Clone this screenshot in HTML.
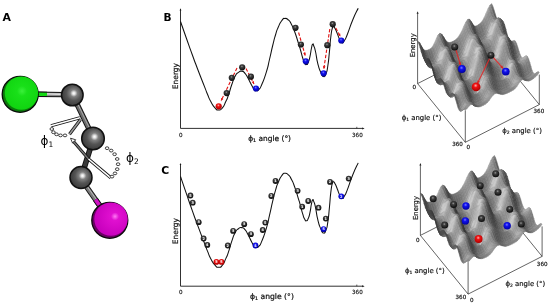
<!DOCTYPE html>
<html><head><meta charset="utf-8"><title>Energy landscape</title>
<style>html,body{margin:0;padding:0;background:#fff;}svg{display:block}</style></head>
<body><svg width="550" height="304" viewBox="0 0 550 304">
<rect width="550" height="304" fill="#fff"/>
<defs>
<radialGradient id="gG" cx="0.52" cy="0.44" r="0.6"><stop offset="0" stop-color="#3bf03b"/><stop offset="0.25" stop-color="#19e019"/><stop offset="1" stop-color="#0fd30f"/></radialGradient>
<radialGradient id="gM" cx="0.62" cy="0.42" r="0.6"><stop offset="0" stop-color="#ff7af5"/><stop offset="0.2" stop-color="#e010d0"/><stop offset="1" stop-color="#c800bd"/></radialGradient>
<radialGradient id="gC" cx="0.57" cy="0.42" r="0.62"><stop offset="0" stop-color="#ffffff"/><stop offset="0.1" stop-color="#e4e4e4"/><stop offset="0.27" stop-color="#808080"/><stop offset="0.55" stop-color="#545454"/><stop offset="1" stop-color="#363636"/></radialGradient>
<radialGradient id="bK" cx="0.45" cy="0.36" r="0.62"><stop offset="0" stop-color="#9a9a9a"/><stop offset="0.3" stop-color="#404040"/><stop offset="0.7" stop-color="#222"/><stop offset="1" stop-color="#0c0c0c"/></radialGradient>
<radialGradient id="bB" cx="0.45" cy="0.35" r="0.65"><stop offset="0" stop-color="#7a7aff"/><stop offset="0.35" stop-color="#1111ee"/><stop offset="1" stop-color="#0000a0"/></radialGradient>
<radialGradient id="bR" cx="0.45" cy="0.35" r="0.65"><stop offset="0" stop-color="#ffaaaa"/><stop offset="0.35" stop-color="#ee1111"/><stop offset="1" stop-color="#aa0000"/></radialGradient>
</defs>
<text x="2.6" y="20.8" font-size="10.9" font-weight="bold" text-anchor="start" font-family="DejaVu Sans, Liberation Sans, sans-serif" >A</text>
<text x="163.6" y="20.9" font-size="10.6" font-weight="bold" text-anchor="start" font-family="DejaVu Sans, Liberation Sans, sans-serif" >B</text>
<text x="161.2" y="173.9" font-size="10.8" font-weight="bold" text-anchor="start" font-family="DejaVu Sans, Liberation Sans, sans-serif" >C</text>
<line x1="51.0" y1="125.8" x2="80.0" y2="117.8" stroke="#111" stroke-width="3.20" stroke-linecap="butt"/>
<line x1="51.0" y1="125.8" x2="80.0" y2="117.8" stroke="#fff" stroke-width="1.60" stroke-linecap="butt"/>
<line x1="69.5" y1="134.2" x2="80.5" y2="119.5" stroke="#111" stroke-width="3.20" stroke-linecap="butt"/>
<line x1="69.5" y1="134.2" x2="80.5" y2="119.5" stroke="#999" stroke-width="1.60" stroke-linecap="butt"/>
<ellipse cx="51.8" cy="129.0" rx="1.8" ry="1.4" fill="#fff" stroke="#111" stroke-width="0.8"/>
<ellipse cx="53.4" cy="132.2" rx="1.8" ry="1.4" fill="#fff" stroke="#111" stroke-width="0.8"/>
<ellipse cx="56.5" cy="134.3" rx="1.8" ry="1.4" fill="#fff" stroke="#111" stroke-width="0.8"/>
<ellipse cx="60.5" cy="135.4" rx="1.8" ry="1.4" fill="#fff" stroke="#111" stroke-width="0.8"/>
<ellipse cx="65.0" cy="135.4" rx="1.8" ry="1.4" fill="#fff" stroke="#111" stroke-width="0.8"/>
<line x1="36.0" y1="94.3" x2="64.0" y2="94.6" stroke="#111" stroke-width="5.40" stroke-linecap="butt"/>
<line x1="36.0" y1="94.3" x2="64.0" y2="94.6" stroke="#8a8a8a" stroke-width="3.40" stroke-linecap="butt"/>
<line x1="46.0" y1="93.9" x2="63.0" y2="94.2" stroke="#e8e8e8" stroke-width="1.40" opacity="1.00"/>
<line x1="36.0" y1="94.3" x2="47.0" y2="94.4" stroke="#111" stroke-width="5.40" stroke-linecap="butt"/>
<line x1="36.0" y1="94.3" x2="47.0" y2="94.4" stroke="#14d814" stroke-width="3.40" stroke-linecap="butt"/>
<line x1="76.5" y1="103.0" x2="90.0" y2="131.0" stroke="#111" stroke-width="5.40" stroke-linecap="butt"/>
<line x1="76.5" y1="103.0" x2="90.0" y2="131.0" stroke="#6a6a6a" stroke-width="3.60" stroke-linecap="butt"/>
<line x1="77.3" y1="103.0" x2="90.8" y2="131.0" stroke="#aaa" stroke-width="1.00" opacity="1.00"/>
<line x1="91.0" y1="146.0" x2="83.5" y2="170.0" stroke="#111" stroke-width="5.60" stroke-linecap="butt"/>
<line x1="91.0" y1="146.0" x2="83.5" y2="170.0" stroke="#3a3a3a" stroke-width="3.80" stroke-linecap="butt"/>
<line x1="86.0" y1="186.0" x2="100.0" y2="206.0" stroke="#111" stroke-width="5.40" stroke-linecap="butt"/>
<line x1="86.0" y1="186.0" x2="100.0" y2="206.0" stroke="#7a7a7a" stroke-width="3.60" stroke-linecap="butt"/>
<line x1="86.6" y1="185.6" x2="100.6" y2="205.6" stroke="#bbb" stroke-width="1.00" opacity="1.00"/>
<line x1="95.5" y1="199.6" x2="101.0" y2="207.4" stroke="#111" stroke-width="5.40" stroke-linecap="butt"/>
<line x1="95.5" y1="199.6" x2="101.0" y2="207.4" stroke="#d010c4" stroke-width="3.60" stroke-linecap="butt"/>
<polygon points="70.5,138.2 75.8,139.8 72.6,143.2" fill="#fff" stroke="#111" stroke-width="0.8"/>
<line x1="73.5" y1="141.5" x2="88.5" y2="159.0" stroke="#111" stroke-width="3.00" stroke-linecap="butt"/>
<line x1="73.5" y1="141.5" x2="88.5" y2="159.0" stroke="#777" stroke-width="1.40" stroke-linecap="butt"/>
<line x1="88.5" y1="159.0" x2="110.8" y2="177.8" stroke="#111" stroke-width="3.20" stroke-linecap="butt"/>
<line x1="88.5" y1="159.0" x2="110.8" y2="177.8" stroke="#fff" stroke-width="1.60" stroke-linecap="butt"/>
<ellipse cx="107.1" cy="148.2" rx="1.8" ry="1.4" fill="#fff" stroke="#111" stroke-width="0.8"/>
<ellipse cx="111.2" cy="150.6" rx="1.8" ry="1.4" fill="#fff" stroke="#111" stroke-width="0.8"/>
<ellipse cx="114.6" cy="154.2" rx="1.8" ry="1.4" fill="#fff" stroke="#111" stroke-width="0.8"/>
<ellipse cx="117.2" cy="159.0" rx="1.8" ry="1.4" fill="#fff" stroke="#111" stroke-width="0.8"/>
<ellipse cx="118.1" cy="164.2" rx="1.8" ry="1.4" fill="#fff" stroke="#111" stroke-width="0.8"/>
<ellipse cx="117.2" cy="169.2" rx="1.8" ry="1.4" fill="#fff" stroke="#111" stroke-width="0.8"/>
<ellipse cx="115.0" cy="173.4" rx="1.8" ry="1.4" fill="#fff" stroke="#111" stroke-width="0.8"/>
<ellipse cx="112.0" cy="176.6" rx="1.8" ry="1.4" fill="#fff" stroke="#111" stroke-width="0.8"/>
<circle cx="20.2" cy="94.3" r="18.0" fill="#0a7a0a" stroke="#0a0a0a" stroke-width="1.3"/>
<circle cx="21.4" cy="93.1" r="16.7" fill="url(#gG)"/>
<circle cx="72.3" cy="95.0" r="10.8" fill="url(#gC)" stroke="#111" stroke-width="1.5"/>
<circle cx="93.0" cy="138.5" r="11.3" fill="url(#gC)" stroke="#111" stroke-width="1.5"/>
<circle cx="81.0" cy="177.5" r="11.0" fill="url(#gC)" stroke="#111" stroke-width="1.5"/>
<circle cx="109.8" cy="220.3" r="18.0" fill="#6a0064" stroke="#0a0a0a" stroke-width="1.3"/>
<circle cx="111.0" cy="219.1" r="16.7" fill="url(#gM)"/>
<text x="40.5" y="144.5" font-size="12" font-family="DejaVu Sans, Liberation Sans, sans-serif">ϕ<tspan font-size="7.5" dy="2.2">1</tspan></text>
<text x="126" y="161.5" font-size="12" font-family="DejaVu Sans, Liberation Sans, sans-serif">ϕ<tspan font-size="7.5" dy="2.2">2</tspan></text>
<path d="M180.5 9.4 V128.4 H363.2" fill="none" stroke="#1a1a1a" stroke-width="0.9"/>
<path d="M180.5 8.2 l-0.9 2.2 h1.8z" fill="#1a1a1a"/>
<path d="M364.6 128.4 l-2.4 -1 v2z" fill="#1a1a1a"/>
<path d="M356.8 128.4 v-1.6" stroke="#1a1a1a" stroke-width="0.7"/>
<path d="M180.50 21.50 C182.43 27.00 182.40 27.00 186.30 38.00 C190.20 49.00 188.53 44.43 192.20 54.50 C195.87 64.57 193.20 57.50 197.30 68.20 C201.40 78.90 201.07 77.83 204.50 86.60 C207.93 95.37 205.47 89.43 207.60 94.50 C209.73 99.57 208.43 97.33 210.90 101.80 C213.37 106.27 212.40 105.20 215.00 107.90 C217.60 110.60 216.23 109.90 218.70 109.90 C221.17 109.90 220.03 110.70 222.40 107.90 C224.77 105.10 223.77 105.80 225.80 101.50 C227.83 97.20 226.50 100.67 228.50 95.00 C230.50 89.33 229.63 90.67 231.80 84.50 C233.97 78.33 232.80 80.53 235.00 76.50 C237.20 72.47 236.13 74.13 238.40 72.40 C240.67 70.67 239.60 71.00 241.80 71.30 C244.00 71.60 242.87 70.90 245.00 73.30 C247.13 75.70 245.93 74.43 248.20 78.50 C250.47 82.57 249.73 81.80 251.80 85.50 C253.87 89.20 252.80 87.90 254.40 89.60 C256.00 91.30 255.07 90.70 256.60 90.60 C258.13 90.50 257.27 91.33 259.00 89.30 C260.73 87.27 259.33 90.33 261.80 84.50 C264.27 78.67 263.80 80.30 266.40 71.80 C269.00 63.30 267.50 67.77 269.60 59.00 C271.70 50.23 270.73 53.50 272.70 45.50 C274.67 37.50 273.67 41.07 275.50 35.00 C277.33 28.93 276.10 32.10 278.20 27.30 C280.30 22.50 279.50 23.57 281.80 20.60 C284.10 17.63 282.83 18.53 285.10 18.40 C287.37 18.27 286.47 18.17 288.60 20.20 C290.73 22.23 289.50 20.73 291.50 24.50 C293.50 28.27 292.37 25.50 294.60 31.50 C296.83 37.50 296.23 36.33 298.20 42.50 C300.17 48.67 299.00 44.83 300.50 50.00 C302.00 55.17 301.33 53.67 302.70 58.00 C304.07 62.33 303.37 60.80 304.60 63.00 C305.83 65.20 305.20 64.77 306.40 64.60 C307.60 64.43 307.00 65.23 308.20 62.50 C309.40 59.77 308.93 61.07 310.00 56.40 C311.07 51.73 310.53 52.53 311.40 48.50 C312.27 44.47 311.80 45.13 312.60 44.30 C313.40 43.47 312.83 43.60 313.80 46.00 C314.77 48.40 314.17 45.63 315.50 51.50 C316.83 57.37 316.00 56.53 317.80 63.60 C319.60 70.67 318.97 68.37 320.90 72.70 C322.83 77.03 321.90 76.33 323.60 76.60 C325.30 76.87 324.60 77.03 326.00 73.50 C327.40 69.97 326.67 73.17 327.80 66.00 C328.93 58.83 328.40 61.67 329.40 52.00 C330.40 42.33 329.80 45.00 330.80 37.00 C331.80 29.00 331.47 31.40 332.40 28.00 C333.33 24.60 332.67 26.53 333.60 26.80 C334.53 27.07 333.97 26.53 335.20 28.80 C336.43 31.07 335.77 29.93 337.30 33.60 C338.83 37.27 338.23 36.73 339.80 39.80 C341.37 42.87 340.47 42.57 342.00 42.80 C343.53 43.03 342.63 43.27 344.40 40.50 C346.17 37.73 344.53 41.33 347.30 34.50 C350.07 27.67 349.07 28.77 352.70 20.00 C356.33 11.23 356.37 12.13 358.20 8.20" fill="none" stroke="#111" stroke-width="1.05" stroke-linejoin="round"/>
<text x="180.8" y="136.5" font-size="5.6" text-anchor="middle" fill="#111" stroke="#111" stroke-width="0.15" font-family="DejaVu Sans, Liberation Sans, sans-serif">0</text>
<text x="357.4" y="136.5" font-size="5.6" text-anchor="middle" fill="#111" stroke="#111" stroke-width="0.15" font-family="DejaVu Sans, Liberation Sans, sans-serif">360</text>
<text x="269.6" y="141.3" font-size="7.45" text-anchor="middle" fill="#111" stroke="#111" stroke-width="0.22" font-family="DejaVu Sans, Liberation Sans, sans-serif">ϕ<tspan font-size="4.8" dy="1.1">1</tspan><tspan dy="-1.1"> angle (°)</tspan></text>
<text transform="translate(177.6 76.1) rotate(-90)" font-size="7.5" text-anchor="middle" fill="#111" stroke="#111" stroke-width="0.2" font-family="DejaVu Sans, Liberation Sans, sans-serif">Energy</text>
<line x1="237.0" y1="68.0" x2="221.0" y2="101.0" stroke="#e01010" stroke-width="1.1" stroke-dasharray="3.4 1.8"/>
<polygon points="221.0,101.0 221.1,97.9 223.4,99.0" fill="#e01010"/>
<line x1="246.0" y1="68.4" x2="254.0" y2="84.0" stroke="#e01010" stroke-width="1.1" stroke-dasharray="3.4 1.8"/>
<polygon points="254.0,84.0 251.6,82.1 253.9,80.9" fill="#e01010"/>
<line x1="298.6" y1="32.5" x2="305.2" y2="55.5" stroke="#e01010" stroke-width="1.1" stroke-dasharray="3.4 1.8"/>
<polygon points="305.2,55.5 303.2,53.2 305.7,52.5" fill="#e01010"/>
<line x1="329.8" y1="29.0" x2="323.8" y2="69.0" stroke="#e01010" stroke-width="1.1" stroke-dasharray="3.4 1.8"/>
<polygon points="323.8,69.0 322.9,66.0 325.5,66.4" fill="#e01010"/>
<line x1="335.8" y1="28.0" x2="340.4" y2="36.5" stroke="#e01010" stroke-width="1.1" stroke-dasharray="3.4 1.8"/>
<polygon points="340.4,36.5 337.9,34.7 340.2,33.4" fill="#e01010"/>
<circle cx="242.2" cy="67.3" r="3.1" fill="url(#bK)"/>
<circle cx="231.8" cy="77.8" r="3.1" fill="url(#bK)"/>
<circle cx="226.7" cy="93.1" r="3.1" fill="url(#bK)"/>
<circle cx="250.9" cy="76.7" r="3.1" fill="url(#bK)"/>
<circle cx="256.0" cy="88.5" r="3.1" fill="url(#bB)"/>
<circle cx="218.7" cy="106.3" r="3.1" fill="url(#bR)"/>
<circle cx="295.5" cy="27.8" r="3.1" fill="url(#bK)"/>
<circle cx="300.9" cy="44.5" r="3.1" fill="url(#bK)"/>
<circle cx="327.3" cy="45.2" r="3.1" fill="url(#bK)"/>
<circle cx="332.7" cy="24.2" r="3.1" fill="url(#bK)"/>
<circle cx="341.3" cy="40.5" r="3.1" fill="url(#bB)"/>
<circle cx="305.8" cy="61.3" r="3.1" fill="url(#bB)"/>
<circle cx="323.6" cy="73.3" r="3.1" fill="url(#bB)"/>
<path d="M180.5 164.1 V286.2 H363.2" fill="none" stroke="#1a1a1a" stroke-width="0.9"/>
<path d="M180.5 162.9 l-0.9 2.2 h1.8z" fill="#1a1a1a"/>
<path d="M364.6 286.2 l-2.4 -1 v2z" fill="#1a1a1a"/>
<path d="M356.8 286.2 v-1.6" stroke="#1a1a1a" stroke-width="0.7"/>
<path d="M180.50 176.52 C182.43 182.16 182.40 182.16 186.30 193.45 C190.20 204.73 188.53 200.05 192.20 210.37 C195.87 220.70 193.20 213.45 197.30 224.43 C201.40 235.41 201.07 234.32 204.50 243.31 C207.93 252.31 205.47 246.22 207.60 251.42 C209.73 256.62 208.43 254.32 210.90 258.91 C213.37 263.49 212.40 262.40 215.00 265.17 C217.60 267.94 216.23 267.22 218.70 267.22 C221.17 267.22 220.03 268.04 222.40 265.17 C224.77 262.29 223.77 263.01 225.80 258.60 C227.83 254.19 226.50 257.74 228.50 251.93 C230.50 246.12 229.63 247.48 231.80 241.16 C233.97 234.83 232.80 237.09 235.00 232.95 C237.20 228.81 236.13 230.52 238.40 228.74 C240.67 226.96 239.60 227.30 241.80 227.61 C244.00 227.92 242.87 227.20 245.00 229.66 C247.13 232.13 245.93 230.83 248.20 235.00 C250.47 239.17 249.73 238.39 251.80 242.18 C253.87 245.98 252.80 244.64 254.40 246.39 C256.00 248.13 255.07 247.52 256.60 247.42 C258.13 247.31 257.27 248.17 259.00 246.08 C260.73 244.00 259.33 247.14 261.80 241.16 C264.27 235.17 263.80 236.85 266.40 228.13 C269.00 219.40 267.50 223.99 269.60 214.99 C271.70 206.00 270.73 209.35 272.70 201.14 C274.67 192.93 273.67 196.59 275.50 190.37 C277.33 184.14 276.10 187.39 278.20 182.47 C280.30 177.54 279.50 178.64 281.80 175.59 C284.10 172.55 282.83 173.47 285.10 173.33 C287.37 173.20 286.47 173.10 288.60 175.18 C290.73 177.27 289.50 175.73 291.50 179.59 C293.50 183.46 292.37 180.62 294.60 186.78 C296.83 192.93 296.23 191.73 298.20 198.06 C300.17 204.39 299.00 200.46 300.50 205.76 C302.00 211.06 301.33 209.52 302.70 213.97 C304.07 218.41 303.37 216.84 304.60 219.10 C305.83 221.35 305.20 220.91 306.40 220.74 C307.60 220.57 307.00 221.39 308.20 218.58 C309.40 215.78 308.93 217.11 310.00 212.32 C311.07 207.54 310.53 208.36 311.40 204.22 C312.27 200.08 311.80 200.76 312.60 199.91 C313.40 199.05 312.83 199.19 313.80 201.65 C314.77 204.12 314.17 201.28 315.50 207.30 C316.83 213.32 316.00 212.46 317.80 219.71 C319.60 226.96 318.97 224.60 320.90 229.05 C322.83 233.50 321.90 232.78 323.60 233.05 C325.30 233.32 324.60 233.50 326.00 229.87 C327.40 226.24 326.67 229.53 327.80 222.17 C328.93 214.82 328.40 217.73 329.40 207.81 C330.40 197.89 329.80 200.63 330.80 192.42 C331.80 184.21 331.47 186.67 332.40 183.18 C333.33 179.70 332.67 181.68 333.60 181.95 C334.53 182.23 333.97 181.68 335.20 184.01 C336.43 186.33 335.77 185.17 337.30 188.93 C338.83 192.69 338.23 192.15 339.80 195.29 C341.37 198.44 340.47 198.13 342.00 198.37 C343.53 198.61 342.63 198.85 344.40 196.01 C346.17 193.17 344.53 196.87 347.30 189.85 C350.07 182.84 349.07 183.97 352.70 174.98 C356.33 165.98 356.37 166.90 358.20 162.87" fill="none" stroke="#111" stroke-width="1.05" stroke-linejoin="round"/>
<text x="180.8" y="294.3" font-size="5.6" text-anchor="middle" fill="#111" stroke="#111" stroke-width="0.15" font-family="DejaVu Sans, Liberation Sans, sans-serif">0</text>
<text x="357.4" y="294.3" font-size="5.6" text-anchor="middle" fill="#111" stroke="#111" stroke-width="0.15" font-family="DejaVu Sans, Liberation Sans, sans-serif">360</text>
<text x="271.9" y="299.0" font-size="7.65" text-anchor="middle" fill="#111" stroke="#111" stroke-width="0.22" font-family="DejaVu Sans, Liberation Sans, sans-serif">ϕ<tspan font-size="4.8" dy="1.1">1</tspan><tspan dy="-1.1"> angle (°)</tspan></text>
<text transform="translate(177.6 231.1) rotate(-90)" font-size="7.5" text-anchor="middle" fill="#111" stroke="#111" stroke-width="0.2" font-family="DejaVu Sans, Liberation Sans, sans-serif">Energy</text>
<circle cx="190.4" cy="195.5" r="2.9" fill="url(#bK)"/>
<text x="190.4" y="196.8" font-size="3.5" font-weight="bold" text-anchor="middle" fill="#f4f4f4" font-family="DejaVu Sans, Liberation Sans, sans-serif">5</text>
<circle cx="192.7" cy="202.7" r="2.9" fill="url(#bK)"/>
<text x="192.7" y="203.9" font-size="3.5" font-weight="bold" text-anchor="middle" fill="#f4f4f4" font-family="DejaVu Sans, Liberation Sans, sans-serif">3</text>
<circle cx="198.7" cy="222.2" r="2.9" fill="url(#bK)"/>
<text x="198.7" y="223.4" font-size="3.5" font-weight="bold" text-anchor="middle" fill="#f4f4f4" font-family="DejaVu Sans, Liberation Sans, sans-serif">3</text>
<circle cx="203.6" cy="238.5" r="2.9" fill="url(#bK)"/>
<text x="203.6" y="239.8" font-size="3.5" font-weight="bold" text-anchor="middle" fill="#f4f4f4" font-family="DejaVu Sans, Liberation Sans, sans-serif">2</text>
<circle cx="207.3" cy="244.9" r="2.9" fill="url(#bK)"/>
<text x="207.3" y="246.2" font-size="3.5" font-weight="bold" text-anchor="middle" fill="#f4f4f4" font-family="DejaVu Sans, Liberation Sans, sans-serif">4</text>
<circle cx="227.8" cy="245.5" r="2.9" fill="url(#bK)"/>
<text x="227.8" y="246.8" font-size="3.5" font-weight="bold" text-anchor="middle" fill="#f4f4f4" font-family="DejaVu Sans, Liberation Sans, sans-serif">2</text>
<circle cx="233.1" cy="230.9" r="2.9" fill="url(#bK)"/>
<text x="233.1" y="232.2" font-size="3.5" font-weight="bold" text-anchor="middle" fill="#f4f4f4" font-family="DejaVu Sans, Liberation Sans, sans-serif">3</text>
<circle cx="244.2" cy="224.2" r="2.9" fill="url(#bK)"/>
<text x="244.2" y="225.4" font-size="3.5" font-weight="bold" text-anchor="middle" fill="#f4f4f4" font-family="DejaVu Sans, Liberation Sans, sans-serif">3</text>
<circle cx="250.9" cy="234.2" r="2.9" fill="url(#bK)"/>
<text x="250.9" y="235.4" font-size="3.5" font-weight="bold" text-anchor="middle" fill="#f4f4f4" font-family="DejaVu Sans, Liberation Sans, sans-serif">3</text>
<circle cx="255.5" cy="245.5" r="2.9" fill="url(#bB)"/>
<text x="255.5" y="246.8" font-size="3.5" font-weight="bold" text-anchor="middle" fill="#f4f4f4" font-family="DejaVu Sans, Liberation Sans, sans-serif">4</text>
<circle cx="262.7" cy="230.0" r="2.9" fill="url(#bK)"/>
<text x="262.7" y="231.2" font-size="3.5" font-weight="bold" text-anchor="middle" fill="#f4f4f4" font-family="DejaVu Sans, Liberation Sans, sans-serif">4</text>
<circle cx="265.3" cy="222.6" r="2.9" fill="url(#bK)"/>
<text x="265.3" y="223.8" font-size="3.5" font-weight="bold" text-anchor="middle" fill="#f4f4f4" font-family="DejaVu Sans, Liberation Sans, sans-serif">5</text>
<circle cx="216.4" cy="261.9" r="2.9" fill="url(#bR)"/>
<text x="216.4" y="263.1" font-size="3.5" font-weight="bold" text-anchor="middle" fill="#f4f4f4" font-family="DejaVu Sans, Liberation Sans, sans-serif">3</text>
<circle cx="221.5" cy="261.9" r="2.9" fill="url(#bR)"/>
<text x="221.5" y="263.1" font-size="3.5" font-weight="bold" text-anchor="middle" fill="#f4f4f4" font-family="DejaVu Sans, Liberation Sans, sans-serif">5</text>
<circle cx="275.5" cy="181.0" r="2.9" fill="url(#bK)"/>
<text x="275.5" y="182.2" font-size="3.5" font-weight="bold" text-anchor="middle" fill="#f4f4f4" font-family="DejaVu Sans, Liberation Sans, sans-serif">1</text>
<circle cx="271.3" cy="196.0" r="2.9" fill="url(#bK)"/>
<text x="271.3" y="197.2" font-size="3.5" font-weight="bold" text-anchor="middle" fill="#f4f4f4" font-family="DejaVu Sans, Liberation Sans, sans-serif">2</text>
<circle cx="297.6" cy="190.8" r="2.9" fill="url(#bK)"/>
<text x="297.6" y="192.1" font-size="3.5" font-weight="bold" text-anchor="middle" fill="#f4f4f4" font-family="DejaVu Sans, Liberation Sans, sans-serif">3</text>
<circle cx="308.2" cy="201.0" r="2.9" fill="url(#bK)"/>
<text x="308.2" y="202.2" font-size="3.5" font-weight="bold" text-anchor="middle" fill="#f4f4f4" font-family="DejaVu Sans, Liberation Sans, sans-serif">5</text>
<circle cx="302.2" cy="206.7" r="2.9" fill="url(#bK)"/>
<text x="302.2" y="207.9" font-size="3.5" font-weight="bold" text-anchor="middle" fill="#f4f4f4" font-family="DejaVu Sans, Liberation Sans, sans-serif">1</text>
<circle cx="318.5" cy="207.7" r="2.9" fill="url(#bK)"/>
<text x="318.5" y="208.9" font-size="3.5" font-weight="bold" text-anchor="middle" fill="#f4f4f4" font-family="DejaVu Sans, Liberation Sans, sans-serif">4</text>
<circle cx="330.0" cy="181.9" r="2.9" fill="url(#bK)"/>
<text x="330.0" y="183.2" font-size="3.5" font-weight="bold" text-anchor="middle" fill="#f4f4f4" font-family="DejaVu Sans, Liberation Sans, sans-serif">2</text>
<circle cx="341.3" cy="196.3" r="2.9" fill="url(#bB)"/>
<text x="341.3" y="197.6" font-size="3.5" font-weight="bold" text-anchor="middle" fill="#f4f4f4" font-family="DejaVu Sans, Liberation Sans, sans-serif">2</text>
<circle cx="348.7" cy="178.6" r="2.9" fill="url(#bK)"/>
<text x="348.7" y="179.8" font-size="3.5" font-weight="bold" text-anchor="middle" fill="#f4f4f4" font-family="DejaVu Sans, Liberation Sans, sans-serif">3</text>
<circle cx="325.8" cy="218.6" r="2.9" fill="url(#bK)"/>
<text x="325.8" y="219.8" font-size="3.5" font-weight="bold" text-anchor="middle" fill="#f4f4f4" font-family="DejaVu Sans, Liberation Sans, sans-serif">1</text>
<circle cx="323.6" cy="229.2" r="2.9" fill="url(#bB)"/>
<text x="323.6" y="230.4" font-size="3.5" font-weight="bold" text-anchor="middle" fill="#f4f4f4" font-family="DejaVu Sans, Liberation Sans, sans-serif">5</text>
<defs><g id="surf"><g stroke-width="0.5" stroke-linejoin="round"><path d="M489.8 5.4L490.9 7.2L492.8 5.9L491.6 3.6Z" fill="#7e7e7e" stroke="#7e7e7e"/><path d="M487.9 8.9L489.1 10.3L490.9 7.2L489.8 5.4Z" fill="#929292" stroke="#929292"/><path d="M490.9 7.2L492.1 10.3L494.0 9.6L492.8 5.9Z" fill="#6c6c6c" stroke="#6c6c6c"/><path d="M486.0 13.3L487.2 14.6L489.1 10.3L487.9 8.9Z" fill="#a1a1a1" stroke="#a1a1a1"/><path d="M489.1 10.3L490.3 12.8L492.1 10.3L490.9 7.2Z" fill="#848484" stroke="#848484"/><path d="M492.1 10.3L493.3 13.8L495.2 13.8L494.0 9.6Z" fill="#606060" stroke="#606060"/><path d="M493.3 13.8L494.5 17.0L496.4 17.6L495.2 13.8Z" fill="#5a5a5a" stroke="#5a5a5a"/><path d="M484.2 17.6L485.4 19.1L487.2 14.6L486.0 13.3Z" fill="#a1a1a1" stroke="#a1a1a1"/><path d="M487.2 14.6L488.4 16.9L490.3 12.8L489.1 10.3Z" fill="#909090" stroke="#909090"/><path d="M490.3 12.8L491.5 15.8L493.3 13.8L492.1 10.3Z" fill="#7a7a7a" stroke="#7a7a7a"/><path d="M494.5 17.0L495.7 19.1L497.6 20.3L496.4 17.6Z" fill="#5a5a5a" stroke="#5a5a5a"/><path d="M482.3 20.9L483.5 22.8L485.4 19.1L484.2 17.6Z" fill="#939393" stroke="#939393"/><path d="M485.4 19.1L486.6 21.6L488.4 16.9L487.2 14.6Z" fill="#919191" stroke="#919191"/><path d="M488.4 16.9L489.6 19.6L491.5 15.8L490.3 12.8Z" fill="#8b8b8b" stroke="#8b8b8b"/><path d="M491.5 15.8L492.7 18.4L494.5 17.0L493.3 13.8Z" fill="#787878" stroke="#787878"/><path d="M480.5 23.1L481.7 25.2L483.5 22.8L482.3 20.9Z" fill="#888888" stroke="#888888"/><path d="M489.6 19.6L490.8 21.9L492.7 18.4L491.5 15.8Z" fill="#8e8e8e" stroke="#8e8e8e"/><path d="M492.7 18.4L493.9 19.9L495.7 19.1L494.5 17.0Z" fill="#7a7a7a" stroke="#7a7a7a"/><path d="M495.7 19.1L496.9 19.8L498.8 21.4L497.6 20.3Z" fill="#5c5c5c" stroke="#5c5c5c"/><path d="M483.5 22.8L484.7 25.5L486.6 21.6L485.4 19.1Z" fill="#8d8d8d" stroke="#8d8d8d"/><path d="M486.6 21.6L487.8 24.3L489.6 19.6L488.4 16.9Z" fill="#8f8f8f" stroke="#8f8f8f"/><path d="M478.6 24.6L479.8 26.7L481.7 25.2L480.5 23.1Z" fill="#7d7d7d" stroke="#7d7d7d"/><path d="M481.7 25.2L482.9 28.2L484.7 25.5L483.5 22.8Z" fill="#818181" stroke="#818181"/><path d="M490.8 21.9L492.0 23.0L493.9 19.9L492.7 18.4Z" fill="#949494" stroke="#949494"/><path d="M493.9 19.9L495.1 20.2L496.9 19.8L495.7 19.1Z" fill="#797979" stroke="#797979"/><path d="M496.9 19.8L498.1 19.5L499.9 21.3L498.8 21.4Z" fill="#5d5d5d" stroke="#5d5d5d"/><path d="M484.7 25.5L485.9 28.5L487.8 24.3L486.6 21.6Z" fill="#8b8b8b" stroke="#8b8b8b"/><path d="M487.8 24.3L489.0 26.5L490.8 21.9L489.6 19.6Z" fill="#939393" stroke="#939393"/><path d="M476.8 25.8L478.0 28.0L479.8 26.7L478.6 24.6Z" fill="#787878" stroke="#787878"/><path d="M479.8 26.7L481.0 29.9L482.9 28.2L481.7 25.2Z" fill="#757575" stroke="#757575"/><path d="M482.9 28.2L484.1 31.5L485.9 28.5L484.7 25.5Z" fill="#808080" stroke="#808080"/><path d="M485.9 28.5L487.1 31.1L489.0 26.5L487.8 24.3Z" fill="#919191" stroke="#919191"/><path d="M489.0 26.5L490.2 27.7L492.0 23.0L490.8 21.9Z" fill="#a7a7a7" stroke="#a7a7a7"/><path d="M492.0 23.0L493.2 22.9L495.1 20.2L493.9 19.9Z" fill="#9c9c9c" stroke="#9c9c9c"/><path d="M495.1 20.2L496.2 19.4L498.1 19.5L496.9 19.8Z" fill="#757575" stroke="#757575"/><path d="M498.1 19.5L499.3 18.8L501.1 20.7L499.9 21.3Z" fill="#5c5c5c" stroke="#5c5c5c"/><path d="M484.1 31.5L485.3 34.4L487.1 31.1L485.9 28.5Z" fill="#888888" stroke="#888888"/><path d="M499.3 18.8L500.5 18.8L502.3 20.8L501.1 20.7Z" fill="#585858" stroke="#585858"/><path d="M474.9 26.2L476.1 28.7L478.0 28.0L476.8 25.8Z" fill="#6f6f6f" stroke="#6f6f6f"/><path d="M478.0 28.0L479.2 31.1L481.0 29.9L479.8 26.7Z" fill="#717171" stroke="#717171"/><path d="M481.0 29.9L482.2 33.3L484.1 31.5L482.9 28.2Z" fill="#747474" stroke="#747474"/><path d="M487.1 31.1L488.3 32.5L490.2 27.7L489.0 26.5Z" fill="#a4a4a4" stroke="#a4a4a4"/><path d="M490.2 27.7L491.4 27.5L493.2 22.9L492.0 23.0Z" fill="#bebebe" stroke="#bebebe"/><path d="M493.2 22.9L494.4 21.7L496.2 19.4L495.1 20.2Z" fill="#939393" stroke="#939393"/><path d="M496.2 19.4L497.4 18.3L499.3 18.8L498.1 19.5Z" fill="#707070" stroke="#707070"/><path d="M485.3 34.4L486.5 36.3L488.3 32.5L487.1 31.1Z" fill="#939393" stroke="#939393"/><path d="M500.5 18.8L501.7 20.1L503.5 22.1L502.3 20.8Z" fill="#535353" stroke="#535353"/><path d="M473.1 24.7L474.3 27.5L476.1 28.7L474.9 26.2Z" fill="#545454" stroke="#545454"/><path d="M476.1 28.7L477.3 31.9L479.2 31.1L478.0 28.0Z" fill="#6a6a6a" stroke="#6a6a6a"/><path d="M479.2 31.1L480.4 34.6L482.2 33.3L481.0 29.9Z" fill="#6e6e6e" stroke="#6e6e6e"/><path d="M482.2 33.3L483.4 36.5L485.3 34.4L484.1 31.5Z" fill="#797979" stroke="#797979"/><path d="M488.3 32.5L489.5 32.7L491.4 27.5L490.2 27.7Z" fill="#c2c2c2" stroke="#c2c2c2"/><path d="M491.4 27.5L492.5 26.2L494.4 21.7L493.2 22.9Z" fill="#b0b0b0" stroke="#b0b0b0"/><path d="M494.4 21.7L495.6 20.2L497.4 18.3L496.2 19.4Z" fill="#8e8e8e" stroke="#8e8e8e"/><path d="M497.4 18.3L498.6 17.9L500.5 18.8L499.3 18.8Z" fill="#696969" stroke="#696969"/><path d="M471.2 21.5L472.4 24.4L474.3 27.5L473.1 24.7Z" fill="#454545" stroke="#454545"/><path d="M480.4 34.6L481.6 37.8L483.4 36.5L482.2 33.3Z" fill="#717171" stroke="#717171"/><path d="M483.4 36.5L484.6 38.7L486.5 36.3L485.3 34.4Z" fill="#868686" stroke="#868686"/><path d="M486.5 36.3L487.7 37.0L489.5 32.7L488.3 32.5Z" fill="#ababab" stroke="#ababab"/><path d="M495.6 20.2L496.8 19.3L498.6 17.9L497.4 18.3Z" fill="#8a8a8a" stroke="#8a8a8a"/><path d="M498.6 17.9L499.8 18.8L501.7 20.1L500.5 18.8Z" fill="#5e5e5e" stroke="#5e5e5e"/><path d="M501.7 20.1L502.9 23.0L504.7 25.1L503.5 22.1Z" fill="#4d4d4d" stroke="#4d4d4d"/><path d="M474.3 27.5L475.5 31.1L477.3 31.9L476.1 28.7Z" fill="#545454" stroke="#545454"/><path d="M477.3 31.9L478.5 35.5L480.4 34.6L479.2 31.1Z" fill="#696969" stroke="#696969"/><path d="M489.5 32.7L490.7 31.7L492.5 26.2L491.4 27.5Z" fill="#c6c6c6" stroke="#c6c6c6"/><path d="M492.5 26.2L493.7 24.6L495.6 20.2L494.4 21.7Z" fill="#acacac" stroke="#acacac"/><path d="M469.4 19.1L470.6 21.6L472.4 24.4L471.2 21.5Z" fill="#4a4a4a" stroke="#4a4a4a"/><path d="M472.4 24.4L473.6 28.1L475.5 31.1L474.3 27.5Z" fill="#444444" stroke="#444444"/><path d="M481.6 37.8L482.8 40.1L484.6 38.7L483.4 36.5Z" fill="#797979" stroke="#797979"/><path d="M484.6 38.7L485.8 39.8L487.7 37.0L486.5 36.3Z" fill="#919191" stroke="#919191"/><path d="M487.7 37.0L488.8 36.6L490.7 31.7L489.5 32.7Z" fill="#bcbcbc" stroke="#bcbcbc"/><path d="M496.8 19.3L498.0 19.5L499.8 18.8L498.6 17.9Z" fill="#818181" stroke="#818181"/><path d="M499.8 18.8L501.0 21.2L502.9 23.0L501.7 20.1Z" fill="#525252" stroke="#525252"/><path d="M502.9 23.0L504.1 27.3L505.9 29.4L504.7 25.1Z" fill="#484848" stroke="#484848"/><path d="M475.5 31.1L476.7 35.0L478.5 35.5L477.3 31.9Z" fill="#555555" stroke="#555555"/><path d="M478.5 35.5L479.7 38.8L481.6 37.8L480.4 34.6Z" fill="#6c6c6c" stroke="#6c6c6c"/><path d="M490.7 31.7L491.9 30.3L493.7 24.6L492.5 26.2Z" fill="#bebebe" stroke="#bebebe"/><path d="M493.7 24.6L494.9 23.3L496.8 19.3L495.6 20.2Z" fill="#adadad" stroke="#adadad"/><path d="M467.6 19.5L468.7 21.4L470.6 21.6L469.4 19.1Z" fill="#6a6a6a" stroke="#6a6a6a"/><path d="M470.6 21.6L471.8 25.0L473.6 28.1L472.4 24.4Z" fill="#454545" stroke="#454545"/><path d="M473.6 28.1L474.8 32.3L476.7 35.0L475.5 31.1Z" fill="#444444" stroke="#444444"/><path d="M476.7 35.0L477.9 38.6L479.7 38.8L478.5 35.5Z" fill="#5b5b5b" stroke="#5b5b5b"/><path d="M479.7 38.8L480.9 41.2L482.8 40.1L481.6 37.8Z" fill="#747474" stroke="#747474"/><path d="M482.8 40.1L484.0 41.4L485.8 39.8L484.6 38.7Z" fill="#848484" stroke="#848484"/><path d="M485.8 39.8L487.0 39.9L488.8 36.6L487.7 37.0Z" fill="#9f9f9f" stroke="#9f9f9f"/><path d="M488.8 36.6L490.0 35.7L491.9 30.3L490.7 31.7Z" fill="#c1c1c1" stroke="#c1c1c1"/><path d="M491.9 30.3L493.1 29.1L494.9 23.3L493.7 24.6Z" fill="#c7c7c7" stroke="#c7c7c7"/><path d="M494.9 23.3L496.1 23.1L498.0 19.5L496.8 19.3Z" fill="#ababab" stroke="#ababab"/><path d="M498.0 19.5L499.2 21.3L501.0 21.2L499.8 18.8Z" fill="#6e6e6e" stroke="#6e6e6e"/><path d="M501.0 21.2L502.2 25.0L504.1 27.3L502.9 23.0Z" fill="#494949" stroke="#494949"/><path d="M504.1 27.3L505.3 32.0L507.1 34.1L505.9 29.4Z" fill="#474747" stroke="#474747"/><path d="M474.8 32.3L476.0 36.1L477.9 38.6L476.7 35.0Z" fill="#464646" stroke="#464646"/><path d="M490.0 35.7L491.2 35.0L493.1 29.1L491.9 30.3Z" fill="#cbcbcb" stroke="#cbcbcb"/><path d="M505.3 32.0L506.4 36.4L508.3 38.3L507.1 34.1Z" fill="#494949" stroke="#494949"/><path d="M465.7 22.3L466.9 23.7L468.7 21.4L467.6 19.5Z" fill="#8c8c8c" stroke="#8c8c8c"/><path d="M468.7 21.4L469.9 24.2L471.8 25.0L470.6 21.6Z" fill="#5b5b5b" stroke="#5b5b5b"/><path d="M471.8 25.0L473.0 28.9L474.8 32.3L473.6 28.1Z" fill="#424242" stroke="#424242"/><path d="M477.9 38.6L479.1 41.3L480.9 41.2L479.7 38.8Z" fill="#646464" stroke="#646464"/><path d="M480.9 41.2L482.1 42.5L484.0 41.4L482.8 40.1Z" fill="#7d7d7d" stroke="#7d7d7d"/><path d="M484.0 41.4L485.1 41.7L487.0 39.9L485.8 39.8Z" fill="#8b8b8b" stroke="#8b8b8b"/><path d="M487.0 39.9L488.2 39.5L490.0 35.7L488.8 36.6Z" fill="#a8a8a8" stroke="#a8a8a8"/><path d="M493.1 29.1L494.3 28.8L496.1 23.1L494.9 23.3Z" fill="#c9c9c9" stroke="#c9c9c9"/><path d="M496.1 23.1L497.3 24.2L499.2 21.3L498.0 19.5Z" fill="#939393" stroke="#939393"/><path d="M499.2 21.3L500.4 24.3L502.2 25.0L501.0 21.2Z" fill="#5b5b5b" stroke="#5b5b5b"/><path d="M502.2 25.0L503.4 29.4L505.3 32.0L504.1 27.3Z" fill="#454545" stroke="#454545"/><path d="M476.0 36.1L477.2 39.1L479.1 41.3L477.9 38.6Z" fill="#4b4b4b" stroke="#4b4b4b"/><path d="M491.2 35.0L492.4 35.1L494.3 28.8L493.1 29.1Z" fill="#c4c4c4" stroke="#c4c4c4"/><path d="M463.8 26.2L465.0 27.4L466.9 23.7L465.7 22.3Z" fill="#9e9e9e" stroke="#9e9e9e"/><path d="M466.9 23.7L468.1 25.9L469.9 24.2L468.7 21.4Z" fill="#7f7f7f" stroke="#7f7f7f"/><path d="M469.9 24.2L471.1 27.5L473.0 28.9L471.8 25.0Z" fill="#525252" stroke="#525252"/><path d="M473.0 28.9L474.2 32.6L476.0 36.1L474.8 32.3Z" fill="#414141" stroke="#414141"/><path d="M479.1 41.3L480.3 42.9L482.1 42.5L480.9 41.2Z" fill="#707070" stroke="#707070"/><path d="M482.1 42.5L483.3 43.0L485.1 41.7L484.0 41.4Z" fill="#838383" stroke="#838383"/><path d="M485.1 41.7L486.3 41.8L488.2 39.5L487.0 39.9Z" fill="#8f8f8f" stroke="#8f8f8f"/><path d="M488.2 39.5L489.4 39.4L491.2 35.0L490.0 35.7Z" fill="#afafaf" stroke="#afafaf"/><path d="M494.3 28.8L495.5 29.7L497.3 24.2L496.1 23.1Z" fill="#ababab" stroke="#ababab"/><path d="M497.3 24.2L498.5 26.4L500.4 24.3L499.2 21.3Z" fill="#838383" stroke="#838383"/><path d="M500.4 24.3L501.6 28.0L503.4 29.4L502.2 25.0Z" fill="#515151" stroke="#515151"/><path d="M503.4 29.4L504.6 33.6L506.4 36.4L505.3 32.0Z" fill="#444444" stroke="#444444"/><path d="M506.4 36.4L507.6 39.6L509.5 41.1L508.3 38.3Z" fill="#4f4f4f" stroke="#4f4f4f"/><path d="M462.0 30.4L463.2 31.5L465.0 27.4L463.8 26.2Z" fill="#a3a3a3" stroke="#a3a3a3"/><path d="M471.1 27.5L472.3 30.6L474.2 32.6L473.0 28.9Z" fill="#4e4e4e" stroke="#4e4e4e"/><path d="M474.2 32.6L475.4 35.5L477.2 39.1L476.0 36.1Z" fill="#424242" stroke="#424242"/><path d="M477.2 39.1L478.4 41.1L480.3 42.9L479.1 41.3Z" fill="#525252" stroke="#525252"/><path d="M486.3 41.8L487.5 42.0L489.4 39.4L488.2 39.5Z" fill="#929292" stroke="#929292"/><path d="M489.4 39.4L490.6 40.1L492.4 35.1L491.2 35.0Z" fill="#b1b1b1" stroke="#b1b1b1"/><path d="M492.4 35.1L493.6 36.1L495.5 29.7L494.3 28.8Z" fill="#aaaaaa" stroke="#aaaaaa"/><path d="M501.6 28.0L502.7 31.5L504.6 33.6L503.4 29.4Z" fill="#4c4c4c" stroke="#4c4c4c"/><path d="M504.6 33.6L505.8 36.7L507.6 39.6L506.4 36.4Z" fill="#464646" stroke="#464646"/><path d="M507.6 39.6L508.8 41.2L510.7 42.2L509.5 41.1Z" fill="#5b5b5b" stroke="#5b5b5b"/><path d="M465.0 27.4L466.2 29.4L468.1 25.9L466.9 23.7Z" fill="#909090" stroke="#909090"/><path d="M468.1 25.9L469.3 28.6L471.1 27.5L469.9 24.2Z" fill="#747474" stroke="#747474"/><path d="M480.3 42.9L481.4 43.6L483.3 43.0L482.1 42.5Z" fill="#777777" stroke="#777777"/><path d="M483.3 43.0L484.5 43.1L486.3 41.8L485.1 41.7Z" fill="#868686" stroke="#868686"/><path d="M495.5 29.7L496.7 31.5L498.5 26.4L497.3 24.2Z" fill="#989898" stroke="#989898"/><path d="M498.5 26.4L499.7 29.2L501.6 28.0L500.4 24.3Z" fill="#747474" stroke="#747474"/><path d="M460.1 34.0L461.3 35.3L463.2 31.5L462.0 30.4Z" fill="#9d9d9d" stroke="#9d9d9d"/><path d="M463.2 31.5L464.4 33.5L466.2 29.4L465.0 27.4Z" fill="#939393" stroke="#939393"/><path d="M472.3 30.6L473.5 33.1L475.4 35.5L474.2 32.6Z" fill="#4d4d4d" stroke="#4d4d4d"/><path d="M475.4 35.5L476.6 37.6L478.4 41.1L477.2 39.1Z" fill="#454545" stroke="#454545"/><path d="M478.4 41.1L479.6 42.3L481.4 43.6L480.3 42.9Z" fill="#595959" stroke="#595959"/><path d="M487.5 42.0L488.7 43.1L490.6 40.1L489.4 39.4Z" fill="#949494" stroke="#949494"/><path d="M490.6 40.1L491.8 41.6L493.6 36.1L492.4 35.1Z" fill="#a5a5a5" stroke="#a5a5a5"/><path d="M493.6 36.1L494.8 38.0L496.7 31.5L495.5 29.7Z" fill="#9d9d9d" stroke="#9d9d9d"/><path d="M505.8 36.7L507.0 38.6L508.8 41.2L507.6 39.6Z" fill="#4c4c4c" stroke="#4c4c4c"/><path d="M508.8 41.2L510.0 41.7L511.9 41.9L510.7 42.2Z" fill="#6a6a6a" stroke="#6a6a6a"/><path d="M466.2 29.4L467.4 31.7L469.3 28.6L468.1 25.9Z" fill="#8a8a8a" stroke="#8a8a8a"/><path d="M469.3 28.6L470.5 31.2L472.3 30.6L471.1 27.5Z" fill="#6f6f6f" stroke="#6f6f6f"/><path d="M481.4 43.6L482.6 44.0L484.5 43.1L483.3 43.0Z" fill="#7c7c7c" stroke="#7c7c7c"/><path d="M484.5 43.1L485.7 43.6L487.5 42.0L486.3 41.8Z" fill="#878787" stroke="#878787"/><path d="M496.7 31.5L497.9 33.7L499.7 29.2L498.5 26.4Z" fill="#919191" stroke="#919191"/><path d="M499.7 29.2L500.9 31.9L502.7 31.5L501.6 28.0Z" fill="#6c6c6c" stroke="#6c6c6c"/><path d="M502.7 31.5L503.9 34.2L505.8 36.7L504.6 33.6Z" fill="#4b4b4b" stroke="#4b4b4b"/><path d="M458.3 36.9L459.5 38.5L461.3 35.3L460.1 34.0Z" fill="#919191" stroke="#919191"/><path d="M461.3 35.3L462.5 37.5L464.4 33.5L463.2 31.5Z" fill="#929292" stroke="#929292"/><path d="M464.4 33.5L465.6 35.8L467.4 31.7L466.2 29.4Z" fill="#909090" stroke="#909090"/><path d="M467.4 31.7L468.6 33.9L470.5 31.2L469.3 28.6Z" fill="#898989" stroke="#898989"/><path d="M470.5 31.2L471.7 33.1L473.5 33.1L472.3 30.6Z" fill="#6c6c6c" stroke="#6c6c6c"/><path d="M473.5 33.1L474.7 34.8L476.6 37.6L475.4 35.5Z" fill="#4c4c4c" stroke="#4c4c4c"/><path d="M476.6 37.6L477.7 38.9L479.6 42.3L478.4 41.1Z" fill="#484848" stroke="#484848"/><path d="M479.6 42.3L480.8 43.0L482.6 44.0L481.4 43.6Z" fill="#606060" stroke="#606060"/><path d="M482.6 44.0L483.8 44.6L485.7 43.6L484.5 43.1Z" fill="#7e7e7e" stroke="#7e7e7e"/><path d="M485.7 43.6L486.9 44.8L488.7 43.1L487.5 42.0Z" fill="#858585" stroke="#858585"/><path d="M488.7 43.1L489.9 45.2L491.8 41.6L490.6 40.1Z" fill="#919191" stroke="#919191"/><path d="M491.8 41.6L493.0 44.0L494.8 38.0L493.6 36.1Z" fill="#989898" stroke="#989898"/><path d="M494.8 38.0L496.0 40.1L497.9 33.7L496.7 31.5Z" fill="#979797" stroke="#979797"/><path d="M497.9 33.7L499.0 35.6L500.9 31.9L499.7 29.2Z" fill="#909090" stroke="#909090"/><path d="M500.9 31.9L502.1 33.8L503.9 34.2L502.7 31.5Z" fill="#676767" stroke="#676767"/><path d="M503.9 34.2L505.1 35.8L507.0 38.6L505.8 36.7Z" fill="#4c4c4c" stroke="#4c4c4c"/><path d="M507.0 38.6L508.2 39.4L510.0 41.7L508.8 41.2Z" fill="#525252" stroke="#525252"/><path d="M510.0 41.7L511.2 41.5L513.1 41.0L511.9 41.9Z" fill="#757575" stroke="#757575"/><path d="M465.6 35.8L466.8 37.9L468.6 33.9L467.4 31.7Z" fill="#929292" stroke="#929292"/><path d="M480.8 43.0L482.0 44.0L483.8 44.6L482.6 44.0Z" fill="#656565" stroke="#656565"/><path d="M496.0 40.1L497.2 41.8L499.0 35.6L497.9 33.7Z" fill="#9d9d9d" stroke="#9d9d9d"/><path d="M511.2 41.5L512.4 41.8L514.3 40.6L513.1 41.0Z" fill="#808080" stroke="#808080"/><path d="M456.4 39.0L457.6 40.9L459.5 38.5L458.3 36.9Z" fill="#888888" stroke="#888888"/><path d="M459.5 38.5L460.7 41.0L462.5 37.5L461.3 35.3Z" fill="#8c8c8c" stroke="#8c8c8c"/><path d="M462.5 37.5L463.7 40.1L465.6 35.8L464.4 33.5Z" fill="#909090" stroke="#909090"/><path d="M468.6 33.9L469.8 35.4L471.7 33.1L470.5 31.2Z" fill="#8c8c8c" stroke="#8c8c8c"/><path d="M471.7 33.1L472.9 34.2L474.7 34.8L473.5 33.1Z" fill="#696969" stroke="#696969"/><path d="M474.7 34.8L475.9 35.7L477.7 38.9L476.6 37.6Z" fill="#4c4c4c" stroke="#4c4c4c"/><path d="M477.7 38.9L478.9 39.8L480.8 43.0L479.6 42.3Z" fill="#4a4a4a" stroke="#4a4a4a"/><path d="M483.8 44.6L485.0 45.9L486.9 44.8L485.7 43.6Z" fill="#7c7c7c" stroke="#7c7c7c"/><path d="M486.9 44.8L488.1 47.1L489.9 45.2L488.7 43.1Z" fill="#808080" stroke="#808080"/><path d="M489.9 45.2L491.1 48.0L493.0 44.0L491.8 41.6Z" fill="#8d8d8d" stroke="#8d8d8d"/><path d="M493.0 44.0L494.2 46.5L496.0 40.1L494.8 38.0Z" fill="#949494" stroke="#949494"/><path d="M502.1 33.8L503.3 34.7L505.1 35.8L503.9 34.2Z" fill="#636363" stroke="#636363"/><path d="M505.1 35.8L506.3 36.5L508.2 39.4L507.0 38.6Z" fill="#4e4e4e" stroke="#4e4e4e"/><path d="M508.2 39.4L509.4 39.8L511.2 41.5L510.0 41.7Z" fill="#575757" stroke="#575757"/><path d="M499.0 35.6L500.2 36.7L502.1 33.8L500.9 31.9Z" fill="#939393" stroke="#939393"/><path d="M466.8 37.9L468.0 39.3L469.8 35.4L468.6 33.9Z" fill="#9c9c9c" stroke="#9c9c9c"/><path d="M482.0 44.0L483.2 45.7L485.0 45.9L483.8 44.6Z" fill="#676767" stroke="#676767"/><path d="M454.6 40.4L455.8 42.5L457.6 40.9L456.4 39.0Z" fill="#7e7e7e" stroke="#7e7e7e"/><path d="M457.6 40.9L458.8 43.7L460.7 41.0L459.5 38.5Z" fill="#838383" stroke="#838383"/><path d="M460.7 41.0L461.9 43.9L463.7 40.1L462.5 37.5Z" fill="#8b8b8b" stroke="#8b8b8b"/><path d="M463.7 40.1L464.9 42.4L466.8 37.9L465.6 35.8Z" fill="#929292" stroke="#929292"/><path d="M469.8 35.4L471.0 36.0L472.9 34.2L471.7 33.1Z" fill="#8c8c8c" stroke="#8c8c8c"/><path d="M472.9 34.2L474.0 34.5L475.9 35.7L474.7 34.8Z" fill="#646464" stroke="#646464"/><path d="M475.9 35.7L477.1 36.4L478.9 39.8L477.7 38.9Z" fill="#4b4b4b" stroke="#4b4b4b"/><path d="M478.9 39.8L480.1 41.1L482.0 44.0L480.8 43.0Z" fill="#4b4b4b" stroke="#4b4b4b"/><path d="M485.0 45.9L486.2 48.3L488.1 47.1L486.9 44.8Z" fill="#767676" stroke="#767676"/><path d="M488.1 47.1L489.3 50.2L491.1 48.0L489.9 45.2Z" fill="#7b7b7b" stroke="#7b7b7b"/><path d="M491.1 48.0L492.3 51.1L494.2 46.5L493.0 44.0Z" fill="#8d8d8d" stroke="#8d8d8d"/><path d="M494.2 46.5L495.3 48.5L497.2 41.8L496.0 40.1Z" fill="#9c9c9c" stroke="#9c9c9c"/><path d="M497.2 41.8L498.4 42.6L500.2 36.7L499.0 35.6Z" fill="#ababab" stroke="#ababab"/><path d="M500.2 36.7L501.4 36.8L503.3 34.7L502.1 33.8Z" fill="#929292" stroke="#929292"/><path d="M503.3 34.7L504.5 34.8L506.3 36.5L505.1 35.8Z" fill="#5e5e5e" stroke="#5e5e5e"/><path d="M506.3 36.5L507.5 37.0L509.4 39.8L508.2 39.4Z" fill="#4f4f4f" stroke="#4f4f4f"/><path d="M509.4 39.8L510.6 40.7L512.4 41.8L511.2 41.5Z" fill="#5d5d5d" stroke="#5d5d5d"/><path d="M512.4 41.8L513.6 43.2L515.5 41.3L514.3 40.6Z" fill="#868686" stroke="#868686"/><path d="M464.9 42.4L466.1 43.9L468.0 39.3L466.8 37.9Z" fill="#a1a1a1" stroke="#a1a1a1"/><path d="M468.0 39.3L469.2 39.6L471.0 36.0L469.8 35.4Z" fill="#a8a8a8" stroke="#a8a8a8"/><path d="M480.1 41.1L481.3 43.1L483.2 45.7L482.0 44.0Z" fill="#4b4b4b" stroke="#4b4b4b"/><path d="M483.2 45.7L484.4 48.4L486.2 48.3L485.0 45.9Z" fill="#656565" stroke="#656565"/><path d="M498.4 42.6L499.6 42.2L501.4 36.8L500.2 36.7Z" fill="#c7c7c7" stroke="#c7c7c7"/><path d="M513.6 43.2L514.8 46.0L516.6 43.6L515.5 41.3Z" fill="#808080" stroke="#808080"/><path d="M452.8 41.4L453.9 43.6L455.8 42.5L454.6 40.4Z" fill="#777777" stroke="#777777"/><path d="M458.8 43.7L460.0 47.0L461.9 43.9L460.7 41.0Z" fill="#828282" stroke="#828282"/><path d="M461.9 43.9L463.1 46.6L464.9 42.4L463.7 40.1Z" fill="#8e8e8e" stroke="#8e8e8e"/><path d="M477.1 36.4L478.3 37.5L480.1 41.1L478.9 39.8Z" fill="#484848" stroke="#484848"/><path d="M492.3 51.1L493.5 53.6L495.3 48.5L494.2 46.5Z" fill="#939393" stroke="#939393"/><path d="M495.3 48.5L496.5 49.4L498.4 42.6L497.2 41.8Z" fill="#a9a9a9" stroke="#a9a9a9"/><path d="M507.5 37.0L508.7 38.0L510.6 40.7L509.4 39.8Z" fill="#4e4e4e" stroke="#4e4e4e"/><path d="M510.6 40.7L511.8 42.6L513.6 43.2L512.4 41.8Z" fill="#5f5f5f" stroke="#5f5f5f"/><path d="M455.8 42.5L457.0 45.5L458.8 43.7L457.6 40.9Z" fill="#787878" stroke="#787878"/><path d="M471.0 36.0L472.2 35.7L474.0 34.5L472.9 34.2Z" fill="#888888" stroke="#888888"/><path d="M474.0 34.5L475.2 34.6L477.1 36.4L475.9 35.7Z" fill="#5d5d5d" stroke="#5d5d5d"/><path d="M486.2 48.3L487.4 51.4L489.3 50.2L488.1 47.1Z" fill="#717171" stroke="#717171"/><path d="M489.3 50.2L490.5 53.5L492.3 51.1L491.1 48.0Z" fill="#7b7b7b" stroke="#7b7b7b"/><path d="M501.4 36.8L502.6 36.2L504.5 34.8L503.3 34.7Z" fill="#8c8c8c" stroke="#8c8c8c"/><path d="M504.5 34.8L505.7 34.8L507.5 37.0L506.3 36.5Z" fill="#585858" stroke="#585858"/><path d="M463.1 46.6L464.3 48.5L466.1 43.9L464.9 42.4Z" fill="#9a9a9a" stroke="#9a9a9a"/><path d="M466.1 43.9L467.3 44.4L469.2 39.6L468.0 39.3Z" fill="#afafaf" stroke="#afafaf"/><path d="M469.2 39.6L470.3 39.0L472.2 35.7L471.0 36.0Z" fill="#a7a7a7" stroke="#a7a7a7"/><path d="M478.3 37.5L479.5 39.4L481.3 43.1L480.1 41.1Z" fill="#444444" stroke="#444444"/><path d="M481.3 43.1L482.5 46.2L484.4 48.4L483.2 45.7Z" fill="#4a4a4a" stroke="#4a4a4a"/><path d="M484.4 48.4L485.6 51.8L487.4 51.4L486.2 48.3Z" fill="#636363" stroke="#636363"/><path d="M496.5 49.4L497.7 49.2L499.6 42.2L498.4 42.6Z" fill="#bababa" stroke="#bababa"/><path d="M499.6 42.2L500.8 41.0L502.6 36.2L501.4 36.8Z" fill="#c7c7c7" stroke="#c7c7c7"/><path d="M511.8 42.6L512.9 45.9L514.8 46.0L513.6 43.2Z" fill="#5e5e5e" stroke="#5e5e5e"/><path d="M514.8 46.0L516.0 49.9L517.8 47.1L516.6 43.6Z" fill="#787878" stroke="#787878"/><path d="M450.9 42.2L452.1 44.4L453.9 43.6L452.8 41.4Z" fill="#737373" stroke="#737373"/><path d="M453.9 43.6L455.1 46.7L457.0 45.5L455.8 42.5Z" fill="#707070" stroke="#707070"/><path d="M457.0 45.5L458.2 49.1L460.0 47.0L458.8 43.7Z" fill="#767676" stroke="#767676"/><path d="M460.0 47.0L461.2 50.1L463.1 46.6L461.9 43.9Z" fill="#868686" stroke="#868686"/><path d="M475.2 34.6L476.4 35.0L478.3 37.5L477.1 36.4Z" fill="#545454" stroke="#545454"/><path d="M490.5 53.5L491.6 56.5L493.5 53.6L492.3 51.1Z" fill="#838383" stroke="#838383"/><path d="M493.5 53.6L494.7 55.1L496.5 49.4L495.3 48.5Z" fill="#a7a7a7" stroke="#a7a7a7"/><path d="M505.7 34.8L506.9 35.5L508.7 38.0L507.5 37.0Z" fill="#525252" stroke="#525252"/><path d="M508.7 38.0L509.9 40.2L511.8 42.6L510.6 40.7Z" fill="#4c4c4c" stroke="#4c4c4c"/><path d="M472.2 35.7L473.4 35.1L475.2 34.6L474.0 34.5Z" fill="#7f7f7f" stroke="#7f7f7f"/><path d="M487.4 51.4L488.6 54.8L490.5 53.5L489.3 50.2Z" fill="#6f6f6f" stroke="#6f6f6f"/><path d="M502.6 36.2L503.8 35.5L505.7 34.8L504.5 34.8Z" fill="#818181" stroke="#818181"/><path d="M449.1 42.6L450.2 44.9L452.1 44.4L450.9 42.2Z" fill="#6d6d6d" stroke="#6d6d6d"/><path d="M455.1 46.7L456.3 50.4L458.2 49.1L457.0 45.5Z" fill="#6d6d6d" stroke="#6d6d6d"/><path d="M461.2 50.1L462.4 52.5L464.3 48.5L463.1 46.6Z" fill="#909090" stroke="#909090"/><path d="M464.3 48.5L465.5 49.4L467.3 44.4L466.1 43.9Z" fill="#aeaeae" stroke="#aeaeae"/><path d="M467.3 44.4L468.5 43.7L470.3 39.0L469.2 39.6Z" fill="#c1c1c1" stroke="#c1c1c1"/><path d="M470.3 39.0L471.5 37.8L473.4 35.1L472.2 35.7Z" fill="#9c9c9c" stroke="#9c9c9c"/><path d="M476.4 35.0L477.6 36.2L479.5 39.4L478.3 37.5Z" fill="#4c4c4c" stroke="#4c4c4c"/><path d="M479.5 39.4L480.7 42.3L482.5 46.2L481.3 43.1Z" fill="#414141" stroke="#414141"/><path d="M482.5 46.2L483.7 49.9L485.6 51.8L484.4 48.4Z" fill="#4b4b4b" stroke="#4b4b4b"/><path d="M485.6 51.8L486.8 55.4L488.6 54.8L487.4 51.4Z" fill="#646464" stroke="#646464"/><path d="M494.7 55.1L495.9 55.4L497.7 49.2L496.5 49.4Z" fill="#c0c0c0" stroke="#c0c0c0"/><path d="M497.7 49.2L498.9 48.0L500.8 41.0L499.6 42.2Z" fill="#c0c0c0" stroke="#c0c0c0"/><path d="M500.8 41.0L502.0 39.7L503.8 35.5L502.6 36.2Z" fill="#b3b3b3" stroke="#b3b3b3"/><path d="M509.9 40.2L511.1 43.8L512.9 45.9L511.8 42.6Z" fill="#494949" stroke="#494949"/><path d="M512.9 45.9L514.1 50.2L516.0 49.9L514.8 46.0Z" fill="#5c5c5c" stroke="#5c5c5c"/><path d="M516.0 49.9L517.2 54.1L519.0 51.2L517.8 47.1Z" fill="#767676" stroke="#767676"/><path d="M452.1 44.4L453.3 47.5L455.1 46.7L453.9 43.6Z" fill="#6c6c6c" stroke="#6c6c6c"/><path d="M458.2 49.1L459.4 52.5L461.2 50.1L460.0 47.0Z" fill="#7a7a7a" stroke="#7a7a7a"/><path d="M473.4 35.1L474.6 34.6L476.4 35.0L475.2 34.6Z" fill="#737373" stroke="#737373"/><path d="M488.6 54.8L489.8 57.9L491.6 56.5L490.5 53.5Z" fill="#737373" stroke="#737373"/><path d="M491.6 56.5L492.8 58.5L494.7 55.1L493.5 53.6Z" fill="#909090" stroke="#909090"/><path d="M503.8 35.5L505.0 35.4L506.9 35.5L505.7 34.8Z" fill="#757575" stroke="#757575"/><path d="M506.9 35.5L508.1 37.5L509.9 40.2L508.7 38.0Z" fill="#4c4c4c" stroke="#4c4c4c"/><path d="M471.5 37.8L472.7 36.5L474.6 34.6L473.4 35.1Z" fill="#919191" stroke="#919191"/><path d="M486.8 55.4L487.9 58.6L489.8 57.9L488.6 54.8Z" fill="#696969" stroke="#696969"/><path d="M502.0 39.7L503.2 38.9L505.0 35.4L503.8 35.5Z" fill="#acacac" stroke="#acacac"/><path d="M447.2 41.9L448.4 44.5L450.2 44.9L449.1 42.6Z" fill="#5f5f5f" stroke="#5f5f5f"/><path d="M450.2 44.9L451.4 48.1L453.3 47.5L452.1 44.4Z" fill="#676767" stroke="#676767"/><path d="M453.3 47.5L454.5 51.2L456.3 50.4L455.1 46.7Z" fill="#676767" stroke="#676767"/><path d="M456.3 50.4L457.5 53.9L459.4 52.5L458.2 49.1Z" fill="#6f6f6f" stroke="#6f6f6f"/><path d="M459.4 52.5L460.6 55.3L462.4 52.5L461.2 50.1Z" fill="#858585" stroke="#858585"/><path d="M462.4 52.5L463.6 53.8L465.5 49.4L464.3 48.5Z" fill="#a5a5a5" stroke="#a5a5a5"/><path d="M465.5 49.4L466.6 49.0L468.5 43.7L467.3 44.4Z" fill="#cacaca" stroke="#cacaca"/><path d="M468.5 43.7L469.7 42.2L471.5 37.8L470.3 39.0Z" fill="#afafaf" stroke="#afafaf"/><path d="M474.6 34.6L475.8 34.9L477.6 36.2L476.4 35.0Z" fill="#636363" stroke="#636363"/><path d="M477.6 36.2L478.8 38.6L480.7 42.3L479.5 39.4Z" fill="#444444" stroke="#444444"/><path d="M480.7 42.3L481.9 46.1L483.7 49.9L482.5 46.2Z" fill="#3f3f3f" stroke="#3f3f3f"/><path d="M483.7 49.9L484.9 53.9L486.8 55.4L485.6 51.8Z" fill="#4d4d4d" stroke="#4d4d4d"/><path d="M492.8 58.5L494.0 59.4L495.9 55.4L494.7 55.1Z" fill="#a6a6a6" stroke="#a6a6a6"/><path d="M495.9 55.4L497.1 54.7L498.9 48.0L497.7 49.2Z" fill="#c7c7c7" stroke="#c7c7c7"/><path d="M498.9 48.0L500.1 46.4L502.0 39.7L500.8 41.0Z" fill="#bfbfbf" stroke="#bfbfbf"/><path d="M508.1 37.5L509.2 40.9L511.1 43.8L509.9 40.2Z" fill="#464646" stroke="#464646"/><path d="M511.1 43.8L512.3 48.4L514.1 50.2L512.9 45.9Z" fill="#484848" stroke="#484848"/><path d="M514.1 50.2L515.3 54.9L517.2 54.1L516.0 49.9Z" fill="#5e5e5e" stroke="#5e5e5e"/><path d="M517.2 54.1L518.4 57.9L520.2 54.7L519.0 51.2Z" fill="#7d7d7d" stroke="#7d7d7d"/><path d="M489.8 57.9L491.0 60.1L492.8 58.5L491.6 56.5Z" fill="#7c7c7c" stroke="#7c7c7c"/><path d="M505.0 35.4L506.2 36.6L508.1 37.5L506.9 35.5Z" fill="#656565" stroke="#656565"/><path d="M472.7 36.5L473.9 35.9L475.8 34.9L474.6 34.6Z" fill="#888888" stroke="#888888"/><path d="M451.4 48.1L452.6 51.7L454.5 51.2L453.3 47.5Z" fill="#646464" stroke="#646464"/><path d="M469.7 42.2L470.9 40.5L472.7 36.5L471.5 37.8Z" fill="#ababab" stroke="#ababab"/><path d="M484.9 53.9L486.1 57.6L487.9 58.6L486.8 55.4Z" fill="#525252" stroke="#525252"/><path d="M487.9 58.6L489.1 60.9L491.0 60.1L489.8 57.9Z" fill="#727272" stroke="#727272"/><path d="M500.1 46.4L501.3 45.3L503.2 38.9L502.0 39.7Z" fill="#c6c6c6" stroke="#c6c6c6"/><path d="M503.2 38.9L504.4 39.3L506.2 36.6L505.0 35.4Z" fill="#999999" stroke="#999999"/><path d="M445.4 39.9L446.5 42.7L448.4 44.5L447.2 41.9Z" fill="#4f4f4f" stroke="#4f4f4f"/><path d="M448.4 44.5L449.6 47.9L451.4 48.1L450.2 44.9Z" fill="#5c5c5c" stroke="#5c5c5c"/><path d="M454.5 51.2L455.7 54.7L457.5 53.9L456.3 50.4Z" fill="#686868" stroke="#686868"/><path d="M457.5 53.9L458.7 56.9L460.6 55.3L459.4 52.5Z" fill="#767676" stroke="#767676"/><path d="M460.6 55.3L461.8 57.0L463.6 53.8L462.4 52.5Z" fill="#919191" stroke="#919191"/><path d="M463.6 53.8L464.8 53.9L466.6 49.0L465.5 49.4Z" fill="#bebebe" stroke="#bebebe"/><path d="M466.6 49.0L467.8 47.7L469.7 42.2L468.5 43.7Z" fill="#bfbfbf" stroke="#bfbfbf"/><path d="M475.8 34.9L477.0 36.3L478.8 38.6L477.6 36.2Z" fill="#535353" stroke="#535353"/><path d="M478.8 38.6L480.0 42.0L481.9 46.1L480.7 42.3Z" fill="#3f3f3f" stroke="#3f3f3f"/><path d="M481.9 46.1L483.1 50.3L484.9 53.9L483.7 49.9Z" fill="#3f3f3f" stroke="#3f3f3f"/><path d="M491.0 60.1L492.2 61.2L494.0 59.4L492.8 58.5Z" fill="#878787" stroke="#878787"/><path d="M494.0 59.4L495.2 59.3L497.1 54.7L495.9 55.4Z" fill="#b2b2b2" stroke="#b2b2b2"/><path d="M497.1 54.7L498.3 53.6L500.1 46.4L498.9 48.0Z" fill="#bfbfbf" stroke="#bfbfbf"/><path d="M506.2 36.6L507.4 39.4L509.2 40.9L508.1 37.5Z" fill="#545454" stroke="#545454"/><path d="M509.2 40.9L510.4 45.5L512.3 48.4L511.1 43.8Z" fill="#424242" stroke="#424242"/><path d="M512.3 48.4L513.5 53.5L515.3 54.9L514.1 50.2Z" fill="#4a4a4a" stroke="#4a4a4a"/><path d="M515.3 54.9L516.5 59.1L518.4 57.9L517.2 54.1Z" fill="#676767" stroke="#676767"/><path d="M518.4 57.9L519.6 60.3L521.4 57.0L520.2 54.7Z" fill="#8c8c8c" stroke="#8c8c8c"/><path d="M470.9 40.5L472.1 39.3L473.9 35.9L472.7 36.5Z" fill="#a9a9a9" stroke="#a9a9a9"/><path d="M473.9 35.9L475.1 36.3L477.0 36.3L475.8 34.9Z" fill="#767676" stroke="#767676"/><path d="M489.1 60.9L490.3 62.1L492.2 61.2L491.0 60.1Z" fill="#7b7b7b" stroke="#7b7b7b"/><path d="M504.4 39.3L505.5 41.2L507.4 39.4L506.2 36.6Z" fill="#838383" stroke="#838383"/><path d="M519.6 60.3L520.8 61.2L522.6 57.7L521.4 57.0Z" fill="#a0a0a0" stroke="#a0a0a0"/><path d="M443.5 36.8L444.7 39.6L446.5 42.7L445.4 39.9Z" fill="#464646" stroke="#464646"/><path d="M449.6 47.9L450.8 51.6L452.6 51.7L451.4 48.1Z" fill="#5c5c5c" stroke="#5c5c5c"/><path d="M452.6 51.7L453.8 55.1L455.7 54.7L454.5 51.2Z" fill="#646464" stroke="#646464"/><path d="M458.7 56.9L459.9 58.9L461.8 57.0L460.6 55.3Z" fill="#828282" stroke="#828282"/><path d="M467.8 47.7L469.0 46.0L470.9 40.5L469.7 42.2Z" fill="#b7b7b7" stroke="#b7b7b7"/><path d="M483.1 50.3L484.2 54.2L486.1 57.6L484.9 53.9Z" fill="#414141" stroke="#414141"/><path d="M486.1 57.6L487.3 60.3L489.1 60.9L487.9 58.6Z" fill="#5a5a5a" stroke="#5a5a5a"/><path d="M498.3 53.6L499.5 52.7L501.3 45.3L500.1 46.4Z" fill="#bbbbbb" stroke="#bbbbbb"/><path d="M501.3 45.3L502.5 45.2L504.4 39.3L503.2 38.9Z" fill="#b9b9b9" stroke="#b9b9b9"/><path d="M446.5 42.7L447.7 46.3L449.6 47.9L448.4 44.5Z" fill="#4e4e4e" stroke="#4e4e4e"/><path d="M455.7 54.7L456.9 57.6L458.7 56.9L457.5 53.9Z" fill="#6c6c6c" stroke="#6c6c6c"/><path d="M461.8 57.0L462.9 57.6L464.8 53.9L463.6 53.8Z" fill="#a5a5a5" stroke="#a5a5a5"/><path d="M464.8 53.9L466.0 53.0L467.8 47.7L466.6 49.0Z" fill="#c3c3c3" stroke="#c3c3c3"/><path d="M477.0 36.3L478.2 38.8L480.0 42.0L478.8 38.6Z" fill="#484848" stroke="#484848"/><path d="M480.0 42.0L481.2 45.8L483.1 50.3L481.9 46.1Z" fill="#3c3c3c" stroke="#3c3c3c"/><path d="M492.2 61.2L493.4 61.4L495.2 59.3L494.0 59.4Z" fill="#8d8d8d" stroke="#8d8d8d"/><path d="M495.2 59.3L496.4 58.8L498.3 53.6L497.1 54.7Z" fill="#c3c3c3" stroke="#c3c3c3"/><path d="M507.4 39.4L508.6 43.5L510.4 45.5L509.2 40.9Z" fill="#4a4a4a" stroke="#4a4a4a"/><path d="M510.4 45.5L511.6 50.7L513.5 53.5L512.3 48.4Z" fill="#414141" stroke="#414141"/><path d="M513.5 53.5L514.7 58.1L516.5 59.1L515.3 54.9Z" fill="#4f4f4f" stroke="#4f4f4f"/><path d="M516.5 59.1L517.7 61.9L519.6 60.3L518.4 57.9Z" fill="#767676" stroke="#767676"/><path d="M453.8 55.1L455.0 57.9L456.9 57.6L455.7 54.7Z" fill="#686868" stroke="#686868"/><path d="M469.0 46.0L470.2 44.6L472.1 39.3L470.9 40.5Z" fill="#c2c2c2" stroke="#c2c2c2"/><path d="M472.1 39.3L473.3 39.0L475.1 36.3L473.9 35.9Z" fill="#9f9f9f" stroke="#9f9f9f"/><path d="M475.1 36.3L476.3 37.8L478.2 38.8L477.0 36.3Z" fill="#626262" stroke="#626262"/><path d="M487.3 60.3L488.5 61.9L490.3 62.1L489.1 60.9Z" fill="#666666" stroke="#666666"/><path d="M490.3 62.1L491.5 62.5L493.4 61.4L492.2 61.2Z" fill="#818181" stroke="#818181"/><path d="M502.5 45.2L503.7 46.5L505.5 41.2L504.4 39.3Z" fill="#a1a1a1" stroke="#a1a1a1"/><path d="M505.5 41.2L506.7 44.5L508.6 43.5L507.4 39.4Z" fill="#6d6d6d" stroke="#6d6d6d"/><path d="M517.7 61.9L518.9 63.3L520.8 61.2L519.6 60.3Z" fill="#888888" stroke="#888888"/><path d="M520.8 61.2L521.9 60.9L523.8 57.1L522.6 57.7Z" fill="#a9a9a9" stroke="#a9a9a9"/><path d="M441.6 34.0L442.8 36.6L444.7 39.6L443.5 36.8Z" fill="#474747" stroke="#474747"/><path d="M444.7 39.6L445.9 43.4L447.7 46.3L446.5 42.7Z" fill="#444444" stroke="#444444"/><path d="M447.7 46.3L448.9 50.3L450.8 51.6L449.6 47.9Z" fill="#4e4e4e" stroke="#4e4e4e"/><path d="M450.8 51.6L452.0 55.1L453.8 55.1L452.6 51.7Z" fill="#5e5e5e" stroke="#5e5e5e"/><path d="M456.9 57.6L458.1 59.6L459.9 58.9L458.7 56.9Z" fill="#737373" stroke="#737373"/><path d="M459.9 58.9L461.1 59.8L462.9 57.6L461.8 57.0Z" fill="#8c8c8c" stroke="#8c8c8c"/><path d="M466.0 53.0L467.2 51.8L469.0 46.0L467.8 47.7Z" fill="#c0c0c0" stroke="#c0c0c0"/><path d="M481.2 45.8L482.4 49.6L484.2 54.2L483.1 50.3Z" fill="#3c3c3c" stroke="#3c3c3c"/><path d="M484.2 54.2L485.4 57.3L487.3 60.3L486.1 57.6Z" fill="#454545" stroke="#454545"/><path d="M496.4 58.8L497.6 58.6L499.5 52.7L498.3 53.6Z" fill="#cdcdcd" stroke="#cdcdcd"/><path d="M499.5 52.7L500.6 52.7L502.5 45.2L501.3 45.3Z" fill="#aeaeae" stroke="#aeaeae"/><path d="M462.9 57.6L464.1 57.3L466.0 53.0L464.8 53.9Z" fill="#aeaeae" stroke="#aeaeae"/><path d="M478.2 38.8L479.4 41.9L481.2 45.8L480.0 42.0Z" fill="#414141" stroke="#414141"/><path d="M493.4 61.4L494.6 61.3L496.4 58.8L495.2 59.3Z" fill="#919191" stroke="#919191"/><path d="M508.6 43.5L509.8 48.4L511.6 50.7L510.4 45.5Z" fill="#464646" stroke="#464646"/><path d="M511.6 50.7L512.8 55.6L514.7 58.1L513.5 53.5Z" fill="#434343" stroke="#434343"/><path d="M514.7 58.1L515.9 61.6L517.7 61.9L516.5 59.1Z" fill="#595959" stroke="#595959"/><path d="M439.8 33.3L441.0 35.3L442.8 36.6L441.6 34.0Z" fill="#595959" stroke="#595959"/><path d="M445.9 43.4L447.1 47.5L448.9 50.3L447.7 46.3Z" fill="#444444" stroke="#444444"/><path d="M452.0 55.1L453.2 57.9L455.0 57.9L453.8 55.1Z" fill="#636363" stroke="#636363"/><path d="M455.0 57.9L456.2 59.7L458.1 59.6L456.9 57.6Z" fill="#6d6d6d" stroke="#6d6d6d"/><path d="M461.1 59.8L462.3 60.0L464.1 57.3L462.9 57.6Z" fill="#929292" stroke="#929292"/><path d="M467.2 51.8L468.4 50.7L470.2 44.6L469.0 46.0Z" fill="#c8c8c8" stroke="#c8c8c8"/><path d="M470.2 44.6L471.4 44.1L473.3 39.0L472.1 39.3Z" fill="#cacaca" stroke="#cacaca"/><path d="M473.3 39.0L474.5 39.7L476.3 37.8L475.1 36.3Z" fill="#8e8e8e" stroke="#8e8e8e"/><path d="M476.3 37.8L477.5 40.0L479.4 41.9L478.2 38.8Z" fill="#535353" stroke="#535353"/><path d="M485.4 57.3L486.6 59.4L488.5 61.9L487.3 60.3Z" fill="#4c4c4c" stroke="#4c4c4c"/><path d="M488.5 61.9L489.7 62.5L491.5 62.5L490.3 62.1Z" fill="#6f6f6f" stroke="#6f6f6f"/><path d="M491.5 62.5L492.7 62.5L494.6 61.3L493.4 61.4Z" fill="#838383" stroke="#838383"/><path d="M500.6 52.7L501.8 54.0L503.7 46.5L502.5 45.2Z" fill="#a2a2a2" stroke="#a2a2a2"/><path d="M503.7 46.5L504.9 49.1L506.7 44.5L505.5 41.2Z" fill="#8e8e8e" stroke="#8e8e8e"/><path d="M506.7 44.5L507.9 48.5L509.8 48.4L508.6 43.5Z" fill="#5e5e5e" stroke="#5e5e5e"/><path d="M515.9 61.6L517.1 63.5L518.9 63.3L517.7 61.9Z" fill="#6a6a6a" stroke="#6a6a6a"/><path d="M518.9 63.3L520.1 63.3L521.9 60.9L520.8 61.2Z" fill="#919191" stroke="#919191"/><path d="M521.9 60.9L523.1 60.0L525.0 56.1L523.8 57.1Z" fill="#aaaaaa" stroke="#aaaaaa"/><path d="M442.8 36.6L444.0 40.1L445.9 43.4L444.7 39.6Z" fill="#434343" stroke="#434343"/><path d="M448.9 50.3L450.1 54.0L452.0 55.1L450.8 51.6Z" fill="#515151" stroke="#515151"/><path d="M458.1 59.6L459.2 60.6L461.1 59.8L459.9 58.9Z" fill="#7a7a7a" stroke="#7a7a7a"/><path d="M464.1 57.3L465.3 56.7L467.2 51.8L466.0 53.0Z" fill="#b9b9b9" stroke="#b9b9b9"/><path d="M479.4 41.9L480.5 45.2L482.4 49.6L481.2 45.8Z" fill="#3e3e3e" stroke="#3e3e3e"/><path d="M482.4 49.6L483.6 52.8L485.4 57.3L484.2 54.2Z" fill="#3d3d3d" stroke="#3d3d3d"/><path d="M494.6 61.3L495.8 61.4L497.6 58.6L496.4 58.8Z" fill="#979797" stroke="#979797"/><path d="M497.6 58.6L498.8 59.1L500.6 52.7L499.5 52.7Z" fill="#b5b5b5" stroke="#b5b5b5"/><path d="M509.8 48.4L511.0 53.1L512.8 55.6L511.6 50.7Z" fill="#444444" stroke="#444444"/><path d="M512.8 55.6L514.0 59.5L515.9 61.6L514.7 58.1Z" fill="#494949" stroke="#494949"/><path d="M477.5 40.0L478.7 42.5L480.5 45.2L479.4 41.9Z" fill="#4b4b4b" stroke="#4b4b4b"/><path d="M492.7 62.5L493.9 62.8L495.8 61.4L494.6 61.3Z" fill="#848484" stroke="#848484"/><path d="M437.9 35.1L439.1 36.6L441.0 35.3L439.8 33.3Z" fill="#818181" stroke="#818181"/><path d="M441.0 35.3L442.2 38.2L444.0 40.1L442.8 36.6Z" fill="#4f4f4f" stroke="#4f4f4f"/><path d="M444.0 40.1L445.2 44.0L447.1 47.5L445.9 43.4Z" fill="#414141" stroke="#414141"/><path d="M447.1 47.5L448.3 51.3L450.1 54.0L448.9 50.3Z" fill="#454545" stroke="#454545"/><path d="M450.1 54.0L451.3 56.9L453.2 57.9L452.0 55.1Z" fill="#565656" stroke="#565656"/><path d="M453.2 57.9L454.4 59.6L456.2 59.7L455.0 57.9Z" fill="#696969" stroke="#696969"/><path d="M456.2 59.7L457.4 60.7L459.2 60.6L458.1 59.6Z" fill="#717171" stroke="#717171"/><path d="M459.2 60.6L460.4 61.1L462.3 60.0L461.1 59.8Z" fill="#808080" stroke="#808080"/><path d="M462.3 60.0L463.5 60.0L465.3 56.7L464.1 57.3Z" fill="#9e9e9e" stroke="#9e9e9e"/><path d="M465.3 56.7L466.5 56.3L468.4 50.7L467.2 51.8Z" fill="#cbcbcb" stroke="#cbcbcb"/><path d="M468.4 50.7L469.6 50.5L471.4 44.1L470.2 44.6Z" fill="#c7c7c7" stroke="#c7c7c7"/><path d="M471.4 44.1L472.6 44.5L474.5 39.7L473.3 39.0Z" fill="#afafaf" stroke="#afafaf"/><path d="M474.5 39.7L475.7 41.2L477.5 40.0L476.3 37.8Z" fill="#808080" stroke="#808080"/><path d="M483.6 52.8L484.8 55.0L486.6 59.4L485.4 57.3Z" fill="#404040" stroke="#404040"/><path d="M486.6 59.4L487.8 60.5L489.7 62.5L488.5 61.9Z" fill="#525252" stroke="#525252"/><path d="M489.7 62.5L490.9 62.8L492.7 62.5L491.5 62.5Z" fill="#757575" stroke="#757575"/><path d="M498.8 59.1L500.0 60.8L501.8 54.0L500.6 52.7Z" fill="#a2a2a2" stroke="#a2a2a2"/><path d="M501.8 54.0L503.0 56.3L504.9 49.1L503.7 46.5Z" fill="#939393" stroke="#939393"/><path d="M504.9 49.1L506.1 52.4L507.9 48.5L506.7 44.5Z" fill="#848484" stroke="#848484"/><path d="M507.9 48.5L509.1 52.6L511.0 53.1L509.8 48.4Z" fill="#575757" stroke="#575757"/><path d="M514.0 59.5L515.2 61.9L517.1 63.5L515.9 61.6Z" fill="#525252" stroke="#525252"/><path d="M517.1 63.5L518.2 64.1L520.1 63.3L518.9 63.3Z" fill="#787878" stroke="#787878"/><path d="M520.1 63.3L521.3 62.7L523.1 60.0L521.9 60.9Z" fill="#939393" stroke="#939393"/><path d="M523.1 60.0L524.3 59.5L526.2 55.5L525.0 56.1Z" fill="#adadad" stroke="#adadad"/><path d="M480.5 45.2L481.7 47.9L483.6 52.8L482.4 49.6Z" fill="#3d3d3d" stroke="#3d3d3d"/><path d="M495.8 61.4L496.9 62.5L498.8 59.1L497.6 58.6Z" fill="#9a9a9a" stroke="#9a9a9a"/><path d="M511.0 53.1L512.2 56.9L514.0 59.5L512.8 55.6Z" fill="#464646" stroke="#464646"/><path d="M442.2 38.2L443.4 41.5L445.2 44.0L444.0 40.1Z" fill="#4a4a4a" stroke="#4a4a4a"/><path d="M475.7 41.2L476.8 42.9L478.7 42.5L477.5 40.0Z" fill="#747474" stroke="#747474"/><path d="M478.7 42.5L479.9 44.6L481.7 47.9L480.5 45.2Z" fill="#474747" stroke="#474747"/><path d="M490.9 62.8L492.1 63.3L493.9 62.8L492.7 62.5Z" fill="#777777" stroke="#777777"/><path d="M493.9 62.8L495.1 63.9L496.9 62.5L495.8 61.4Z" fill="#828282" stroke="#828282"/><path d="M436.1 39.0L437.3 40.2L439.1 36.6L437.9 35.1Z" fill="#9d9d9d" stroke="#9d9d9d"/><path d="M439.1 36.6L440.3 38.9L442.2 38.2L441.0 35.3Z" fill="#727272" stroke="#727272"/><path d="M445.2 44.0L446.4 47.7L448.3 51.3L447.1 47.5Z" fill="#414141" stroke="#414141"/><path d="M448.3 51.3L449.5 54.4L451.3 56.9L450.1 54.0Z" fill="#494949" stroke="#494949"/><path d="M451.3 56.9L452.5 58.8L454.4 59.6L453.2 57.9Z" fill="#5d5d5d" stroke="#5d5d5d"/><path d="M454.4 59.6L455.5 60.6L457.4 60.7L456.2 59.7Z" fill="#6d6d6d" stroke="#6d6d6d"/><path d="M457.4 60.7L458.6 61.3L460.4 61.1L459.2 60.6Z" fill="#737373" stroke="#737373"/><path d="M460.4 61.1L461.6 61.6L463.5 60.0L462.3 60.0Z" fill="#868686" stroke="#868686"/><path d="M463.5 60.0L464.7 60.4L466.5 56.3L465.3 56.7Z" fill="#aaaaaa" stroke="#aaaaaa"/><path d="M466.5 56.3L467.7 56.8L469.6 50.5L468.4 50.7Z" fill="#bfbfbf" stroke="#bfbfbf"/><path d="M469.6 50.5L470.8 51.1L472.6 44.5L471.4 44.1Z" fill="#aeaeae" stroke="#aeaeae"/><path d="M472.6 44.5L473.8 45.6L475.7 41.2L474.5 39.7Z" fill="#a4a4a4" stroke="#a4a4a4"/><path d="M481.7 47.9L482.9 50.0L484.8 55.0L483.6 52.8Z" fill="#3e3e3e" stroke="#3e3e3e"/><path d="M484.8 55.0L486.0 56.5L487.8 60.5L486.6 59.4Z" fill="#444444" stroke="#444444"/><path d="M487.8 60.5L489.0 61.3L490.9 62.8L489.7 62.5Z" fill="#595959" stroke="#595959"/><path d="M496.9 62.5L498.1 64.7L500.0 60.8L498.8 59.1Z" fill="#919191" stroke="#919191"/><path d="M500.0 60.8L501.2 63.5L503.0 56.3L501.8 54.0Z" fill="#939393" stroke="#939393"/><path d="M503.0 56.3L504.2 59.2L506.1 52.4L504.9 49.1Z" fill="#8f8f8f" stroke="#8f8f8f"/><path d="M506.1 52.4L507.3 55.7L509.1 52.6L507.9 48.5Z" fill="#7f7f7f" stroke="#7f7f7f"/><path d="M509.1 52.6L510.3 56.0L512.2 56.9L511.0 53.1Z" fill="#565656" stroke="#565656"/><path d="M512.2 56.9L513.4 59.6L515.2 61.9L514.0 59.5Z" fill="#4b4b4b" stroke="#4b4b4b"/><path d="M515.2 61.9L516.4 63.1L518.2 64.1L517.1 63.5Z" fill="#5d5d5d" stroke="#5d5d5d"/><path d="M518.2 64.1L519.4 64.0L521.3 62.7L520.1 63.3Z" fill="#828282" stroke="#828282"/><path d="M521.3 62.7L522.5 62.4L524.3 59.5L523.1 60.0Z" fill="#9a9a9a" stroke="#9a9a9a"/><path d="M524.3 59.5L525.5 60.2L527.4 56.3L526.2 55.5Z" fill="#a7a7a7" stroke="#a7a7a7"/><path d="M479.9 44.6L481.1 46.1L482.9 50.0L481.7 47.9Z" fill="#454545" stroke="#454545"/><path d="M495.1 63.9L496.3 66.2L498.1 64.7L496.9 62.5Z" fill="#7b7b7b" stroke="#7b7b7b"/><path d="M510.3 56.0L511.5 58.3L513.4 59.6L512.2 56.9Z" fill="#575757" stroke="#575757"/><path d="M525.5 60.2L526.7 62.3L528.6 58.8L527.4 56.3Z" fill="#8f8f8f" stroke="#8f8f8f"/><path d="M440.3 38.9L441.5 41.6L443.4 41.5L442.2 38.2Z" fill="#676767" stroke="#676767"/><path d="M443.4 41.5L444.6 44.7L446.4 47.7L445.2 44.0Z" fill="#464646" stroke="#464646"/><path d="M449.5 54.4L450.7 56.5L452.5 58.8L451.3 56.9Z" fill="#4d4d4d" stroke="#4d4d4d"/><path d="M458.6 61.3L459.8 62.0L461.6 61.6L460.4 61.1Z" fill="#757575" stroke="#757575"/><path d="M464.7 60.4L465.9 61.7L467.7 56.8L466.5 56.3Z" fill="#aaaaaa" stroke="#aaaaaa"/><path d="M473.8 45.6L475.0 46.8L476.8 42.9L475.7 41.2Z" fill="#9e9e9e" stroke="#9e9e9e"/><path d="M476.8 42.9L478.0 44.2L479.9 44.6L478.7 42.5Z" fill="#6b6b6b" stroke="#6b6b6b"/><path d="M489.0 61.3L490.2 62.3L492.1 63.3L490.9 62.8Z" fill="#5e5e5e" stroke="#5e5e5e"/><path d="M492.1 63.3L493.2 64.6L495.1 63.9L493.9 62.8Z" fill="#767676" stroke="#767676"/><path d="M434.2 43.4L435.4 44.6L437.3 40.2L436.1 39.0Z" fill="#a4a4a4" stroke="#a4a4a4"/><path d="M437.3 40.2L438.5 42.1L440.3 38.9L439.1 36.6Z" fill="#8f8f8f" stroke="#8f8f8f"/><path d="M446.4 47.7L447.6 50.7L449.5 54.4L448.3 51.3Z" fill="#424242" stroke="#424242"/><path d="M455.5 60.6L456.7 61.1L458.6 61.3L457.4 60.7Z" fill="#6f6f6f" stroke="#6f6f6f"/><path d="M461.6 61.6L462.8 62.6L464.7 60.4L463.5 60.0Z" fill="#8b8b8b" stroke="#8b8b8b"/><path d="M452.5 58.8L453.7 59.8L455.5 60.6L454.4 59.6Z" fill="#636363" stroke="#636363"/><path d="M467.7 56.8L468.9 58.0L470.8 51.1L469.6 50.5Z" fill="#a9a9a9" stroke="#a9a9a9"/><path d="M470.8 51.1L472.0 52.3L473.8 45.6L472.6 44.5Z" fill="#a7a7a7" stroke="#a7a7a7"/><path d="M482.9 50.0L484.1 51.5L486.0 56.5L484.8 55.0Z" fill="#3f3f3f" stroke="#3f3f3f"/><path d="M486.0 56.5L487.2 57.7L489.0 61.3L487.8 60.5Z" fill="#474747" stroke="#474747"/><path d="M498.1 64.7L499.3 67.8L501.2 63.5L500.0 60.8Z" fill="#8b8b8b" stroke="#8b8b8b"/><path d="M501.2 63.5L502.4 66.6L504.2 59.2L503.0 56.3Z" fill="#8f8f8f" stroke="#8f8f8f"/><path d="M504.2 59.2L505.4 62.0L507.3 55.7L506.1 52.4Z" fill="#8f8f8f" stroke="#8f8f8f"/><path d="M507.3 55.7L508.5 58.3L510.3 56.0L509.1 52.6Z" fill="#818181" stroke="#818181"/><path d="M513.4 59.6L514.5 61.0L516.4 63.1L515.2 61.9Z" fill="#525252" stroke="#525252"/><path d="M516.4 63.1L517.6 63.5L519.4 64.0L518.2 64.1Z" fill="#686868" stroke="#686868"/><path d="M519.4 64.0L520.6 64.0L522.5 62.4L521.3 62.7Z" fill="#888888" stroke="#888888"/><path d="M522.5 62.4L523.7 63.1L525.5 60.2L524.3 59.5Z" fill="#979797" stroke="#979797"/><path d="M478.0 44.2L479.2 45.1L481.1 46.1L479.9 44.6Z" fill="#646464" stroke="#646464"/><path d="M481.1 46.1L482.3 47.2L484.1 51.5L482.9 50.0Z" fill="#444444" stroke="#444444"/><path d="M493.2 64.6L494.4 67.0L496.3 66.2L495.1 63.9Z" fill="#717171" stroke="#717171"/><path d="M496.3 66.2L497.5 69.5L499.3 67.8L498.1 64.7Z" fill="#747474" stroke="#747474"/><path d="M508.5 58.3L509.7 60.0L511.5 58.3L510.3 56.0Z" fill="#848484" stroke="#848484"/><path d="M511.5 58.3L512.7 59.6L514.5 61.0L513.4 59.6Z" fill="#5a5a5a" stroke="#5a5a5a"/><path d="M523.7 63.1L524.9 65.1L526.7 62.3L525.5 60.2Z" fill="#8b8b8b" stroke="#8b8b8b"/><path d="M526.7 62.3L527.9 65.7L529.8 62.5L528.6 58.8Z" fill="#818181" stroke="#818181"/><path d="M444.6 44.7L445.8 47.3L447.6 50.7L446.4 47.7Z" fill="#454545" stroke="#454545"/><path d="M459.8 62.0L461.0 63.4L462.8 62.6L461.6 61.6Z" fill="#767676" stroke="#767676"/><path d="M432.4 46.8L433.6 48.4L435.4 44.6L434.2 43.4Z" fill="#989898" stroke="#989898"/><path d="M435.4 44.6L436.6 46.7L438.5 42.1L437.3 40.2Z" fill="#959595" stroke="#959595"/><path d="M438.5 42.1L439.7 44.4L441.5 41.6L440.3 38.9Z" fill="#898989" stroke="#898989"/><path d="M441.5 41.6L442.7 44.1L444.6 44.7L443.4 41.5Z" fill="#5f5f5f" stroke="#5f5f5f"/><path d="M447.6 50.7L448.8 52.8L450.7 56.5L449.5 54.4Z" fill="#444444" stroke="#444444"/><path d="M450.7 56.5L451.8 57.8L453.7 59.8L452.5 58.8Z" fill="#525252" stroke="#525252"/><path d="M456.7 61.1L457.9 62.0L459.8 62.0L458.6 61.3Z" fill="#6f6f6f" stroke="#6f6f6f"/><path d="M462.8 62.6L464.0 64.7L465.9 61.7L464.7 60.4Z" fill="#8d8d8d" stroke="#8d8d8d"/><path d="M465.9 61.7L467.1 63.8L468.9 58.0L467.7 56.8Z" fill="#a0a0a0" stroke="#a0a0a0"/><path d="M472.0 52.3L473.1 53.4L475.0 46.8L473.8 45.6Z" fill="#a6a6a6" stroke="#a6a6a6"/><path d="M475.0 46.8L476.2 47.6L478.0 44.2L476.8 42.9Z" fill="#9f9f9f" stroke="#9f9f9f"/><path d="M487.2 57.7L488.4 59.2L490.2 62.3L489.0 61.3Z" fill="#494949" stroke="#494949"/><path d="M490.2 62.3L491.4 64.0L493.2 64.6L492.1 63.3Z" fill="#606060" stroke="#606060"/><path d="M453.7 59.8L454.9 60.6L456.7 61.1L455.5 60.6Z" fill="#676767" stroke="#676767"/><path d="M468.9 58.0L470.1 59.7L472.0 52.3L470.8 51.1Z" fill="#a1a1a1" stroke="#a1a1a1"/><path d="M484.1 51.5L485.3 52.8L487.2 57.7L486.0 56.5Z" fill="#404040" stroke="#404040"/><path d="M499.3 67.8L500.5 71.4L502.4 66.6L501.2 63.5Z" fill="#898989" stroke="#898989"/><path d="M502.4 66.6L503.6 69.5L505.4 62.0L504.2 59.2Z" fill="#909090" stroke="#909090"/><path d="M505.4 62.0L506.6 64.1L508.5 58.3L507.3 55.7Z" fill="#939393" stroke="#939393"/><path d="M514.5 61.0L515.7 61.8L517.6 63.5L516.4 63.1Z" fill="#575757" stroke="#575757"/><path d="M517.6 63.5L518.8 64.0L520.6 64.0L519.4 64.0Z" fill="#6f6f6f" stroke="#6f6f6f"/><path d="M520.6 64.0L521.8 64.9L523.7 63.1L522.5 62.4Z" fill="#898989" stroke="#898989"/><path d="M445.8 47.3L447.0 49.0L448.8 52.8L447.6 50.7Z" fill="#454545" stroke="#454545"/><path d="M461.0 63.4L462.2 66.0L464.0 64.7L462.8 62.6Z" fill="#757575" stroke="#757575"/><path d="M476.2 47.6L477.4 47.7L479.2 45.1L478.0 44.2Z" fill="#9b9b9b" stroke="#9b9b9b"/><path d="M479.2 45.1L480.4 45.6L482.3 47.2L481.1 46.1Z" fill="#5d5d5d" stroke="#5d5d5d"/><path d="M482.3 47.2L483.5 48.4L485.3 52.8L484.1 51.5Z" fill="#434343" stroke="#434343"/><path d="M491.4 64.0L492.6 66.7L494.4 67.0L493.2 64.6Z" fill="#5f5f5f" stroke="#5f5f5f"/><path d="M494.4 67.0L495.6 70.3L497.5 69.5L496.3 66.2Z" fill="#6a6a6a" stroke="#6a6a6a"/><path d="M497.5 69.5L498.7 73.3L500.5 71.4L499.3 67.8Z" fill="#727272" stroke="#727272"/><path d="M506.6 64.1L507.8 65.0L509.7 60.0L508.5 58.3Z" fill="#a6a6a6" stroke="#a6a6a6"/><path d="M509.7 60.0L510.8 60.5L512.7 59.6L511.5 58.3Z" fill="#828282" stroke="#828282"/><path d="M512.7 59.6L513.9 60.2L515.7 61.8L514.5 61.0Z" fill="#5b5b5b" stroke="#5b5b5b"/><path d="M521.8 64.9L523.0 67.0L524.9 65.1L523.7 63.1Z" fill="#828282" stroke="#828282"/><path d="M524.9 65.1L526.1 68.2L527.9 65.7L526.7 62.3Z" fill="#7e7e7e" stroke="#7e7e7e"/><path d="M527.9 65.7L529.1 69.6L531.0 66.7L529.8 62.5Z" fill="#797979" stroke="#797979"/><path d="M430.6 48.7L431.7 50.7L433.6 48.4L432.4 46.8Z" fill="#878787" stroke="#878787"/><path d="M433.6 48.4L434.8 50.8L436.6 46.7L435.4 44.6Z" fill="#909090" stroke="#909090"/><path d="M442.7 44.1L443.9 45.9L445.8 47.3L444.6 44.7Z" fill="#5a5a5a" stroke="#5a5a5a"/><path d="M451.8 57.8L453.0 58.8L454.9 60.6L453.7 59.8Z" fill="#565656" stroke="#565656"/><path d="M457.9 62.0L459.1 63.6L461.0 63.4L459.8 62.0Z" fill="#6d6d6d" stroke="#6d6d6d"/><path d="M436.6 46.7L437.8 49.0L439.7 44.4L438.5 42.1Z" fill="#929292" stroke="#929292"/><path d="M439.7 44.4L440.9 46.4L442.7 44.1L441.5 41.6Z" fill="#888888" stroke="#888888"/><path d="M448.8 52.8L450.0 54.2L451.8 57.8L450.7 56.5Z" fill="#474747" stroke="#474747"/><path d="M454.9 60.6L456.1 61.6L457.9 62.0L456.7 61.1Z" fill="#686868" stroke="#686868"/><path d="M464.0 64.7L465.2 67.6L467.1 63.8L465.9 61.7Z" fill="#8b8b8b" stroke="#8b8b8b"/><path d="M467.1 63.8L468.3 66.2L470.1 59.7L468.9 58.0Z" fill="#999999" stroke="#999999"/><path d="M470.1 59.7L471.3 61.1L473.1 53.4L472.0 52.3Z" fill="#a2a2a2" stroke="#a2a2a2"/><path d="M473.1 53.4L474.3 53.9L476.2 47.6L475.0 46.8Z" fill="#adadad" stroke="#adadad"/><path d="M485.3 52.8L486.5 54.6L488.4 59.2L487.2 57.7Z" fill="#404040" stroke="#404040"/><path d="M488.4 59.2L489.6 61.4L491.4 64.0L490.2 62.3Z" fill="#4a4a4a" stroke="#4a4a4a"/><path d="M500.5 71.4L501.7 74.7L503.6 69.5L502.4 66.6Z" fill="#8c8c8c" stroke="#8c8c8c"/><path d="M503.6 69.5L504.8 71.5L506.6 64.1L505.4 62.0Z" fill="#979797" stroke="#979797"/><path d="M515.7 61.8L516.9 62.6L518.8 64.0L517.6 63.5Z" fill="#5a5a5a" stroke="#5a5a5a"/><path d="M518.8 64.0L520.0 65.2L521.8 64.9L520.6 64.0Z" fill="#717171" stroke="#717171"/><path d="M483.5 48.4L484.7 50.2L486.5 54.6L485.3 52.8Z" fill="#414141" stroke="#414141"/><path d="M428.7 49.7L429.9 51.8L431.7 50.7L430.6 48.7Z" fill="#777777" stroke="#777777"/><path d="M431.7 50.7L432.9 53.6L434.8 50.8L433.6 48.4Z" fill="#838383" stroke="#838383"/><path d="M434.8 50.8L436.0 53.5L437.8 49.0L436.6 46.7Z" fill="#909090" stroke="#909090"/><path d="M443.9 45.9L445.1 46.9L447.0 49.0L445.8 47.3Z" fill="#565656" stroke="#565656"/><path d="M447.0 49.0L448.1 50.0L450.0 54.2L448.8 52.8Z" fill="#454545" stroke="#454545"/><path d="M453.0 58.8L454.2 60.1L456.1 61.6L454.9 60.6Z" fill="#575757" stroke="#575757"/><path d="M459.1 63.6L460.3 66.4L462.2 66.0L461.0 63.4Z" fill="#686868" stroke="#686868"/><path d="M462.2 66.0L463.4 69.5L465.2 67.6L464.0 64.7Z" fill="#747474" stroke="#747474"/><path d="M468.3 66.2L469.4 68.2L471.3 61.1L470.1 59.7Z" fill="#9e9e9e" stroke="#9e9e9e"/><path d="M474.3 53.9L475.5 53.5L477.4 47.7L476.2 47.6Z" fill="#c3c3c3" stroke="#c3c3c3"/><path d="M477.4 47.7L478.6 47.4L480.4 45.6L479.2 45.1Z" fill="#919191" stroke="#919191"/><path d="M480.4 45.6L481.6 46.2L483.5 48.4L482.3 47.2Z" fill="#555555" stroke="#555555"/><path d="M489.6 61.4L490.7 64.7L492.6 66.7L491.4 64.0Z" fill="#4b4b4b" stroke="#4b4b4b"/><path d="M492.6 66.7L493.8 70.2L495.6 70.3L494.4 67.0Z" fill="#5d5d5d" stroke="#5d5d5d"/><path d="M495.6 70.3L496.8 74.0L498.7 73.3L497.5 69.5Z" fill="#666666" stroke="#666666"/><path d="M498.7 73.3L499.9 76.8L501.7 74.7L500.5 71.4Z" fill="#767676" stroke="#767676"/><path d="M504.8 71.5L506.0 72.2L507.8 65.0L506.6 64.1Z" fill="#a8a8a8" stroke="#a8a8a8"/><path d="M507.8 65.0L509.0 64.8L510.8 60.5L509.7 60.0Z" fill="#b6b6b6" stroke="#b6b6b6"/><path d="M510.8 60.5L512.0 60.5L513.9 60.2L512.7 59.6Z" fill="#7b7b7b" stroke="#7b7b7b"/><path d="M513.9 60.2L515.1 60.9L516.9 62.6L515.7 61.8Z" fill="#595959" stroke="#595959"/><path d="M520.0 65.2L521.2 67.5L523.0 67.0L521.8 64.9Z" fill="#6e6e6e" stroke="#6e6e6e"/><path d="M523.0 67.0L524.2 70.0L526.1 68.2L524.9 65.1Z" fill="#777777" stroke="#777777"/><path d="M526.1 68.2L527.3 71.8L529.1 69.6L527.9 65.7Z" fill="#767676" stroke="#767676"/><path d="M529.1 69.6L530.3 73.0L532.1 70.5L531.0 66.7Z" fill="#7b7b7b" stroke="#7b7b7b"/><path d="M437.8 49.0L439.0 50.9L440.9 46.4L439.7 44.4Z" fill="#969696" stroke="#969696"/><path d="M440.9 46.4L442.1 47.6L443.9 45.9L442.7 44.1Z" fill="#888888" stroke="#888888"/><path d="M450.0 54.2L451.2 55.3L453.0 58.8L451.8 57.8Z" fill="#484848" stroke="#484848"/><path d="M456.1 61.6L457.3 63.4L459.1 63.6L457.9 62.0Z" fill="#666666" stroke="#666666"/><path d="M465.2 67.6L466.4 70.8L468.3 66.2L467.1 63.8Z" fill="#8c8c8c" stroke="#8c8c8c"/><path d="M471.3 61.1L472.5 61.7L474.3 53.9L473.1 53.4Z" fill="#a9a9a9" stroke="#a9a9a9"/><path d="M486.5 54.6L487.7 57.3L489.6 61.4L488.4 59.2Z" fill="#404040" stroke="#404040"/><path d="M501.7 74.7L502.9 77.1L504.8 71.5L503.6 69.5Z" fill="#959595" stroke="#959595"/><path d="M516.9 62.6L518.1 64.1L520.0 65.2L518.8 64.0Z" fill="#5b5b5b" stroke="#5b5b5b"/><path d="M481.6 46.2L482.8 47.5L484.7 50.2L483.5 48.4Z" fill="#4f4f4f" stroke="#4f4f4f"/><path d="M484.7 50.2L485.9 53.0L487.7 57.3L486.5 54.6Z" fill="#3f3f3f" stroke="#3f3f3f"/><path d="M429.9 51.8L431.1 55.0L432.9 53.6L431.7 50.7Z" fill="#727272" stroke="#727272"/><path d="M448.1 50.0L449.3 50.9L451.2 55.3L450.0 54.2Z" fill="#444444" stroke="#444444"/><path d="M454.2 60.1L455.4 62.2L457.3 63.4L456.1 61.6Z" fill="#575757" stroke="#575757"/><path d="M426.9 50.3L428.0 52.5L429.9 51.8L428.7 49.7Z" fill="#717171" stroke="#717171"/><path d="M432.9 53.6L434.1 56.8L436.0 53.5L434.8 50.8Z" fill="#848484" stroke="#848484"/><path d="M436.0 53.5L437.2 55.8L439.0 50.9L437.8 49.0Z" fill="#959595" stroke="#959595"/><path d="M439.0 50.9L440.2 51.9L442.1 47.6L440.9 46.4Z" fill="#a5a5a5" stroke="#a5a5a5"/><path d="M442.1 47.6L443.3 47.9L445.1 46.9L443.9 45.9Z" fill="#858585" stroke="#858585"/><path d="M445.1 46.9L446.3 47.3L448.1 50.0L447.0 49.0Z" fill="#525252" stroke="#525252"/><path d="M451.2 55.3L452.4 56.8L454.2 60.1L453.0 58.8Z" fill="#484848" stroke="#484848"/><path d="M457.3 63.4L458.5 66.4L460.3 66.4L459.1 63.6Z" fill="#616161" stroke="#616161"/><path d="M460.3 66.4L461.5 70.2L463.4 69.5L462.2 66.0Z" fill="#646464" stroke="#646464"/><path d="M463.4 69.5L464.6 73.3L466.4 70.8L465.2 67.6Z" fill="#767676" stroke="#767676"/><path d="M466.4 70.8L467.6 73.6L469.4 68.2L468.3 66.2Z" fill="#929292" stroke="#929292"/><path d="M469.4 68.2L470.6 69.2L472.5 61.7L471.3 61.1Z" fill="#a8a8a8" stroke="#a8a8a8"/><path d="M472.5 61.7L473.7 61.1L475.5 53.5L474.3 53.9Z" fill="#afafaf" stroke="#afafaf"/><path d="M475.5 53.5L476.7 52.5L478.6 47.4L477.4 47.7Z" fill="#cccccc" stroke="#cccccc"/><path d="M478.6 47.4L479.8 47.2L481.6 46.2L480.4 45.6Z" fill="#888888" stroke="#888888"/><path d="M487.7 57.3L488.9 61.1L490.7 64.7L489.6 61.4Z" fill="#404040" stroke="#404040"/><path d="M490.7 64.7L491.9 68.6L493.8 70.2L492.6 66.7Z" fill="#4c4c4c" stroke="#4c4c4c"/><path d="M493.8 70.2L495.0 74.0L496.8 74.0L495.6 70.3Z" fill="#5c5c5c" stroke="#5c5c5c"/><path d="M496.8 74.0L498.0 77.5L499.9 76.8L498.7 73.3Z" fill="#676767" stroke="#676767"/><path d="M499.9 76.8L501.1 79.4L502.9 77.1L501.7 74.7Z" fill="#828282" stroke="#828282"/><path d="M502.9 77.1L504.1 78.1L506.0 72.2L504.8 71.5Z" fill="#acacac" stroke="#acacac"/><path d="M506.0 72.2L507.1 71.6L509.0 64.8L507.8 65.0Z" fill="#b9b9b9" stroke="#b9b9b9"/><path d="M509.0 64.8L510.2 64.0L512.0 60.5L510.8 60.5Z" fill="#acacac" stroke="#acacac"/><path d="M512.0 60.5L513.2 60.6L515.1 60.9L513.9 60.2Z" fill="#727272" stroke="#727272"/><path d="M515.1 60.9L516.3 62.3L518.1 64.1L516.9 62.6Z" fill="#555555" stroke="#555555"/><path d="M518.1 64.1L519.3 66.6L521.2 67.5L520.0 65.2Z" fill="#585858" stroke="#585858"/><path d="M521.2 67.5L522.4 70.7L524.2 70.0L523.0 67.0Z" fill="#696969" stroke="#696969"/><path d="M524.2 70.0L525.4 73.4L527.3 71.8L526.1 68.2Z" fill="#727272" stroke="#727272"/><path d="M527.3 71.8L528.4 75.0L530.3 73.0L529.1 69.6Z" fill="#787878" stroke="#787878"/><path d="M530.3 73.0L531.5 75.3L533.3 72.9L532.1 70.5Z" fill="#868686" stroke="#868686"/><path d="M485.9 53.0L487.0 57.0L488.9 61.1L487.7 57.3Z" fill="#3d3d3d" stroke="#3d3d3d"/><path d="M501.1 79.4L502.3 80.7L504.1 78.1L502.9 77.1Z" fill="#8f8f8f" stroke="#8f8f8f"/><path d="M516.3 62.3L517.5 64.7L519.3 66.6L518.1 64.1Z" fill="#515151" stroke="#515151"/><path d="M531.5 75.3L532.7 76.0L534.5 73.7L533.3 72.9Z" fill="#8f8f8f" stroke="#8f8f8f"/><path d="M449.3 50.9L450.5 52.3L452.4 56.8L451.2 55.3Z" fill="#424242" stroke="#424242"/><path d="M455.4 62.2L456.6 65.5L458.5 66.4L457.3 63.4Z" fill="#555555" stroke="#555555"/><path d="M464.6 73.3L465.7 76.7L467.6 73.6L466.4 70.8Z" fill="#818181" stroke="#818181"/><path d="M470.6 69.2L471.8 68.8L473.7 61.1L472.5 61.7Z" fill="#afafaf" stroke="#afafaf"/><path d="M479.8 47.2L481.0 47.8L482.8 47.5L481.6 46.2Z" fill="#797979" stroke="#797979"/><path d="M482.8 47.5L484.0 50.1L485.9 53.0L484.7 50.2Z" fill="#484848" stroke="#484848"/><path d="M431.1 55.0L432.3 58.5L434.1 56.8L432.9 53.6Z" fill="#737373" stroke="#737373"/><path d="M425.0 50.4L426.2 52.9L428.0 52.5L426.9 50.3Z" fill="#6a6a6a" stroke="#6a6a6a"/><path d="M428.0 52.5L429.2 55.8L431.1 55.0L429.9 51.8Z" fill="#6a6a6a" stroke="#6a6a6a"/><path d="M434.1 56.8L435.3 59.5L437.2 55.8L436.0 53.5Z" fill="#8c8c8c" stroke="#8c8c8c"/><path d="M437.2 55.8L438.4 57.0L440.2 51.9L439.0 50.9Z" fill="#a8a8a8" stroke="#a8a8a8"/><path d="M440.2 51.9L441.4 51.8L443.3 47.9L442.1 47.6Z" fill="#adadad" stroke="#adadad"/><path d="M446.3 47.3L447.5 47.5L449.3 50.9L448.1 50.0Z" fill="#4d4d4d" stroke="#4d4d4d"/><path d="M452.4 56.8L453.6 59.3L455.4 62.2L454.2 60.1Z" fill="#474747" stroke="#474747"/><path d="M443.3 47.9L444.4 47.5L446.3 47.3L445.1 46.9Z" fill="#7b7b7b" stroke="#7b7b7b"/><path d="M458.5 66.4L459.7 70.3L461.5 70.2L460.3 66.4Z" fill="#5d5d5d" stroke="#5d5d5d"/><path d="M461.5 70.2L462.7 74.3L464.6 73.3L463.4 69.5Z" fill="#656565" stroke="#656565"/><path d="M467.6 73.6L468.8 75.2L470.6 69.2L469.4 68.2Z" fill="#a7a7a7" stroke="#a7a7a7"/><path d="M473.7 61.1L474.9 59.6L476.7 52.5L475.5 53.5Z" fill="#bababa" stroke="#bababa"/><path d="M476.7 52.5L477.9 51.5L479.8 47.2L478.6 47.4Z" fill="#c0c0c0" stroke="#c0c0c0"/><path d="M488.9 61.1L490.1 65.6L491.9 68.6L490.7 64.7Z" fill="#414141" stroke="#414141"/><path d="M491.9 68.6L493.1 72.8L495.0 74.0L493.8 70.2Z" fill="#4e4e4e" stroke="#4e4e4e"/><path d="M495.0 74.0L496.2 77.5L498.0 77.5L496.8 74.0Z" fill="#5f5f5f" stroke="#5f5f5f"/><path d="M498.0 77.5L499.2 80.0L501.1 79.4L499.9 76.8Z" fill="#6d6d6d" stroke="#6d6d6d"/><path d="M504.1 78.1L505.3 77.8L507.1 71.6L506.0 72.2Z" fill="#cacaca" stroke="#cacaca"/><path d="M507.1 71.6L508.3 70.3L510.2 64.0L509.0 64.8Z" fill="#c6c6c6" stroke="#c6c6c6"/><path d="M510.2 64.0L511.4 63.2L513.2 60.6L512.0 60.5Z" fill="#9f9f9f" stroke="#9f9f9f"/><path d="M513.2 60.6L514.4 61.5L516.3 62.3L515.1 60.9Z" fill="#666666" stroke="#666666"/><path d="M519.3 66.6L520.5 69.9L522.4 70.7L521.2 67.5Z" fill="#565656" stroke="#565656"/><path d="M522.4 70.7L523.6 74.1L525.4 73.4L524.2 70.0Z" fill="#676767" stroke="#676767"/><path d="M525.4 73.4L526.6 76.4L528.4 75.0L527.3 71.8Z" fill="#747474" stroke="#747474"/><path d="M528.4 75.0L529.6 77.0L531.5 75.3L530.3 73.0Z" fill="#818181" stroke="#818181"/><path d="M484.0 50.1L485.2 53.9L487.0 57.0L485.9 53.0Z" fill="#434343" stroke="#434343"/><path d="M487.0 57.0L488.2 61.9L490.1 65.6L488.9 61.1Z" fill="#3d3d3d" stroke="#3d3d3d"/><path d="M499.2 80.0L500.4 81.4L502.3 80.7L501.1 79.4Z" fill="#767676" stroke="#767676"/><path d="M502.3 80.7L503.4 80.8L505.3 77.8L504.1 78.1Z" fill="#9b9b9b" stroke="#9b9b9b"/><path d="M514.4 61.5L515.6 63.5L517.5 64.7L516.3 62.3Z" fill="#595959" stroke="#595959"/><path d="M517.5 64.7L518.7 68.1L520.5 69.9L519.3 66.6Z" fill="#4d4d4d" stroke="#4d4d4d"/><path d="M529.6 77.0L530.8 77.7L532.7 76.0L531.5 75.3Z" fill="#898989" stroke="#898989"/><path d="M532.7 76.0L533.9 75.5L535.7 73.2L534.5 73.7Z" fill="#919191" stroke="#919191"/><path d="M450.5 52.3L451.7 54.7L453.6 59.3L452.4 56.8Z" fill="#3f3f3f" stroke="#3f3f3f"/><path d="M423.2 49.1L424.3 51.9L426.2 52.9L425.0 50.4Z" fill="#565656" stroke="#565656"/><path d="M426.2 52.9L427.4 56.3L429.2 55.8L428.0 52.5Z" fill="#656565" stroke="#656565"/><path d="M432.3 58.5L433.5 61.7L435.3 59.5L434.1 56.8Z" fill="#7a7a7a" stroke="#7a7a7a"/><path d="M435.3 59.5L436.5 61.3L438.4 57.0L437.2 55.8Z" fill="#9b9b9b" stroke="#9b9b9b"/><path d="M438.4 57.0L439.6 57.1L441.4 51.8L440.2 51.9Z" fill="#c3c3c3" stroke="#c3c3c3"/><path d="M447.5 47.5L448.7 48.4L450.5 52.3L449.3 50.9Z" fill="#474747" stroke="#474747"/><path d="M453.6 59.3L454.8 62.8L456.6 65.5L455.4 62.2Z" fill="#464646" stroke="#464646"/><path d="M456.6 65.5L457.8 69.5L459.7 70.3L458.5 66.4Z" fill="#535353" stroke="#535353"/><path d="M462.7 74.3L463.9 77.9L465.7 76.7L464.6 73.3Z" fill="#6c6c6c" stroke="#6c6c6c"/><path d="M465.7 76.7L466.9 78.8L468.8 75.2L467.6 73.6Z" fill="#919191" stroke="#919191"/><path d="M468.8 75.2L470.0 75.2L471.8 68.8L470.6 69.2Z" fill="#c4c4c4" stroke="#c4c4c4"/><path d="M471.8 68.8L473.0 67.2L474.9 59.6L473.7 61.1Z" fill="#b3b3b3" stroke="#b3b3b3"/><path d="M477.9 51.5L479.1 51.1L481.0 47.8L479.8 47.2Z" fill="#aaaaaa" stroke="#aaaaaa"/><path d="M481.0 47.8L482.2 49.7L484.0 50.1L482.8 47.5Z" fill="#676767" stroke="#676767"/><path d="M429.2 55.8L430.4 59.5L432.3 58.5L431.1 55.0Z" fill="#696969" stroke="#696969"/><path d="M441.4 51.8L442.6 50.9L444.4 47.5L443.3 47.9Z" fill="#a9a9a9" stroke="#a9a9a9"/><path d="M444.4 47.5L445.6 46.9L447.5 47.5L446.3 47.3Z" fill="#707070" stroke="#707070"/><path d="M459.7 70.3L460.9 74.4L462.7 74.3L461.5 70.2Z" fill="#5c5c5c" stroke="#5c5c5c"/><path d="M474.9 59.6L476.1 57.9L477.9 51.5L476.7 52.5Z" fill="#c1c1c1" stroke="#c1c1c1"/><path d="M490.1 65.6L491.3 70.3L493.1 72.8L491.9 68.6Z" fill="#434343" stroke="#434343"/><path d="M493.1 72.8L494.3 76.6L496.2 77.5L495.0 74.0Z" fill="#535353" stroke="#535353"/><path d="M496.2 77.5L497.4 80.1L499.2 80.0L498.0 77.5Z" fill="#666666" stroke="#666666"/><path d="M505.3 77.8L506.5 76.5L508.3 70.3L507.1 71.6Z" fill="#c6c6c6" stroke="#c6c6c6"/><path d="M508.3 70.3L509.5 68.8L511.4 63.2L510.2 64.0Z" fill="#c9c9c9" stroke="#c9c9c9"/><path d="M511.4 63.2L512.6 63.2L514.4 61.5L513.2 60.6Z" fill="#8f8f8f" stroke="#8f8f8f"/><path d="M520.5 69.9L521.7 73.6L523.6 74.1L522.4 70.7Z" fill="#565656" stroke="#565656"/><path d="M523.6 74.1L524.7 77.2L526.6 76.4L525.4 73.4Z" fill="#6b6b6b" stroke="#6b6b6b"/><path d="M526.6 76.4L527.8 78.4L529.6 77.0L528.4 75.0Z" fill="#7c7c7c" stroke="#7c7c7c"/><path d="M451.7 54.7L452.9 58.3L454.8 62.8L453.6 59.3Z" fill="#3c3c3c" stroke="#3c3c3c"/><path d="M466.9 78.8L468.1 79.3L470.0 75.2L468.8 75.2Z" fill="#aaaaaa" stroke="#aaaaaa"/><path d="M482.2 49.7L483.3 53.0L485.2 53.9L484.0 50.1Z" fill="#565656" stroke="#565656"/><path d="M485.2 53.9L486.4 58.8L488.2 61.9L487.0 57.0Z" fill="#414141" stroke="#414141"/><path d="M488.2 61.9L489.4 67.1L491.3 70.3L490.1 65.6Z" fill="#3e3e3e" stroke="#3e3e3e"/><path d="M497.4 80.1L498.6 81.4L500.4 81.4L499.2 80.0Z" fill="#6d6d6d" stroke="#6d6d6d"/><path d="M500.4 81.4L501.6 81.5L503.4 80.8L502.3 80.7Z" fill="#7c7c7c" stroke="#7c7c7c"/><path d="M503.4 80.8L504.6 79.9L506.5 76.5L505.3 77.8Z" fill="#9f9f9f" stroke="#9f9f9f"/><path d="M512.6 63.2L513.8 64.3L515.6 63.5L514.4 61.5Z" fill="#7e7e7e" stroke="#7e7e7e"/><path d="M515.6 63.5L516.8 66.5L518.7 68.1L517.5 64.7Z" fill="#515151" stroke="#515151"/><path d="M518.7 68.1L519.9 71.9L521.7 73.6L520.5 69.9Z" fill="#4d4d4d" stroke="#4d4d4d"/><path d="M527.8 78.4L529.0 79.1L530.8 77.7L529.6 77.0Z" fill="#848484" stroke="#848484"/><path d="M530.8 77.7L532.0 77.3L533.9 75.5L532.7 76.0Z" fill="#8b8b8b" stroke="#8b8b8b"/><path d="M533.9 75.5L535.1 74.6L536.9 72.2L535.7 73.2Z" fill="#919191" stroke="#919191"/><path d="M433.5 61.7L434.7 63.8L436.5 61.3L435.3 59.5Z" fill="#888888" stroke="#888888"/><path d="M436.5 61.3L437.7 61.8L439.6 57.1L438.4 57.0Z" fill="#afafaf" stroke="#afafaf"/><path d="M448.7 48.4L449.9 50.3L451.7 54.7L450.5 52.3Z" fill="#414141" stroke="#414141"/><path d="M424.3 51.9L425.5 55.8L427.4 56.3L426.2 52.9Z" fill="#555555" stroke="#555555"/><path d="M421.3 45.9L422.5 49.0L424.3 51.9L423.2 49.1Z" fill="#464646" stroke="#464646"/><path d="M427.4 56.3L428.6 60.2L430.4 59.5L429.2 55.8Z" fill="#646464" stroke="#646464"/><path d="M430.4 59.5L431.6 62.8L433.5 61.7L432.3 58.5Z" fill="#6e6e6e" stroke="#6e6e6e"/><path d="M439.6 57.1L440.7 56.2L442.6 50.9L441.4 51.8Z" fill="#c9c9c9" stroke="#c9c9c9"/><path d="M442.6 50.9L443.8 49.7L445.6 46.9L444.4 47.5Z" fill="#9f9f9f" stroke="#9f9f9f"/><path d="M445.6 46.9L446.8 46.9L448.7 48.4L447.5 47.5Z" fill="#636363" stroke="#636363"/><path d="M454.8 62.8L456.0 67.2L457.8 69.5L456.6 65.5Z" fill="#454545" stroke="#454545"/><path d="M457.8 69.5L459.0 73.9L460.9 74.4L459.7 70.3Z" fill="#535353" stroke="#535353"/><path d="M460.9 74.4L462.0 78.1L463.9 77.9L462.7 74.3Z" fill="#606060" stroke="#606060"/><path d="M463.9 77.9L465.1 80.3L466.9 78.8L465.7 76.7Z" fill="#797979" stroke="#797979"/><path d="M470.0 75.2L471.2 74.0L473.0 67.2L471.8 68.8Z" fill="#c2c2c2" stroke="#c2c2c2"/><path d="M473.0 67.2L474.2 65.2L476.1 57.9L474.9 59.6Z" fill="#b2b2b2" stroke="#b2b2b2"/><path d="M476.1 57.9L477.3 56.8L479.1 51.1L477.9 51.5Z" fill="#cccccc" stroke="#cccccc"/><path d="M479.1 51.1L480.3 52.1L482.2 49.7L481.0 47.8Z" fill="#919191" stroke="#919191"/><path d="M491.3 70.3L492.5 74.6L494.3 76.6L493.1 72.8Z" fill="#484848" stroke="#484848"/><path d="M494.3 76.6L495.5 79.4L497.4 80.1L496.2 77.5Z" fill="#5a5a5a" stroke="#5a5a5a"/><path d="M506.5 76.5L507.7 75.0L509.5 68.8L508.3 70.3Z" fill="#c3c3c3" stroke="#c3c3c3"/><path d="M509.5 68.8L510.7 68.0L512.6 63.2L511.4 63.2Z" fill="#cacaca" stroke="#cacaca"/><path d="M521.7 73.6L522.9 76.9L524.7 77.2L523.6 74.1Z" fill="#5b5b5b" stroke="#5b5b5b"/><path d="M524.7 77.2L525.9 79.2L527.8 78.4L526.6 76.4Z" fill="#747474" stroke="#747474"/><path d="M434.7 63.8L435.9 64.8L437.7 61.8L436.5 61.3Z" fill="#949494" stroke="#949494"/><path d="M449.9 50.3L451.1 53.4L452.9 58.3L451.7 54.7Z" fill="#3c3c3c" stroke="#3c3c3c"/><path d="M452.9 58.3L454.1 62.8L456.0 67.2L454.8 62.8Z" fill="#3b3b3b" stroke="#3b3b3b"/><path d="M459.0 73.9L460.2 77.6L462.0 78.1L460.9 74.4Z" fill="#575757" stroke="#575757"/><path d="M465.1 80.3L466.3 81.2L468.1 79.3L466.9 78.8Z" fill="#898989" stroke="#898989"/><path d="M468.1 79.3L469.3 78.6L471.2 74.0L470.0 75.2Z" fill="#afafaf" stroke="#afafaf"/><path d="M474.2 65.2L475.4 63.7L477.3 56.8L476.1 57.9Z" fill="#bdbdbd" stroke="#bdbdbd"/><path d="M480.3 52.1L481.5 54.6L483.3 53.0L482.2 49.7Z" fill="#7b7b7b" stroke="#7b7b7b"/><path d="M483.3 53.0L484.5 57.5L486.4 58.8L485.2 53.9Z" fill="#4e4e4e" stroke="#4e4e4e"/><path d="M486.4 58.8L487.6 64.1L489.4 67.1L488.2 61.9Z" fill="#404040" stroke="#404040"/><path d="M489.4 67.1L490.6 71.8L492.5 74.6L491.3 70.3Z" fill="#424242" stroke="#424242"/><path d="M495.5 79.4L496.7 80.9L498.6 81.4L497.4 80.1Z" fill="#646464" stroke="#646464"/><path d="M498.6 81.4L499.7 81.5L501.6 81.5L500.4 81.4Z" fill="#727272" stroke="#727272"/><path d="M501.6 81.5L502.8 80.8L504.6 79.9L503.4 80.8Z" fill="#808080" stroke="#808080"/><path d="M504.6 79.9L505.8 78.8L507.7 75.0L506.5 76.5Z" fill="#a4a4a4" stroke="#a4a4a4"/><path d="M510.7 68.0L511.9 68.4L513.8 64.3L512.6 63.2Z" fill="#ababab" stroke="#ababab"/><path d="M513.8 64.3L515.0 66.7L516.8 66.5L515.6 63.5Z" fill="#6b6b6b" stroke="#6b6b6b"/><path d="M516.8 66.5L518.0 70.1L519.9 71.9L518.7 68.1Z" fill="#4d4d4d" stroke="#4d4d4d"/><path d="M519.9 71.9L521.0 75.4L522.9 76.9L521.7 73.6Z" fill="#4f4f4f" stroke="#4f4f4f"/><path d="M525.9 79.2L527.1 80.0L529.0 79.1L527.8 78.4Z" fill="#7d7d7d" stroke="#7d7d7d"/><path d="M529.0 79.1L530.2 78.7L532.0 77.3L530.8 77.7Z" fill="#878787" stroke="#878787"/><path d="M532.0 77.3L533.2 76.4L535.1 74.6L533.9 75.5Z" fill="#8b8b8b" stroke="#8b8b8b"/><path d="M535.1 74.6L536.3 74.1L538.1 71.6L536.9 72.2Z" fill="#939393" stroke="#939393"/><path d="M425.5 55.8L426.7 60.0L428.6 60.2L427.4 56.3Z" fill="#575757" stroke="#575757"/><path d="M419.5 42.4L420.6 45.3L422.5 49.0L421.3 45.9Z" fill="#424242" stroke="#424242"/><path d="M422.5 49.0L423.7 53.3L425.5 55.8L424.3 51.9Z" fill="#454545" stroke="#454545"/><path d="M428.6 60.2L429.8 63.7L431.6 62.8L430.4 59.5Z" fill="#696969" stroke="#696969"/><path d="M431.6 62.8L432.8 65.2L434.7 63.8L433.5 61.7Z" fill="#787878" stroke="#787878"/><path d="M437.7 61.8L438.9 61.3L440.7 56.2L439.6 57.1Z" fill="#c5c5c5" stroke="#c5c5c5"/><path d="M440.7 56.2L441.9 54.9L443.8 49.7L442.6 50.9Z" fill="#c1c1c1" stroke="#c1c1c1"/><path d="M443.8 49.7L445.0 48.9L446.8 46.9L445.6 46.9Z" fill="#929292" stroke="#929292"/><path d="M446.8 46.9L448.0 47.9L449.9 50.3L448.7 48.4Z" fill="#545454" stroke="#545454"/><path d="M456.0 67.2L457.2 71.8L459.0 73.9L457.8 69.5Z" fill="#474747" stroke="#474747"/><path d="M462.0 78.1L463.2 80.6L465.1 80.3L463.9 77.9Z" fill="#6a6a6a" stroke="#6a6a6a"/><path d="M471.2 74.0L472.4 72.2L474.2 65.2L473.0 67.2Z" fill="#b7b7b7" stroke="#b7b7b7"/><path d="M477.3 56.8L478.5 56.9L480.3 52.1L479.1 51.1Z" fill="#afafaf" stroke="#afafaf"/><path d="M492.5 74.6L493.7 77.8L495.5 79.4L494.3 76.6Z" fill="#4e4e4e" stroke="#4e4e4e"/><path d="M507.7 75.0L508.9 74.0L510.7 68.0L509.5 68.8Z" fill="#cbcbcb" stroke="#cbcbcb"/><path d="M522.9 76.9L524.1 79.1L525.9 79.2L524.7 77.2Z" fill="#656565" stroke="#656565"/><path d="M417.6 41.3L418.8 43.6L420.6 45.3L419.5 42.4Z" fill="#545454" stroke="#545454"/><path d="M420.6 45.3L421.8 49.6L423.7 53.3L422.5 49.0Z" fill="#3f3f3f" stroke="#3f3f3f"/><path d="M423.7 53.3L424.9 57.9L426.7 60.0L425.5 55.8Z" fill="#464646" stroke="#464646"/><path d="M426.7 60.0L427.9 63.8L429.8 63.7L428.6 60.2Z" fill="#5d5d5d" stroke="#5d5d5d"/><path d="M429.8 63.7L431.0 66.1L432.8 65.2L431.6 62.8Z" fill="#727272" stroke="#727272"/><path d="M432.8 65.2L434.0 66.4L435.9 64.8L434.7 63.8Z" fill="#848484" stroke="#848484"/><path d="M435.9 64.8L437.0 64.8L438.9 61.3L437.7 61.8Z" fill="#a3a3a3" stroke="#a3a3a3"/><path d="M438.9 61.3L440.1 60.3L441.9 54.9L440.7 56.2Z" fill="#c5c5c5" stroke="#c5c5c5"/><path d="M441.9 54.9L443.1 53.9L445.0 48.9L443.8 49.7Z" fill="#c5c5c5" stroke="#c5c5c5"/><path d="M445.0 48.9L446.2 49.1L448.0 47.9L446.8 46.9Z" fill="#898989" stroke="#898989"/><path d="M448.0 47.9L449.2 50.2L451.1 53.4L449.9 50.3Z" fill="#484848" stroke="#484848"/><path d="M451.1 53.4L452.3 57.6L454.1 62.8L452.9 58.3Z" fill="#393939" stroke="#393939"/><path d="M454.1 62.8L455.3 67.6L457.2 71.8L456.0 67.2Z" fill="#3b3b3b" stroke="#3b3b3b"/><path d="M457.2 71.8L458.3 75.8L460.2 77.6L459.0 73.9Z" fill="#4a4a4a" stroke="#4a4a4a"/><path d="M460.2 77.6L461.4 80.2L463.2 80.6L462.0 78.1Z" fill="#606060" stroke="#606060"/><path d="M463.2 80.6L464.4 81.7L466.3 81.2L465.1 80.3Z" fill="#757575" stroke="#757575"/><path d="M466.3 81.2L467.5 80.8L469.3 78.6L468.1 79.3Z" fill="#8f8f8f" stroke="#8f8f8f"/><path d="M469.3 78.6L470.5 77.2L472.4 72.2L471.2 74.0Z" fill="#afafaf" stroke="#afafaf"/><path d="M472.4 72.2L473.6 70.7L475.4 63.7L474.2 65.2Z" fill="#bdbdbd" stroke="#bdbdbd"/><path d="M475.4 63.7L476.6 63.3L478.5 56.9L477.3 56.8Z" fill="#b9b9b9" stroke="#b9b9b9"/><path d="M478.5 56.9L479.6 58.6L481.5 54.6L480.3 52.1Z" fill="#939393" stroke="#939393"/><path d="M481.5 54.6L482.7 58.4L484.5 57.5L483.3 53.0Z" fill="#686868" stroke="#686868"/><path d="M484.5 57.5L485.7 62.5L487.6 64.1L486.4 58.8Z" fill="#4a4a4a" stroke="#4a4a4a"/><path d="M487.6 64.1L488.8 69.1L490.6 71.8L489.4 67.1Z" fill="#424242" stroke="#424242"/><path d="M490.6 71.8L491.8 75.4L493.7 77.8L492.5 74.6Z" fill="#474747" stroke="#474747"/><path d="M493.7 77.8L494.9 79.7L496.7 80.9L495.5 79.4Z" fill="#575757" stroke="#575757"/><path d="M496.7 80.9L497.9 81.2L499.7 81.5L498.6 81.4Z" fill="#6c6c6c" stroke="#6c6c6c"/><path d="M499.7 81.5L500.9 81.0L502.8 80.8L501.6 81.5Z" fill="#757575" stroke="#757575"/><path d="M502.8 80.8L504.0 80.1L505.8 78.8L504.6 79.9Z" fill="#838383" stroke="#838383"/><path d="M505.8 78.8L507.0 78.2L508.9 74.0L507.7 75.0Z" fill="#acacac" stroke="#acacac"/><path d="M508.9 74.0L510.1 74.1L511.9 68.4L510.7 68.0Z" fill="#bdbdbd" stroke="#bdbdbd"/><path d="M511.9 68.4L513.1 69.8L515.0 66.7L513.8 64.3Z" fill="#929292" stroke="#929292"/><path d="M515.0 66.7L516.2 69.7L518.0 70.1L516.8 66.5Z" fill="#5e5e5e" stroke="#5e5e5e"/><path d="M518.0 70.1L519.2 73.6L521.0 75.4L519.9 71.9Z" fill="#4d4d4d" stroke="#4d4d4d"/><path d="M521.0 75.4L522.2 78.0L524.1 79.1L522.9 76.9Z" fill="#555555" stroke="#555555"/><path d="M524.1 79.1L525.3 80.2L527.1 80.0L525.9 79.2Z" fill="#707070" stroke="#707070"/><path d="M527.1 80.0L528.3 79.7L530.2 78.7L529.0 79.1Z" fill="#818181" stroke="#818181"/><path d="M530.2 78.7L531.4 77.9L533.2 76.4L532.0 77.3Z" fill="#878787" stroke="#878787"/><path d="M533.2 76.4L534.4 76.0L536.3 74.1L535.1 74.6Z" fill="#8d8d8d" stroke="#8d8d8d"/><path d="M536.3 74.1L537.4 74.9L539.3 72.4L538.1 71.6Z" fill="#919191" stroke="#919191"/><path d="M491.8 75.4L493.0 77.8L494.9 79.7L493.7 77.8Z" fill="#4f4f4f" stroke="#4f4f4f"/><path d="M507.0 78.2L508.2 78.4L510.1 74.1L508.9 74.0Z" fill="#afafaf" stroke="#afafaf"/><path d="M522.2 78.0L523.4 79.4L525.3 80.2L524.1 79.1Z" fill="#606060" stroke="#606060"/><path d="M455.3 67.6L456.5 72.0L458.3 75.8L457.2 71.8Z" fill="#3d3d3d" stroke="#3d3d3d"/><path d="M461.4 80.2L462.6 81.4L464.4 81.7L463.2 80.6Z" fill="#6a6a6a" stroke="#6a6a6a"/><path d="M470.5 77.2L471.7 76.2L473.6 70.7L472.4 72.2Z" fill="#c2c2c2" stroke="#c2c2c2"/><path d="M476.6 63.3L477.8 64.5L479.6 58.6L478.5 56.9Z" fill="#a4a4a4" stroke="#a4a4a4"/><path d="M427.9 63.8L429.1 66.5L431.0 66.1L429.8 63.7Z" fill="#696969" stroke="#696969"/><path d="M431.0 66.1L432.2 67.3L434.0 66.4L432.8 65.2Z" fill="#7c7c7c" stroke="#7c7c7c"/><path d="M437.0 64.8L438.2 64.3L440.1 60.3L438.9 61.3Z" fill="#a9a9a9" stroke="#a9a9a9"/><path d="M440.1 60.3L441.3 59.6L443.1 53.9L441.9 54.9Z" fill="#cbcbcb" stroke="#cbcbcb"/><path d="M443.1 53.9L444.3 53.7L446.2 49.1L445.0 48.9Z" fill="#bcbcbc" stroke="#bcbcbc"/><path d="M446.2 49.1L447.4 50.6L449.2 50.2L448.0 47.9Z" fill="#757575" stroke="#757575"/><path d="M418.8 43.6L420.0 47.3L421.8 49.6L420.6 45.3Z" fill="#4a4a4a" stroke="#4a4a4a"/><path d="M421.8 49.6L423.0 54.3L424.9 57.9L423.7 53.3Z" fill="#3e3e3e" stroke="#3e3e3e"/><path d="M424.9 57.9L426.1 62.1L427.9 63.8L426.7 60.0Z" fill="#4a4a4a" stroke="#4a4a4a"/><path d="M434.0 66.4L435.2 66.5L437.0 64.8L435.9 64.8Z" fill="#8a8a8a" stroke="#8a8a8a"/><path d="M449.2 50.2L450.4 53.7L452.3 57.6L451.1 53.4Z" fill="#404040" stroke="#404040"/><path d="M452.3 57.6L453.5 62.2L455.3 67.6L454.1 62.8Z" fill="#383838" stroke="#383838"/><path d="M458.3 75.8L459.5 78.7L461.4 80.2L460.2 77.6Z" fill="#515151" stroke="#515151"/><path d="M464.4 81.7L465.6 81.5L467.5 80.8L466.3 81.2Z" fill="#7b7b7b" stroke="#7b7b7b"/><path d="M467.5 80.8L468.7 79.9L470.5 77.2L469.3 78.6Z" fill="#929292" stroke="#929292"/><path d="M473.6 70.7L474.8 70.3L476.6 63.3L475.4 63.7Z" fill="#bababa" stroke="#bababa"/><path d="M479.6 58.6L480.8 61.6L482.7 58.4L481.5 54.6Z" fill="#838383" stroke="#838383"/><path d="M482.7 58.4L483.9 62.8L485.7 62.5L484.5 57.5Z" fill="#5d5d5d" stroke="#5d5d5d"/><path d="M485.7 62.5L486.9 67.3L488.8 69.1L487.6 64.1Z" fill="#494949" stroke="#494949"/><path d="M488.8 69.1L490.0 73.0L491.8 75.4L490.6 71.8Z" fill="#464646" stroke="#464646"/><path d="M494.9 79.7L496.0 80.4L497.9 81.2L496.7 80.9Z" fill="#626262" stroke="#626262"/><path d="M497.9 81.2L499.1 80.9L500.9 81.0L499.7 81.5Z" fill="#707070" stroke="#707070"/><path d="M500.9 81.0L502.1 80.4L504.0 80.1L502.8 80.8Z" fill="#777777" stroke="#777777"/><path d="M504.0 80.1L505.2 79.8L507.0 78.2L505.8 78.8Z" fill="#888888" stroke="#888888"/><path d="M510.1 74.1L511.3 75.1L513.1 69.8L511.9 68.4Z" fill="#a7a7a7" stroke="#a7a7a7"/><path d="M513.1 69.8L514.3 72.0L516.2 69.7L515.0 66.7Z" fill="#868686" stroke="#868686"/><path d="M516.2 69.7L517.3 72.7L519.2 73.6L518.0 70.1Z" fill="#585858" stroke="#585858"/><path d="M519.2 73.6L520.4 76.3L522.2 78.0L521.0 75.4Z" fill="#505050" stroke="#505050"/><path d="M525.3 80.2L526.5 80.2L528.3 79.7L527.1 80.0Z" fill="#777777" stroke="#777777"/><path d="M528.3 79.7L529.5 79.1L531.4 77.9L530.2 78.7Z" fill="#838383" stroke="#838383"/><path d="M531.4 77.9L532.6 77.6L534.4 76.0L533.2 76.4Z" fill="#898989" stroke="#898989"/><path d="M534.4 76.0L535.6 76.8L537.4 74.9L536.3 74.1Z" fill="#8b8b8b" stroke="#8b8b8b"/><path d="M490.0 73.0L491.2 75.6L493.0 77.8L491.8 75.4Z" fill="#4c4c4c" stroke="#4c4c4c"/><path d="M493.0 77.8L494.2 78.9L496.0 80.4L494.9 79.7Z" fill="#585858" stroke="#585858"/><path d="M505.2 79.8L506.4 80.5L508.2 78.4L507.0 78.2Z" fill="#8c8c8c" stroke="#8c8c8c"/><path d="M508.2 78.4L509.4 79.6L511.3 75.1L510.1 74.1Z" fill="#a6a6a6" stroke="#a6a6a6"/><path d="M520.4 76.3L521.6 77.9L523.4 79.4L522.2 78.0Z" fill="#565656" stroke="#565656"/><path d="M523.4 79.4L524.6 79.8L526.5 80.2L525.3 80.2Z" fill="#696969" stroke="#696969"/><path d="M429.1 66.5L430.3 67.8L432.2 67.3L431.0 66.1Z" fill="#747474" stroke="#747474"/><path d="M438.2 64.3L439.4 64.0L441.3 59.6L440.1 60.3Z" fill="#afafaf" stroke="#afafaf"/><path d="M441.3 59.6L442.5 59.6L444.3 53.7L443.1 53.9Z" fill="#c6c6c6" stroke="#c6c6c6"/><path d="M444.3 53.7L445.5 54.6L447.4 50.6L446.2 49.1Z" fill="#a4a4a4" stroke="#a4a4a4"/><path d="M453.5 62.2L454.6 66.6L456.5 72.0L455.3 67.6Z" fill="#383838" stroke="#383838"/><path d="M456.5 72.0L457.7 75.3L459.5 78.7L458.3 75.8Z" fill="#424242" stroke="#424242"/><path d="M459.5 78.7L460.7 80.2L462.6 81.4L461.4 80.2Z" fill="#5a5a5a" stroke="#5a5a5a"/><path d="M462.6 81.4L463.8 81.4L465.6 81.5L464.4 81.7Z" fill="#707070" stroke="#707070"/><path d="M468.7 79.9L469.9 79.4L471.7 76.2L470.5 77.2Z" fill="#9c9c9c" stroke="#9c9c9c"/><path d="M471.7 76.2L472.9 76.2L474.8 70.3L473.6 70.7Z" fill="#c8c8c8" stroke="#c8c8c8"/><path d="M474.8 70.3L475.9 71.4L477.8 64.5L476.6 63.3Z" fill="#a6a6a6" stroke="#a6a6a6"/><path d="M477.8 64.5L479.0 66.9L480.8 61.6L479.6 58.6Z" fill="#909090" stroke="#909090"/><path d="M420.0 47.3L421.2 51.5L423.0 54.3L421.8 49.6Z" fill="#454545" stroke="#454545"/><path d="M426.1 62.1L427.3 65.2L429.1 66.5L427.9 63.8Z" fill="#525252" stroke="#525252"/><path d="M423.0 54.3L424.2 58.6L426.1 62.1L424.9 57.9Z" fill="#3f3f3f" stroke="#3f3f3f"/><path d="M432.2 67.3L433.3 67.5L435.2 66.5L434.0 66.4Z" fill="#808080" stroke="#808080"/><path d="M435.2 66.5L436.4 66.3L438.2 64.3L437.0 64.8Z" fill="#8d8d8d" stroke="#8d8d8d"/><path d="M447.4 50.6L448.6 53.1L450.4 53.7L449.2 50.2Z" fill="#616161" stroke="#616161"/><path d="M450.4 53.7L451.6 57.6L453.5 62.2L452.3 57.6Z" fill="#3c3c3c" stroke="#3c3c3c"/><path d="M465.6 81.5L466.8 80.9L468.7 79.9L467.5 80.8Z" fill="#7f7f7f" stroke="#7f7f7f"/><path d="M480.8 61.6L482.0 65.3L483.9 62.8L482.7 58.4Z" fill="#777777" stroke="#777777"/><path d="M483.9 62.8L485.1 67.1L486.9 67.3L485.7 62.5Z" fill="#585858" stroke="#585858"/><path d="M486.9 67.3L488.1 71.1L490.0 73.0L488.8 69.1Z" fill="#4b4b4b" stroke="#4b4b4b"/><path d="M496.0 80.4L497.2 80.4L499.1 80.9L497.9 81.2Z" fill="#696969" stroke="#696969"/><path d="M499.1 80.9L500.3 80.5L502.1 80.4L500.9 81.0Z" fill="#737373" stroke="#737373"/><path d="M502.1 80.4L503.3 80.4L505.2 79.8L504.0 80.1Z" fill="#797979" stroke="#797979"/><path d="M511.3 75.1L512.5 76.7L514.3 72.0L513.1 69.8Z" fill="#999999" stroke="#999999"/><path d="M514.3 72.0L515.5 74.3L517.3 72.7L516.2 69.7Z" fill="#7d7d7d" stroke="#7d7d7d"/><path d="M517.3 72.7L518.5 75.1L520.4 76.3L519.2 73.6Z" fill="#585858" stroke="#585858"/><path d="M526.5 80.2L527.7 79.8L529.5 79.1L528.3 79.7Z" fill="#7b7b7b" stroke="#7b7b7b"/><path d="M529.5 79.1L530.7 78.9L532.6 77.6L531.4 77.9Z" fill="#858585" stroke="#858585"/><path d="M532.6 77.6L533.8 78.3L535.6 76.8L534.4 76.0Z" fill="#878787" stroke="#878787"/><path d="M457.7 75.3L458.9 77.3L460.7 80.2L459.5 78.7Z" fill="#484848" stroke="#484848"/><path d="M472.9 76.2L474.1 77.6L475.9 71.4L474.8 70.3Z" fill="#a7a7a7" stroke="#a7a7a7"/><path d="M488.1 71.1L489.3 73.8L491.2 75.6L490.0 73.0Z" fill="#505050" stroke="#505050"/><path d="M491.2 75.6L492.3 77.1L494.2 78.9L493.0 77.8Z" fill="#535353" stroke="#535353"/><path d="M494.2 78.9L495.4 79.3L497.2 80.4L496.0 80.4Z" fill="#606060" stroke="#606060"/><path d="M503.3 80.4L504.5 81.3L506.4 80.5L505.2 79.8Z" fill="#7a7a7a" stroke="#7a7a7a"/><path d="M506.4 80.5L507.6 82.0L509.4 79.6L508.2 78.4Z" fill="#8c8c8c" stroke="#8c8c8c"/><path d="M509.4 79.6L510.6 81.3L512.5 76.7L511.3 75.1Z" fill="#9c9c9c" stroke="#9c9c9c"/><path d="M518.5 75.1L519.7 76.7L521.6 77.9L520.4 76.3Z" fill="#5b5b5b" stroke="#5b5b5b"/><path d="M521.6 77.9L522.8 78.6L524.6 79.8L523.4 79.4Z" fill="#5e5e5e" stroke="#5e5e5e"/><path d="M524.6 79.8L525.8 79.7L527.7 79.8L526.5 80.2Z" fill="#707070" stroke="#707070"/><path d="M439.4 64.0L440.6 64.5L442.5 59.6L441.3 59.6Z" fill="#b5b5b5" stroke="#b5b5b5"/><path d="M442.5 59.6L443.7 60.5L445.5 54.6L444.3 53.7Z" fill="#ababab" stroke="#ababab"/><path d="M427.3 65.2L428.5 66.8L430.3 67.8L429.1 66.5Z" fill="#5c5c5c" stroke="#5c5c5c"/><path d="M421.2 51.5L422.4 55.3L424.2 58.6L423.0 54.3Z" fill="#434343" stroke="#434343"/><path d="M424.2 58.6L425.4 61.7L427.3 65.2L426.1 62.1Z" fill="#424242" stroke="#424242"/><path d="M430.3 67.8L431.5 68.0L433.3 67.5L432.2 67.3Z" fill="#797979" stroke="#797979"/><path d="M433.3 67.5L434.5 67.2L436.4 66.3L435.2 66.5Z" fill="#818181" stroke="#818181"/><path d="M436.4 66.3L437.6 66.4L439.4 64.0L438.2 64.3Z" fill="#909090" stroke="#909090"/><path d="M445.5 54.6L446.7 56.4L448.6 53.1L447.4 50.6Z" fill="#909090" stroke="#909090"/><path d="M451.6 57.6L452.8 61.5L454.6 66.6L453.5 62.2Z" fill="#3a3a3a" stroke="#3a3a3a"/><path d="M454.6 66.6L455.8 70.1L457.7 75.3L456.5 72.0Z" fill="#3a3a3a" stroke="#3a3a3a"/><path d="M460.7 80.2L461.9 80.6L463.8 81.4L462.6 81.4Z" fill="#646464" stroke="#646464"/><path d="M463.8 81.4L465.0 81.0L466.8 80.9L465.6 81.5Z" fill="#747474" stroke="#747474"/><path d="M466.8 80.9L468.0 80.7L469.9 79.4L468.7 79.9Z" fill="#838383" stroke="#838383"/><path d="M469.9 79.4L471.1 80.0L472.9 76.2L471.7 76.2Z" fill="#a5a5a5" stroke="#a5a5a5"/><path d="M475.9 71.4L477.1 73.7L479.0 66.9L477.8 64.5Z" fill="#939393" stroke="#939393"/><path d="M479.0 66.9L480.2 70.0L482.0 65.3L480.8 61.6Z" fill="#8a8a8a" stroke="#8a8a8a"/><path d="M448.6 53.1L449.8 56.1L451.6 57.6L450.4 53.7Z" fill="#535353" stroke="#535353"/><path d="M482.0 65.3L483.2 68.9L485.1 67.1L483.9 62.8Z" fill="#737373" stroke="#737373"/><path d="M485.1 67.1L486.3 70.6L488.1 71.1L486.9 67.3Z" fill="#595959" stroke="#595959"/><path d="M497.2 80.4L498.4 80.3L500.3 80.5L499.1 80.9Z" fill="#6e6e6e" stroke="#6e6e6e"/><path d="M500.3 80.5L501.5 80.7L503.3 80.4L502.1 80.4Z" fill="#757575" stroke="#757575"/><path d="M512.5 76.7L513.6 78.5L515.5 74.3L514.3 72.0Z" fill="#949494" stroke="#949494"/><path d="M515.5 74.3L516.7 76.1L518.5 75.1L517.3 72.7Z" fill="#797979" stroke="#797979"/><path d="M527.7 79.8L528.9 79.8L530.7 78.9L529.5 79.1Z" fill="#7e7e7e" stroke="#7e7e7e"/><path d="M530.7 78.9L531.9 79.7L533.8 78.3L532.6 77.6Z" fill="#838383" stroke="#838383"/><path d="M440.6 64.5L441.8 66.0L443.7 60.5L442.5 59.6Z" fill="#a7a7a7" stroke="#a7a7a7"/><path d="M455.8 70.1L457.0 72.4L458.9 77.3L457.7 75.3Z" fill="#3d3d3d" stroke="#3d3d3d"/><path d="M458.9 77.3L460.1 78.2L461.9 80.6L460.7 80.2Z" fill="#505050" stroke="#505050"/><path d="M465.0 81.0L466.2 81.0L468.0 80.7L466.8 80.9Z" fill="#757575" stroke="#757575"/><path d="M471.1 80.0L472.2 81.9L474.1 77.6L472.9 76.2Z" fill="#989898" stroke="#989898"/><path d="M474.1 77.6L475.3 80.2L477.1 73.7L475.9 71.4Z" fill="#939393" stroke="#939393"/><path d="M486.3 70.6L487.5 72.8L489.3 73.8L488.1 71.1Z" fill="#5c5c5c" stroke="#5c5c5c"/><path d="M489.3 73.8L490.5 75.3L492.3 77.1L491.2 75.6Z" fill="#545454" stroke="#545454"/><path d="M492.3 77.1L493.5 77.8L495.4 79.3L494.2 78.9Z" fill="#5a5a5a" stroke="#5a5a5a"/><path d="M495.4 79.3L496.6 79.7L498.4 80.3L497.2 80.4Z" fill="#666666" stroke="#666666"/><path d="M501.5 80.7L502.7 81.8L504.5 81.3L503.3 80.4Z" fill="#757575" stroke="#757575"/><path d="M504.5 81.3L505.7 83.1L507.6 82.0L506.4 80.5Z" fill="#797979" stroke="#797979"/><path d="M507.6 82.0L508.8 83.9L510.6 81.3L509.4 79.6Z" fill="#8b8b8b" stroke="#8b8b8b"/><path d="M510.6 81.3L511.8 82.9L513.6 78.5L512.5 76.7Z" fill="#9c9c9c" stroke="#9c9c9c"/><path d="M516.7 76.1L517.9 77.1L519.7 76.7L518.5 75.1Z" fill="#787878" stroke="#787878"/><path d="M519.7 76.7L520.9 77.4L522.8 78.6L521.6 77.9Z" fill="#5f5f5f" stroke="#5f5f5f"/><path d="M522.8 78.6L524.0 78.9L525.8 79.7L524.6 79.8Z" fill="#646464" stroke="#646464"/><path d="M525.8 79.7L527.0 80.0L528.9 79.8L527.7 79.8Z" fill="#737373" stroke="#737373"/><path d="M422.4 55.3L423.6 58.0L425.4 61.7L424.2 58.6Z" fill="#434343" stroke="#434343"/><path d="M425.4 61.7L426.6 63.4L428.5 66.8L427.3 65.2Z" fill="#474747" stroke="#474747"/><path d="M431.5 68.0L432.7 67.7L434.5 67.2L433.3 67.5Z" fill="#7a7a7a" stroke="#7a7a7a"/><path d="M434.5 67.2L435.7 67.4L437.6 66.4L436.4 66.3Z" fill="#808080" stroke="#808080"/><path d="M437.6 66.4L438.8 67.3L440.6 64.5L439.4 64.0Z" fill="#929292" stroke="#929292"/><path d="M443.7 60.5L444.9 62.3L446.7 56.4L445.5 54.6Z" fill="#9e9e9e" stroke="#9e9e9e"/><path d="M449.8 56.1L450.9 59.0L452.8 61.5L451.6 57.6Z" fill="#4c4c4c" stroke="#4c4c4c"/><path d="M428.5 66.8L429.6 67.1L431.5 68.0L430.3 67.8Z" fill="#646464" stroke="#646464"/><path d="M446.7 56.4L447.9 58.6L449.8 56.1L448.6 53.1Z" fill="#878787" stroke="#878787"/><path d="M452.8 61.5L454.0 64.6L455.8 70.1L454.6 66.6Z" fill="#3a3a3a" stroke="#3a3a3a"/><path d="M461.9 80.6L463.1 80.5L465.0 81.0L463.8 81.4Z" fill="#6a6a6a" stroke="#6a6a6a"/><path d="M468.0 80.7L469.2 81.6L471.1 80.0L469.9 79.4Z" fill="#858585" stroke="#858585"/><path d="M477.1 73.7L478.3 76.5L480.2 70.0L479.0 66.9Z" fill="#8f8f8f" stroke="#8f8f8f"/><path d="M480.2 70.0L481.4 73.0L483.2 68.9L482.0 65.3Z" fill="#898989" stroke="#898989"/><path d="M483.2 68.9L484.4 71.7L486.3 70.6L485.1 67.1Z" fill="#737373" stroke="#737373"/><path d="M498.4 80.3L499.6 80.9L501.5 80.7L500.3 80.5Z" fill="#717171" stroke="#717171"/><path d="M513.6 78.5L514.8 79.7L516.7 76.1L515.5 74.3Z" fill="#9a9a9a" stroke="#9a9a9a"/><path d="M528.9 79.8L530.0 80.7L531.9 79.7L530.7 78.9Z" fill="#7e7e7e" stroke="#7e7e7e"/><path d="M423.6 58.0L424.8 59.1L426.6 63.4L425.4 61.7Z" fill="#444444" stroke="#444444"/><path d="M429.6 67.1L430.8 67.0L432.7 67.7L431.5 68.0Z" fill="#686868" stroke="#686868"/><path d="M432.7 67.7L433.9 67.8L435.7 67.4L434.5 67.2Z" fill="#797979" stroke="#797979"/><path d="M435.7 67.4L436.9 68.5L438.8 67.3L437.6 66.4Z" fill="#7e7e7e" stroke="#7e7e7e"/><path d="M438.8 67.3L440.0 69.4L441.8 66.0L440.6 64.5Z" fill="#909090" stroke="#909090"/><path d="M441.8 66.0L443.0 68.2L444.9 62.3L443.7 60.5Z" fill="#9a9a9a" stroke="#9a9a9a"/><path d="M447.9 58.6L449.1 60.7L450.9 59.0L449.8 56.1Z" fill="#818181" stroke="#818181"/><path d="M454.0 64.6L455.2 66.8L457.0 72.4L455.8 70.1Z" fill="#3b3b3b" stroke="#3b3b3b"/><path d="M457.0 72.4L458.2 73.8L460.1 78.2L458.9 77.3Z" fill="#424242" stroke="#424242"/><path d="M460.1 78.2L461.3 78.6L463.1 80.5L461.9 80.6Z" fill="#565656" stroke="#565656"/><path d="M463.1 80.5L464.3 80.7L466.2 81.0L465.0 81.0Z" fill="#6d6d6d" stroke="#6d6d6d"/><path d="M466.2 81.0L467.4 82.0L469.2 81.6L468.0 80.7Z" fill="#747474" stroke="#747474"/><path d="M469.2 81.6L470.4 83.9L472.2 81.9L471.1 80.0Z" fill="#818181" stroke="#818181"/><path d="M472.2 81.9L473.4 84.9L475.3 80.2L474.1 77.6Z" fill="#8e8e8e" stroke="#8e8e8e"/><path d="M475.3 80.2L476.5 83.2L478.3 76.5L477.1 73.7Z" fill="#909090" stroke="#909090"/><path d="M484.4 71.7L485.6 73.4L487.5 72.8L486.3 70.6Z" fill="#757575" stroke="#757575"/><path d="M487.5 72.8L488.6 74.1L490.5 75.3L489.3 73.8Z" fill="#5e5e5e" stroke="#5e5e5e"/><path d="M490.5 75.3L491.7 76.2L493.5 77.8L492.3 77.1Z" fill="#585858" stroke="#585858"/><path d="M493.5 77.8L494.7 78.6L496.6 79.7L495.4 79.3Z" fill="#5e5e5e" stroke="#5e5e5e"/><path d="M496.6 79.7L497.8 80.6L499.6 80.9L498.4 80.3Z" fill="#6a6a6a" stroke="#6a6a6a"/><path d="M499.6 80.9L500.8 82.3L502.7 81.8L501.5 80.7Z" fill="#727272" stroke="#727272"/><path d="M502.7 81.8L503.9 83.8L505.7 83.1L504.5 81.3Z" fill="#737373" stroke="#737373"/><path d="M505.7 83.1L506.9 85.2L508.8 83.9L507.6 82.0Z" fill="#797979" stroke="#797979"/><path d="M508.8 83.9L509.9 85.8L511.8 82.9L510.6 81.3Z" fill="#8e8e8e" stroke="#8e8e8e"/><path d="M511.8 82.9L513.0 83.9L514.8 79.7L513.6 78.5Z" fill="#a5a5a5" stroke="#a5a5a5"/><path d="M514.8 79.7L516.0 80.1L517.9 77.1L516.7 76.1Z" fill="#9e9e9e" stroke="#9e9e9e"/><path d="M517.9 77.1L519.1 77.5L520.9 77.4L519.7 76.7Z" fill="#757575" stroke="#757575"/><path d="M520.9 77.4L522.1 77.8L524.0 78.9L522.8 78.6Z" fill="#616161" stroke="#616161"/><path d="M524.0 78.9L525.2 79.5L527.0 80.0L525.8 79.7Z" fill="#676767" stroke="#676767"/><path d="M527.0 80.0L528.2 81.1L530.0 80.7L528.9 79.8Z" fill="#747474" stroke="#747474"/><path d="M426.6 63.4L427.8 63.8L429.6 67.1L428.5 66.8Z" fill="#4b4b4b" stroke="#4b4b4b"/><path d="M444.9 62.3L446.1 64.3L447.9 58.6L446.7 56.4Z" fill="#979797" stroke="#979797"/><path d="M450.9 59.0L452.1 61.3L454.0 64.6L452.8 61.5Z" fill="#484848" stroke="#484848"/><path d="M478.3 76.5L479.5 79.1L481.4 73.0L480.2 70.0Z" fill="#919191" stroke="#919191"/><path d="M481.4 73.0L482.6 75.1L484.4 71.7L483.2 68.9Z" fill="#8e8e8e" stroke="#8e8e8e"/><path d="M497.8 80.6L499.0 82.3L500.8 82.3L499.6 80.9Z" fill="#6b6b6b" stroke="#6b6b6b"/><path d="M513.0 83.9L514.2 84.1L516.0 80.1L514.8 79.7Z" fill="#adadad" stroke="#adadad"/><path d="M461.3 78.6L462.5 79.3L464.3 80.7L463.1 80.5Z" fill="#5a5a5a" stroke="#5a5a5a"/><path d="M467.4 82.0L468.5 84.4L470.4 83.9L469.2 81.6Z" fill="#6d6d6d" stroke="#6d6d6d"/><path d="M482.6 75.1L483.8 76.0L485.6 73.4L484.4 71.7Z" fill="#929292" stroke="#929292"/><path d="M433.9 67.8L435.1 68.9L436.9 68.5L435.7 67.4Z" fill="#757575" stroke="#757575"/><path d="M436.9 68.5L438.1 70.7L440.0 69.4L438.8 67.3Z" fill="#797979" stroke="#797979"/><path d="M446.1 64.3L447.2 66.0L449.1 60.7L447.9 58.6Z" fill="#9c9c9c" stroke="#9c9c9c"/><path d="M452.1 61.3L453.3 62.8L455.2 66.8L454.0 64.6Z" fill="#454545" stroke="#454545"/><path d="M424.8 59.1L425.9 59.0L427.8 63.8L426.6 63.4Z" fill="#454545" stroke="#454545"/><path d="M427.8 63.8L429.0 63.7L430.8 67.0L429.6 67.1Z" fill="#4d4d4d" stroke="#4d4d4d"/><path d="M430.8 67.0L432.0 67.2L433.9 67.8L432.7 67.7Z" fill="#696969" stroke="#696969"/><path d="M440.0 69.4L441.2 72.2L443.0 68.2L441.8 66.0Z" fill="#8c8c8c" stroke="#8c8c8c"/><path d="M443.0 68.2L444.2 70.7L446.1 64.3L444.9 62.3Z" fill="#959595" stroke="#959595"/><path d="M449.1 60.7L450.3 62.1L452.1 61.3L450.9 59.0Z" fill="#7b7b7b" stroke="#7b7b7b"/><path d="M455.2 66.8L456.4 68.2L458.2 73.8L457.0 72.4Z" fill="#3d3d3d" stroke="#3d3d3d"/><path d="M458.2 73.8L459.4 74.7L461.3 78.6L460.1 78.2Z" fill="#464646" stroke="#464646"/><path d="M464.3 80.7L465.5 81.9L467.4 82.0L466.2 81.0Z" fill="#6b6b6b" stroke="#6b6b6b"/><path d="M470.4 83.9L471.6 87.3L473.4 84.9L472.2 81.9Z" fill="#797979" stroke="#797979"/><path d="M473.4 84.9L474.6 88.3L476.5 83.2L475.3 80.2Z" fill="#8b8b8b" stroke="#8b8b8b"/><path d="M476.5 83.2L477.7 85.8L479.5 79.1L478.3 76.5Z" fill="#929292" stroke="#929292"/><path d="M485.6 73.4L486.8 74.1L488.6 74.1L487.5 72.8Z" fill="#737373" stroke="#737373"/><path d="M488.6 74.1L489.8 74.8L491.7 76.2L490.5 75.3Z" fill="#5d5d5d" stroke="#5d5d5d"/><path d="M491.7 76.2L492.9 77.1L494.7 78.6L493.5 77.8Z" fill="#5a5a5a" stroke="#5a5a5a"/><path d="M494.7 78.6L495.9 79.9L497.8 80.6L496.6 79.7Z" fill="#616161" stroke="#616161"/><path d="M500.8 82.3L502.0 84.4L503.9 83.8L502.7 81.8Z" fill="#707070" stroke="#707070"/><path d="M503.9 83.8L505.1 86.1L506.9 85.2L505.7 83.1Z" fill="#727272" stroke="#727272"/><path d="M506.9 85.2L508.1 87.3L509.9 85.8L508.8 83.9Z" fill="#7d7d7d" stroke="#7d7d7d"/><path d="M509.9 85.8L511.1 86.9L513.0 83.9L511.8 82.9Z" fill="#939393" stroke="#939393"/><path d="M516.0 80.1L517.2 80.0L519.1 77.5L517.9 77.1Z" fill="#979797" stroke="#979797"/><path d="M519.1 77.5L520.3 77.7L522.1 77.8L520.9 77.4Z" fill="#717171" stroke="#717171"/><path d="M522.1 77.8L523.3 78.5L525.2 79.5L524.0 78.9Z" fill="#626262" stroke="#626262"/><path d="M525.2 79.5L526.3 80.8L528.2 81.1L527.0 80.0Z" fill="#686868" stroke="#686868"/><path d="M479.5 79.1L480.7 80.6L482.6 75.1L481.4 73.0Z" fill="#9d9d9d" stroke="#9d9d9d"/><path d="M495.9 79.9L497.1 82.0L499.0 82.3L497.8 80.6Z" fill="#626262" stroke="#626262"/><path d="M499.0 82.3L500.2 84.8L502.0 84.4L500.8 82.3Z" fill="#6a6a6a" stroke="#6a6a6a"/><path d="M511.1 86.9L512.3 87.2L514.2 84.1L513.0 83.9Z" fill="#9e9e9e" stroke="#9e9e9e"/><path d="M514.2 84.1L515.4 83.6L517.2 80.0L516.0 80.1Z" fill="#acacac" stroke="#acacac"/><path d="M432.0 67.2L433.2 68.4L435.1 68.9L433.9 67.8Z" fill="#666666" stroke="#666666"/><path d="M435.1 68.9L436.3 71.2L438.1 70.7L436.9 68.5Z" fill="#6d6d6d" stroke="#6d6d6d"/><path d="M444.2 70.7L445.4 72.6L447.2 66.0L446.1 64.3Z" fill="#9d9d9d" stroke="#9d9d9d"/><path d="M450.3 62.1L451.5 62.5L453.3 62.8L452.1 61.3Z" fill="#737373" stroke="#737373"/><path d="M459.4 74.7L460.6 75.9L462.5 79.3L461.3 78.6Z" fill="#484848" stroke="#484848"/><path d="M462.5 79.3L463.7 80.8L465.5 81.9L464.3 80.7Z" fill="#5b5b5b" stroke="#5b5b5b"/><path d="M465.5 81.9L466.7 84.3L468.5 84.4L467.4 82.0Z" fill="#656565" stroke="#656565"/><path d="M468.5 84.4L469.7 87.9L471.6 87.3L470.4 83.9Z" fill="#666666" stroke="#666666"/><path d="M480.7 80.6L481.9 80.9L483.8 76.0L482.6 75.1Z" fill="#afafaf" stroke="#afafaf"/><path d="M483.8 76.0L484.9 75.9L486.8 74.1L485.6 73.4Z" fill="#909090" stroke="#909090"/><path d="M425.9 59.0L427.1 58.4L429.0 63.7L427.8 63.8Z" fill="#444444" stroke="#444444"/><path d="M429.0 63.7L430.2 64.1L432.0 67.2L430.8 67.0Z" fill="#4d4d4d" stroke="#4d4d4d"/><path d="M438.1 70.7L439.3 74.0L441.2 72.2L440.0 69.4Z" fill="#757575" stroke="#757575"/><path d="M447.2 66.0L448.4 66.8L450.3 62.1L449.1 60.7Z" fill="#a9a9a9" stroke="#a9a9a9"/><path d="M453.3 62.8L454.5 63.6L456.4 68.2L455.2 66.8Z" fill="#444444" stroke="#444444"/><path d="M441.2 72.2L442.4 75.3L444.2 70.7L443.0 68.2Z" fill="#8d8d8d" stroke="#8d8d8d"/><path d="M456.4 68.2L457.6 69.3L459.4 74.7L458.2 73.8Z" fill="#3e3e3e" stroke="#3e3e3e"/><path d="M471.6 87.3L472.8 91.1L474.6 88.3L473.4 84.9Z" fill="#797979" stroke="#797979"/><path d="M474.6 88.3L475.8 91.2L477.7 85.8L476.5 83.2Z" fill="#909090" stroke="#909090"/><path d="M477.7 85.8L478.9 87.2L480.7 80.6L479.5 79.1Z" fill="#a2a2a2" stroke="#a2a2a2"/><path d="M486.8 74.1L488.0 74.3L489.8 74.8L488.6 74.1Z" fill="#6d6d6d" stroke="#6d6d6d"/><path d="M489.8 74.8L491.0 75.7L492.9 77.1L491.7 76.2Z" fill="#5b5b5b" stroke="#5b5b5b"/><path d="M492.9 77.1L494.1 78.7L495.9 79.9L494.7 78.6Z" fill="#5a5a5a" stroke="#5a5a5a"/><path d="M502.0 84.4L503.2 86.9L505.1 86.1L503.9 83.8Z" fill="#707070" stroke="#707070"/><path d="M505.1 86.1L506.2 88.3L508.1 87.3L506.9 85.2Z" fill="#757575" stroke="#757575"/><path d="M508.1 87.3L509.3 88.6L511.1 86.9L509.9 85.8Z" fill="#858585" stroke="#858585"/><path d="M517.2 80.0L518.4 79.6L520.3 77.7L519.1 77.5Z" fill="#909090" stroke="#909090"/><path d="M520.3 77.7L521.5 78.2L523.3 78.5L522.1 77.8Z" fill="#6d6d6d" stroke="#6d6d6d"/><path d="M523.3 78.5L524.5 80.1L526.3 80.8L525.2 79.5Z" fill="#606060" stroke="#606060"/><path d="M463.7 80.8L464.8 83.5L466.7 84.3L465.5 81.9Z" fill="#595959" stroke="#595959"/><path d="M478.9 87.2L480.1 87.0L481.9 80.9L480.7 80.6Z" fill="#bbbbbb" stroke="#bbbbbb"/><path d="M494.1 78.7L495.3 81.0L497.1 82.0L495.9 79.9Z" fill="#595959" stroke="#595959"/><path d="M497.1 82.0L498.3 84.7L500.2 84.8L499.0 82.3Z" fill="#626262" stroke="#626262"/><path d="M500.2 84.8L501.4 87.5L503.2 86.9L502.0 84.4Z" fill="#6b6b6b" stroke="#6b6b6b"/><path d="M509.3 88.6L510.5 89.0L512.3 87.2L511.1 86.9Z" fill="#8b8b8b" stroke="#8b8b8b"/><path d="M512.3 87.2L513.5 86.8L515.4 83.6L514.2 84.1Z" fill="#a0a0a0" stroke="#a0a0a0"/><path d="M515.4 83.6L516.6 83.0L518.4 79.6L517.2 80.0Z" fill="#a8a8a8" stroke="#a8a8a8"/><path d="M448.4 66.8L449.6 66.6L451.5 62.5L450.3 62.1Z" fill="#b0b0b0" stroke="#b0b0b0"/><path d="M427.1 58.4L428.3 58.5L430.2 64.1L429.0 63.7Z" fill="#414141" stroke="#414141"/><path d="M430.2 64.1L431.4 65.6L433.2 68.4L432.0 67.2Z" fill="#4b4b4b" stroke="#4b4b4b"/><path d="M433.2 68.4L434.4 71.0L436.3 71.2L435.1 68.9Z" fill="#616161" stroke="#616161"/><path d="M436.3 71.2L437.5 74.6L439.3 74.0L438.1 70.7Z" fill="#676767" stroke="#676767"/><path d="M442.4 75.3L443.5 77.9L445.4 72.6L444.2 70.7Z" fill="#939393" stroke="#939393"/><path d="M445.4 72.6L446.6 73.5L448.4 66.8L447.2 66.0Z" fill="#aaaaaa" stroke="#aaaaaa"/><path d="M451.5 62.5L452.7 62.4L454.5 63.6L453.3 62.8Z" fill="#676767" stroke="#676767"/><path d="M457.6 69.3L458.8 70.8L460.6 75.9L459.4 74.7Z" fill="#3e3e3e" stroke="#3e3e3e"/><path d="M460.6 75.9L461.8 78.0L463.7 80.8L462.5 79.3Z" fill="#494949" stroke="#494949"/><path d="M466.7 84.3L467.9 87.8L469.7 87.9L468.5 84.4Z" fill="#5d5d5d" stroke="#5d5d5d"/><path d="M469.7 87.9L470.9 91.8L472.8 91.1L471.6 87.3Z" fill="#646464" stroke="#646464"/><path d="M481.9 80.9L483.1 79.9L484.9 75.9L483.8 76.0Z" fill="#b9b9b9" stroke="#b9b9b9"/><path d="M484.9 75.9L486.1 75.3L488.0 74.3L486.8 74.1Z" fill="#878787" stroke="#878787"/><path d="M439.3 74.0L440.5 77.5L442.4 75.3L441.2 72.2Z" fill="#777777" stroke="#777777"/><path d="M454.5 63.6L455.7 64.3L457.6 69.3L456.4 68.2Z" fill="#424242" stroke="#424242"/><path d="M472.8 91.1L474.0 94.3L475.8 91.2L474.6 88.3Z" fill="#828282" stroke="#828282"/><path d="M475.8 91.2L477.0 92.8L478.9 87.2L477.7 85.8Z" fill="#a3a3a3" stroke="#a3a3a3"/><path d="M488.0 74.3L489.2 74.7L491.0 75.7L489.8 74.8Z" fill="#666666" stroke="#666666"/><path d="M491.0 75.7L492.2 77.2L494.1 78.7L492.9 77.1Z" fill="#585858" stroke="#585858"/><path d="M503.2 86.9L504.4 89.1L506.2 88.3L505.1 86.1Z" fill="#737373" stroke="#737373"/><path d="M506.2 88.3L507.4 89.7L509.3 88.6L508.1 87.3Z" fill="#7c7c7c" stroke="#7c7c7c"/><path d="M518.4 79.6L519.6 79.7L521.5 78.2L520.3 77.7Z" fill="#8b8b8b" stroke="#8b8b8b"/><path d="M521.5 78.2L522.6 79.6L524.5 80.1L523.3 78.5Z" fill="#676767" stroke="#676767"/><path d="M446.6 73.5L447.8 73.1L449.6 66.6L448.4 66.8Z" fill="#bfbfbf" stroke="#bfbfbf"/><path d="M461.8 78.0L463.0 81.1L464.8 83.5L463.7 80.8Z" fill="#494949" stroke="#494949"/><path d="M464.8 83.5L466.0 87.0L467.9 87.8L466.7 84.3Z" fill="#555555" stroke="#555555"/><path d="M477.0 92.8L478.2 92.8L480.1 87.0L478.9 87.2Z" fill="#c6c6c6" stroke="#c6c6c6"/><path d="M480.1 87.0L481.2 85.6L483.1 79.9L481.9 80.9Z" fill="#c8c8c8" stroke="#c8c8c8"/><path d="M492.2 77.2L493.4 79.6L495.3 81.0L494.1 78.7Z" fill="#545454" stroke="#545454"/><path d="M495.3 81.0L496.5 84.1L498.3 84.7L497.1 82.0Z" fill="#585858" stroke="#585858"/><path d="M498.3 84.7L499.5 87.7L501.4 87.5L500.2 84.8Z" fill="#646464" stroke="#646464"/><path d="M501.4 87.5L502.5 89.9L504.4 89.1L503.2 86.9Z" fill="#707070" stroke="#707070"/><path d="M507.4 89.7L508.6 90.2L510.5 89.0L509.3 88.6Z" fill="#828282" stroke="#828282"/><path d="M510.5 89.0L511.7 88.7L513.5 86.8L512.3 87.2Z" fill="#8d8d8d" stroke="#8d8d8d"/><path d="M513.5 86.8L514.7 86.1L516.6 83.0L515.4 83.6Z" fill="#9f9f9f" stroke="#9f9f9f"/><path d="M516.6 83.0L517.8 82.7L519.6 79.7L518.4 79.6Z" fill="#a2a2a2" stroke="#a2a2a2"/><path d="M428.3 58.5L429.5 59.8L431.4 65.6L430.2 64.1Z" fill="#3c3c3c" stroke="#3c3c3c"/><path d="M431.4 65.6L432.6 68.5L434.4 71.0L433.2 68.4Z" fill="#494949" stroke="#494949"/><path d="M440.5 77.5L441.7 80.6L443.5 77.9L442.4 75.3Z" fill="#818181" stroke="#818181"/><path d="M449.6 66.6L450.8 65.6L452.7 62.4L451.5 62.5Z" fill="#a9a9a9" stroke="#a9a9a9"/><path d="M455.7 64.3L456.9 65.5L458.8 70.8L457.6 69.3Z" fill="#3f3f3f" stroke="#3f3f3f"/><path d="M434.4 71.0L435.6 74.5L437.5 74.6L436.3 71.2Z" fill="#5d5d5d" stroke="#5d5d5d"/><path d="M437.5 74.6L438.7 78.3L440.5 77.5L439.3 74.0Z" fill="#666666" stroke="#666666"/><path d="M443.5 77.9L444.7 79.3L446.6 73.5L445.4 72.6Z" fill="#a8a8a8" stroke="#a8a8a8"/><path d="M452.7 62.4L453.9 62.2L455.7 64.3L454.5 63.6Z" fill="#5b5b5b" stroke="#5b5b5b"/><path d="M458.8 70.8L460.0 73.2L461.8 78.0L460.6 75.9Z" fill="#3d3d3d" stroke="#3d3d3d"/><path d="M467.9 87.8L469.1 91.6L470.9 91.8L469.7 87.9Z" fill="#5a5a5a" stroke="#5a5a5a"/><path d="M470.9 91.8L472.1 95.2L474.0 94.3L472.8 91.1Z" fill="#6a6a6a" stroke="#6a6a6a"/><path d="M483.1 79.9L484.3 78.4L486.1 75.3L484.9 75.9Z" fill="#a6a6a6" stroke="#a6a6a6"/><path d="M486.1 75.3L487.3 75.0L489.2 74.7L488.0 74.3Z" fill="#7b7b7b" stroke="#7b7b7b"/><path d="M474.0 94.3L475.2 96.3L477.0 92.8L475.8 91.2Z" fill="#919191" stroke="#919191"/><path d="M489.2 74.7L490.4 75.9L492.2 77.2L491.0 75.7Z" fill="#5d5d5d" stroke="#5d5d5d"/><path d="M504.4 89.1L505.6 90.6L507.4 89.7L506.2 88.3Z" fill="#797979" stroke="#797979"/><path d="M519.6 79.7L520.8 80.7L522.6 79.6L521.5 78.2Z" fill="#818181" stroke="#818181"/><path d="M429.5 59.8L430.7 62.8L432.6 68.5L431.4 65.6Z" fill="#393939" stroke="#393939"/><path d="M432.6 68.5L433.8 72.5L435.6 74.5L434.4 71.0Z" fill="#484848" stroke="#484848"/><path d="M438.7 78.3L439.8 81.6L441.7 80.6L440.5 77.5Z" fill="#6c6c6c" stroke="#6c6c6c"/><path d="M441.7 80.6L442.9 82.6L444.7 79.3L443.5 77.9Z" fill="#909090" stroke="#909090"/><path d="M444.7 79.3L445.9 79.4L447.8 73.1L446.6 73.5Z" fill="#c4c4c4" stroke="#c4c4c4"/><path d="M447.8 73.1L449.0 71.8L450.8 65.6L449.6 66.6Z" fill="#c7c7c7" stroke="#c7c7c7"/><path d="M450.8 65.6L452.0 64.4L453.9 62.2L452.7 62.4Z" fill="#969696" stroke="#969696"/><path d="M453.9 62.2L455.1 62.6L456.9 65.5L455.7 64.3Z" fill="#505050" stroke="#505050"/><path d="M456.9 65.5L458.1 67.8L460.0 73.2L458.8 70.8Z" fill="#3c3c3c" stroke="#3c3c3c"/><path d="M460.0 73.2L461.1 76.7L463.0 81.1L461.8 78.0Z" fill="#3d3d3d" stroke="#3d3d3d"/><path d="M463.0 81.1L464.2 85.0L466.0 87.0L464.8 83.5Z" fill="#494949" stroke="#494949"/><path d="M466.0 87.0L467.2 90.8L469.1 91.6L467.9 87.8Z" fill="#545454" stroke="#545454"/><path d="M475.2 96.3L476.4 96.5L478.2 92.8L477.0 92.8Z" fill="#a8a8a8" stroke="#a8a8a8"/><path d="M478.2 92.8L479.4 91.3L481.2 85.6L480.1 87.0Z" fill="#c1c1c1" stroke="#c1c1c1"/><path d="M481.2 85.6L482.4 83.4L484.3 78.4L483.1 79.9Z" fill="#b0b0b0" stroke="#b0b0b0"/><path d="M490.4 75.9L491.6 78.2L493.4 79.6L492.2 77.2Z" fill="#555555" stroke="#555555"/><path d="M493.4 79.6L494.6 82.9L496.5 84.1L495.3 81.0Z" fill="#535353" stroke="#535353"/><path d="M496.5 84.1L497.7 87.3L499.5 87.7L498.3 84.7Z" fill="#5b5b5b" stroke="#5b5b5b"/><path d="M499.5 87.7L500.7 90.3L502.5 89.9L501.4 87.5Z" fill="#6a6a6a" stroke="#6a6a6a"/><path d="M502.5 89.9L503.7 91.4L505.6 90.6L504.4 89.1Z" fill="#777777" stroke="#777777"/><path d="M505.6 90.6L506.8 91.1L508.6 90.2L507.4 89.7Z" fill="#7f7f7f" stroke="#7f7f7f"/><path d="M508.6 90.2L509.8 89.9L511.7 88.7L510.5 89.0Z" fill="#848484" stroke="#848484"/><path d="M511.7 88.7L512.9 88.1L514.7 86.1L513.5 86.8Z" fill="#8e8e8e" stroke="#8e8e8e"/><path d="M514.7 86.1L515.9 85.7L517.8 82.7L516.6 83.0Z" fill="#9f9f9f" stroke="#9f9f9f"/><path d="M517.8 82.7L518.9 83.4L520.8 80.7L519.6 79.7Z" fill="#959595" stroke="#959595"/><path d="M435.6 74.5L436.8 78.4L438.7 78.3L437.5 74.6Z" fill="#5c5c5c" stroke="#5c5c5c"/><path d="M469.1 91.6L470.3 94.9L472.1 95.2L470.9 91.8Z" fill="#5c5c5c" stroke="#5c5c5c"/><path d="M472.1 95.2L473.3 97.4L475.2 96.3L474.0 94.3Z" fill="#767676" stroke="#767676"/><path d="M484.3 78.4L485.5 77.2L487.3 75.0L486.1 75.3Z" fill="#969696" stroke="#969696"/><path d="M487.3 75.0L488.5 75.6L490.4 75.9L489.2 74.7Z" fill="#6f6f6f" stroke="#6f6f6f"/><path d="M503.7 91.4L504.9 92.0L506.8 91.1L505.6 90.6Z" fill="#7d7d7d" stroke="#7d7d7d"/><path d="M473.3 97.4L474.5 97.9L476.4 96.5L475.2 96.3Z" fill="#848484" stroke="#848484"/><path d="M488.5 75.6L489.7 77.4L491.6 78.2L490.4 75.9Z" fill="#616161" stroke="#616161"/><path d="M430.7 62.8L431.9 67.1L433.8 72.5L432.6 68.5Z" fill="#383838" stroke="#383838"/><path d="M433.8 72.5L435.0 76.8L436.8 78.4L435.6 74.5Z" fill="#4a4a4a" stroke="#4a4a4a"/><path d="M436.8 78.4L438.0 81.8L439.8 81.6L438.7 78.3Z" fill="#626262" stroke="#626262"/><path d="M439.8 81.6L441.0 83.7L442.9 82.6L441.7 80.6Z" fill="#787878" stroke="#787878"/><path d="M442.9 82.6L444.1 83.1L445.9 79.4L444.7 79.3Z" fill="#a6a6a6" stroke="#a6a6a6"/><path d="M445.9 79.4L447.1 78.4L449.0 71.8L447.8 73.1Z" fill="#c7c7c7" stroke="#c7c7c7"/><path d="M449.0 71.8L450.2 70.2L452.0 64.4L450.8 65.6Z" fill="#c4c4c4" stroke="#c4c4c4"/><path d="M452.0 64.4L453.2 63.8L455.1 62.6L453.9 62.2Z" fill="#8b8b8b" stroke="#8b8b8b"/><path d="M455.1 62.6L456.3 64.1L458.1 67.8L456.9 65.5Z" fill="#474747" stroke="#474747"/><path d="M458.1 67.8L459.3 71.3L461.1 76.7L460.0 73.2Z" fill="#393939" stroke="#393939"/><path d="M461.1 76.7L462.3 81.0L464.2 85.0L463.0 81.1Z" fill="#3d3d3d" stroke="#3d3d3d"/><path d="M464.2 85.0L465.4 89.1L467.2 90.8L466.0 87.0Z" fill="#4a4a4a" stroke="#4a4a4a"/><path d="M467.2 90.8L468.4 94.2L470.3 94.9L469.1 91.6Z" fill="#575757" stroke="#575757"/><path d="M476.4 96.5L477.5 95.3L479.4 91.3L478.2 92.8Z" fill="#a8a8a8" stroke="#a8a8a8"/><path d="M479.4 91.3L480.6 88.9L482.4 83.4L481.2 85.6Z" fill="#adadad" stroke="#adadad"/><path d="M482.4 83.4L483.6 81.5L485.5 77.2L484.3 78.4Z" fill="#adadad" stroke="#adadad"/><path d="M491.6 78.2L492.8 81.4L494.6 82.9L493.4 79.6Z" fill="#515151" stroke="#515151"/><path d="M494.6 82.9L495.8 86.4L497.7 87.3L496.5 84.1Z" fill="#535353" stroke="#535353"/><path d="M497.7 87.3L498.8 90.2L500.7 90.3L499.5 87.7Z" fill="#616161" stroke="#616161"/><path d="M500.7 90.3L501.9 92.0L503.7 91.4L502.5 89.9Z" fill="#727272" stroke="#727272"/><path d="M506.8 91.1L508.0 90.9L509.8 89.9L508.6 90.2Z" fill="#818181" stroke="#818181"/><path d="M509.8 89.9L511.0 89.4L512.9 88.1L511.7 88.7Z" fill="#868686" stroke="#868686"/><path d="M512.9 88.1L514.1 87.8L515.9 85.7L514.7 86.1Z" fill="#8f8f8f" stroke="#8f8f8f"/><path d="M515.9 85.7L517.1 86.3L518.9 83.4L517.8 82.7Z" fill="#999999" stroke="#999999"/><path d="M470.3 94.9L471.5 97.1L473.3 97.4L472.1 95.2Z" fill="#646464" stroke="#646464"/><path d="M485.5 77.2L486.7 77.0L488.5 75.6L487.3 75.0Z" fill="#8c8c8c" stroke="#8c8c8c"/><path d="M501.9 92.0L503.1 92.7L504.9 92.0L503.7 91.4Z" fill="#797979" stroke="#797979"/><path d="M504.9 92.0L506.1 91.8L508.0 90.9L506.8 91.1Z" fill="#808080" stroke="#808080"/><path d="M435.0 76.8L436.1 80.5L438.0 81.8L436.8 78.4Z" fill="#4f4f4f" stroke="#4f4f4f"/><path d="M441.0 83.7L442.2 84.5L444.1 83.1L442.9 82.6Z" fill="#838383" stroke="#838383"/><path d="M450.2 70.2L451.4 68.9L453.2 63.8L452.0 64.4Z" fill="#cacaca" stroke="#cacaca"/><path d="M456.3 64.1L457.4 67.0L459.3 71.3L458.1 67.8Z" fill="#404040" stroke="#404040"/><path d="M471.5 97.1L472.7 97.8L474.5 97.9L473.3 97.4Z" fill="#6e6e6e" stroke="#6e6e6e"/><path d="M474.5 97.9L475.7 97.1L477.5 95.3L476.4 96.5Z" fill="#898989" stroke="#898989"/><path d="M486.7 77.0L487.9 78.1L489.7 77.4L488.5 75.6Z" fill="#7b7b7b" stroke="#7b7b7b"/><path d="M489.7 77.4L490.9 80.3L492.8 81.4L491.6 78.2Z" fill="#565656" stroke="#565656"/><path d="M431.9 67.1L433.1 71.8L435.0 76.8L433.8 72.5Z" fill="#383838" stroke="#383838"/><path d="M438.0 81.8L439.2 84.0L441.0 83.7L439.8 81.6Z" fill="#6b6b6b" stroke="#6b6b6b"/><path d="M444.1 83.1L445.3 82.6L447.1 78.4L445.9 79.4Z" fill="#adadad" stroke="#adadad"/><path d="M447.1 78.4L448.3 76.8L450.2 70.2L449.0 71.8Z" fill="#bfbfbf" stroke="#bfbfbf"/><path d="M453.2 63.8L454.4 64.3L456.3 64.1L455.1 62.6Z" fill="#797979" stroke="#797979"/><path d="M459.3 71.3L460.5 75.7L462.3 81.0L461.1 76.7Z" fill="#383838" stroke="#383838"/><path d="M462.3 81.0L463.5 85.5L465.4 89.1L464.2 85.0Z" fill="#3e3e3e" stroke="#3e3e3e"/><path d="M465.4 89.1L466.6 92.6L468.4 94.2L467.2 90.8Z" fill="#4e4e4e" stroke="#4e4e4e"/><path d="M468.4 94.2L469.6 96.3L471.5 97.1L470.3 94.9Z" fill="#5d5d5d" stroke="#5d5d5d"/><path d="M477.5 95.3L478.7 93.2L480.6 88.9L479.4 91.3Z" fill="#a3a3a3" stroke="#a3a3a3"/><path d="M480.6 88.9L481.8 86.6L483.6 81.5L482.4 83.4Z" fill="#adadad" stroke="#adadad"/><path d="M483.6 81.5L484.8 80.5L486.7 77.0L485.5 77.2Z" fill="#acacac" stroke="#acacac"/><path d="M492.8 81.4L494.0 85.0L495.8 86.4L494.6 82.9Z" fill="#505050" stroke="#505050"/><path d="M495.8 86.4L497.0 89.5L498.8 90.2L497.7 87.3Z" fill="#575757" stroke="#575757"/><path d="M498.8 90.2L500.0 92.2L501.9 92.0L500.7 90.3Z" fill="#6a6a6a" stroke="#6a6a6a"/><path d="M508.0 90.9L509.2 90.4L511.0 89.4L509.8 89.9Z" fill="#828282" stroke="#828282"/><path d="M511.0 89.4L512.2 89.2L514.1 87.8L512.9 88.1Z" fill="#868686" stroke="#868686"/><path d="M514.1 87.8L515.2 88.5L517.1 86.3L515.9 85.7Z" fill="#8e8e8e" stroke="#8e8e8e"/><path d="M454.4 64.3L455.6 66.2L457.4 67.0L456.3 64.1Z" fill="#626262" stroke="#626262"/><path d="M469.6 96.3L470.8 97.1L472.7 97.8L471.5 97.1Z" fill="#656565" stroke="#656565"/><path d="M484.8 80.5L486.0 80.8L487.9 78.1L486.7 77.0Z" fill="#9b9b9b" stroke="#9b9b9b"/><path d="M500.0 92.2L501.2 93.1L503.1 92.7L501.9 92.0Z" fill="#737373" stroke="#737373"/><path d="M503.1 92.7L504.3 92.6L506.1 91.8L504.9 92.0Z" fill="#7e7e7e" stroke="#7e7e7e"/><path d="M506.1 91.8L507.3 91.4L509.2 90.4L508.0 90.9Z" fill="#818181" stroke="#818181"/><path d="M433.1 71.8L434.3 76.0L436.1 80.5L435.0 76.8Z" fill="#3b3b3b" stroke="#3b3b3b"/><path d="M436.1 80.5L437.3 83.0L439.2 84.0L438.0 81.8Z" fill="#575757" stroke="#575757"/><path d="M439.2 84.0L440.4 84.7L442.2 84.5L441.0 83.7Z" fill="#737373" stroke="#737373"/><path d="M442.2 84.5L443.4 84.2L445.3 82.6L444.1 83.1Z" fill="#888888" stroke="#888888"/><path d="M448.3 76.8L449.5 75.6L451.4 68.9L450.2 70.2Z" fill="#c4c4c4" stroke="#c4c4c4"/><path d="M451.4 68.9L452.6 68.7L454.4 64.3L453.2 63.8Z" fill="#bababa" stroke="#bababa"/><path d="M457.4 67.0L458.6 71.0L460.5 75.7L459.3 71.3Z" fill="#3b3b3b" stroke="#3b3b3b"/><path d="M472.7 97.8L473.8 97.2L475.7 97.1L474.5 97.9Z" fill="#747474" stroke="#747474"/><path d="M475.7 97.1L476.9 95.4L478.7 93.2L477.5 95.3Z" fill="#8b8b8b" stroke="#8b8b8b"/><path d="M487.9 78.1L489.1 80.4L490.9 80.3L489.7 77.4Z" fill="#6a6a6a" stroke="#6a6a6a"/><path d="M490.9 80.3L492.1 83.7L494.0 85.0L492.8 81.4Z" fill="#525252" stroke="#525252"/><path d="M445.3 82.6L446.5 81.5L448.3 76.8L447.1 78.4Z" fill="#aeaeae" stroke="#aeaeae"/><path d="M460.5 75.7L461.7 80.4L463.5 85.5L462.3 81.0Z" fill="#383838" stroke="#383838"/><path d="M463.5 85.5L464.7 89.5L466.6 92.6L465.4 89.1Z" fill="#424242" stroke="#424242"/><path d="M466.6 92.6L467.8 95.0L469.6 96.3L468.4 94.2Z" fill="#555555" stroke="#555555"/><path d="M478.7 93.2L479.9 91.0L481.8 86.6L480.6 88.9Z" fill="#a5a5a5" stroke="#a5a5a5"/><path d="M481.8 86.6L483.0 85.2L484.8 80.5L483.6 81.5Z" fill="#bbbbbb" stroke="#bbbbbb"/><path d="M494.0 85.0L495.1 88.3L497.0 89.5L495.8 86.4Z" fill="#525252" stroke="#525252"/><path d="M497.0 89.5L498.2 91.8L500.0 92.2L498.8 90.2Z" fill="#616161" stroke="#616161"/><path d="M509.2 90.4L510.4 90.3L512.2 89.2L511.0 89.4Z" fill="#828282" stroke="#828282"/><path d="M512.2 89.2L513.4 89.9L515.2 88.5L514.1 87.8Z" fill="#858585" stroke="#858585"/><path d="M437.3 83.0L438.5 83.8L440.4 84.7L439.2 84.0Z" fill="#626262" stroke="#626262"/><path d="M446.5 81.5L447.7 80.7L449.5 75.6L448.3 76.8Z" fill="#bfbfbf" stroke="#bfbfbf"/><path d="M452.6 68.7L453.7 69.8L455.6 66.2L454.4 64.3Z" fill="#9b9b9b" stroke="#9b9b9b"/><path d="M455.6 66.2L456.8 69.3L458.6 71.0L457.4 67.0Z" fill="#515151" stroke="#515151"/><path d="M467.8 95.0L469.0 96.0L470.8 97.1L469.6 96.3Z" fill="#5e5e5e" stroke="#5e5e5e"/><path d="M470.8 97.1L472.0 96.7L473.8 97.2L472.7 97.8Z" fill="#6b6b6b" stroke="#6b6b6b"/><path d="M483.0 85.2L484.2 85.0L486.0 80.8L484.8 80.5Z" fill="#b4b4b4" stroke="#b4b4b4"/><path d="M486.0 80.8L487.2 82.3L489.1 80.4L487.9 78.1Z" fill="#888888" stroke="#888888"/><path d="M498.2 91.8L499.4 93.0L501.2 93.1L500.0 92.2Z" fill="#6b6b6b" stroke="#6b6b6b"/><path d="M501.2 93.1L502.4 93.2L504.3 92.6L503.1 92.7Z" fill="#797979" stroke="#797979"/><path d="M504.3 92.6L505.5 92.2L507.3 91.4L506.1 91.8Z" fill="#7f7f7f" stroke="#7f7f7f"/><path d="M507.3 91.4L508.5 91.2L510.4 90.3L509.2 90.4Z" fill="#818181" stroke="#818181"/><path d="M434.3 76.0L435.5 78.8L437.3 83.0L436.1 80.5Z" fill="#3f3f3f" stroke="#3f3f3f"/><path d="M440.4 84.7L441.6 84.3L443.4 84.2L442.2 84.5Z" fill="#757575" stroke="#757575"/><path d="M443.4 84.2L444.6 83.4L446.5 81.5L445.3 82.6Z" fill="#8b8b8b" stroke="#8b8b8b"/><path d="M449.5 75.6L450.7 75.2L452.6 68.7L451.4 68.9Z" fill="#bfbfbf" stroke="#bfbfbf"/><path d="M458.6 71.0L459.8 75.4L461.7 80.4L460.5 75.7Z" fill="#393939" stroke="#393939"/><path d="M473.8 97.2L475.0 95.8L476.9 95.4L475.7 97.1Z" fill="#787878" stroke="#787878"/><path d="M476.9 95.4L478.1 93.6L479.9 91.0L478.7 93.2Z" fill="#8f8f8f" stroke="#8f8f8f"/><path d="M489.1 80.4L490.3 83.3L492.1 83.7L490.9 80.3Z" fill="#5f5f5f" stroke="#5f5f5f"/><path d="M492.1 83.7L493.3 87.0L495.1 88.3L494.0 85.0Z" fill="#525252" stroke="#525252"/><path d="M461.7 80.4L462.9 84.8L464.7 89.5L463.5 85.5Z" fill="#3a3a3a" stroke="#3a3a3a"/><path d="M464.7 89.5L465.9 92.4L467.8 95.0L466.6 92.6Z" fill="#484848" stroke="#484848"/><path d="M479.9 91.0L481.1 89.6L483.0 85.2L481.8 86.6Z" fill="#adadad" stroke="#adadad"/><path d="M495.1 88.3L496.3 90.8L498.2 91.8L497.0 89.5Z" fill="#585858" stroke="#585858"/><path d="M510.4 90.3L511.5 91.0L513.4 89.9L512.2 89.2Z" fill="#808080" stroke="#808080"/><path d="M435.5 78.8L436.7 79.9L438.5 83.8L437.3 83.0Z" fill="#464646" stroke="#464646"/><path d="M438.5 83.8L439.7 83.3L441.6 84.3L440.4 84.7Z" fill="#666666" stroke="#666666"/><path d="M444.6 83.4L445.8 82.9L447.7 80.7L446.5 81.5Z" fill="#8e8e8e" stroke="#8e8e8e"/><path d="M447.7 80.7L448.9 80.7L450.7 75.2L449.5 75.6Z" fill="#c7c7c7" stroke="#c7c7c7"/><path d="M450.7 75.2L451.9 76.1L453.7 69.8L452.6 68.7Z" fill="#aaaaaa" stroke="#aaaaaa"/><path d="M453.7 69.8L454.9 72.0L456.8 69.3L455.6 66.2Z" fill="#888888" stroke="#888888"/><path d="M456.8 69.3L458.0 73.0L459.8 75.4L458.6 71.0Z" fill="#494949" stroke="#494949"/><path d="M465.9 92.4L467.1 93.9L469.0 96.0L467.8 95.0Z" fill="#505050" stroke="#505050"/><path d="M469.0 96.0L470.1 95.8L472.0 96.7L470.8 97.1Z" fill="#666666" stroke="#666666"/><path d="M472.0 96.7L473.2 95.6L475.0 95.8L473.8 97.2Z" fill="#6f6f6f" stroke="#6f6f6f"/><path d="M481.1 89.6L482.3 89.4L484.2 85.0L483.0 85.2Z" fill="#b8b8b8" stroke="#b8b8b8"/><path d="M484.2 85.0L485.4 86.0L487.2 82.3L486.0 80.8Z" fill="#9f9f9f" stroke="#9f9f9f"/><path d="M487.2 82.3L488.4 84.7L490.3 83.3L489.1 80.4Z" fill="#797979" stroke="#797979"/><path d="M496.3 90.8L497.5 92.3L499.4 93.0L498.2 91.8Z" fill="#616161" stroke="#616161"/><path d="M499.4 93.0L500.6 93.3L502.4 93.2L501.2 93.1Z" fill="#727272" stroke="#727272"/><path d="M502.4 93.2L503.6 92.9L505.5 92.2L504.3 92.6Z" fill="#7b7b7b" stroke="#7b7b7b"/><path d="M505.5 92.2L506.7 92.1L508.5 91.2L507.3 91.4Z" fill="#7f7f7f" stroke="#7f7f7f"/><path d="M508.5 91.2L509.7 92.0L511.5 91.0L510.4 90.3Z" fill="#7e7e7e" stroke="#7e7e7e"/><path d="M441.6 84.3L442.8 83.4L444.6 83.4L443.4 84.2Z" fill="#747474" stroke="#747474"/><path d="M459.8 75.4L461.0 79.7L462.9 84.8L461.7 80.4Z" fill="#393939" stroke="#393939"/><path d="M475.0 95.8L476.2 94.5L478.1 93.6L476.9 95.4Z" fill="#7d7d7d" stroke="#7d7d7d"/><path d="M478.1 93.6L479.3 92.6L481.1 89.6L479.9 91.0Z" fill="#969696" stroke="#969696"/><path d="M490.3 83.3L491.4 86.3L493.3 87.0L492.1 83.7Z" fill="#5a5a5a" stroke="#5a5a5a"/><path d="M493.3 87.0L494.5 89.6L496.3 90.8L495.1 88.3Z" fill="#555555" stroke="#555555"/><path d="M462.9 84.8L464.1 88.1L465.9 92.4L464.7 89.5Z" fill="#3d3d3d" stroke="#3d3d3d"/><path d="M479.3 92.6L480.5 92.7L482.3 89.4L481.1 89.6Z" fill="#a1a1a1" stroke="#a1a1a1"/><path d="M494.5 89.6L495.7 91.2L497.5 92.3L496.3 90.8Z" fill="#5c5c5c" stroke="#5c5c5c"/><path d="M436.7 79.9L437.9 79.6L439.7 83.3L438.5 83.8Z" fill="#4b4b4b" stroke="#4b4b4b"/><path d="M439.7 83.3L440.9 82.3L442.8 83.4L441.6 84.3Z" fill="#666666" stroke="#666666"/><path d="M442.8 83.4L444.0 82.9L445.8 82.9L444.6 83.4Z" fill="#737373" stroke="#737373"/><path d="M445.8 82.9L447.0 83.3L448.9 80.7L447.7 80.7Z" fill="#929292" stroke="#929292"/><path d="M448.9 80.7L450.0 81.9L451.9 76.1L450.7 75.2Z" fill="#aaaaaa" stroke="#aaaaaa"/><path d="M451.9 76.1L453.1 77.9L454.9 72.0L453.7 69.8Z" fill="#9a9a9a" stroke="#9a9a9a"/><path d="M454.9 72.0L456.1 74.7L458.0 73.0L456.8 69.3Z" fill="#7a7a7a" stroke="#7a7a7a"/><path d="M458.0 73.0L459.2 76.6L461.0 79.7L459.8 75.4Z" fill="#454545" stroke="#454545"/><path d="M464.1 88.1L465.3 90.1L467.1 93.9L465.9 92.4Z" fill="#434343" stroke="#434343"/><path d="M467.1 93.9L468.3 94.2L470.1 95.8L469.0 96.0Z" fill="#595959" stroke="#595959"/><path d="M470.1 95.8L471.3 95.0L473.2 95.6L472.0 96.7Z" fill="#6b6b6b" stroke="#6b6b6b"/><path d="M473.2 95.6L474.4 94.6L476.2 94.5L475.0 95.8Z" fill="#737373" stroke="#737373"/><path d="M482.3 89.4L483.5 90.3L485.4 86.0L484.2 85.0Z" fill="#a8a8a8" stroke="#a8a8a8"/><path d="M485.4 86.0L486.6 87.8L488.4 84.7L487.2 82.3Z" fill="#8f8f8f" stroke="#8f8f8f"/><path d="M488.4 84.7L489.6 87.2L491.4 86.3L490.3 83.3Z" fill="#727272" stroke="#727272"/><path d="M497.5 92.3L498.7 92.9L500.6 93.3L499.4 93.0Z" fill="#696969" stroke="#696969"/><path d="M500.6 93.3L501.8 93.2L503.6 92.9L502.4 93.2Z" fill="#767676" stroke="#767676"/><path d="M503.6 92.9L504.8 92.9L506.7 92.1L505.5 92.2Z" fill="#7d7d7d" stroke="#7d7d7d"/><path d="M506.7 92.1L507.8 92.9L509.7 92.0L508.5 91.2Z" fill="#7d7d7d" stroke="#7d7d7d"/><path d="M461.0 79.7L462.2 83.1L464.1 88.1L462.9 84.8Z" fill="#3b3b3b" stroke="#3b3b3b"/><path d="M476.2 94.5L477.4 94.0L479.3 92.6L478.1 93.6Z" fill="#838383" stroke="#838383"/><path d="M491.4 86.3L492.6 88.7L494.5 89.6L493.3 87.0Z" fill="#5b5b5b" stroke="#5b5b5b"/><path d="M440.9 82.3L442.1 81.6L444.0 82.9L442.8 83.4Z" fill="#646464" stroke="#646464"/><path d="M447.0 83.3L448.2 85.0L450.0 81.9L448.9 80.7Z" fill="#919191" stroke="#919191"/><path d="M462.2 83.1L463.4 85.4L465.3 90.1L464.1 88.1Z" fill="#3e3e3e" stroke="#3e3e3e"/><path d="M477.4 94.0L478.6 94.4L480.5 92.7L479.3 92.6Z" fill="#888888" stroke="#888888"/><path d="M480.5 92.7L481.7 93.8L483.5 90.3L482.3 89.4Z" fill="#9d9d9d" stroke="#9d9d9d"/><path d="M492.6 88.7L493.8 90.3L495.7 91.2L494.5 89.6Z" fill="#5f5f5f" stroke="#5f5f5f"/><path d="M495.7 91.2L496.9 92.0L498.7 92.9L497.5 92.3Z" fill="#626262" stroke="#626262"/><path d="M437.9 79.6L439.1 78.7L440.9 82.3L439.7 83.3Z" fill="#4e4e4e" stroke="#4e4e4e"/><path d="M444.0 82.9L445.2 83.4L447.0 83.3L445.8 82.9Z" fill="#717171" stroke="#717171"/><path d="M450.0 81.9L451.2 84.0L453.1 77.9L451.9 76.1Z" fill="#9b9b9b" stroke="#9b9b9b"/><path d="M453.1 77.9L454.3 80.1L456.1 74.7L454.9 72.0Z" fill="#929292" stroke="#929292"/><path d="M456.1 74.7L457.3 77.4L459.2 76.6L458.0 73.0Z" fill="#717171" stroke="#717171"/><path d="M459.2 76.6L460.4 79.5L462.2 83.1L461.0 79.7Z" fill="#434343" stroke="#434343"/><path d="M465.3 90.1L466.4 91.1L468.3 94.2L467.1 93.9Z" fill="#4a4a4a" stroke="#4a4a4a"/><path d="M468.3 94.2L469.5 93.9L471.3 95.0L470.1 95.8Z" fill="#616161" stroke="#616161"/><path d="M471.3 95.0L472.5 94.4L474.4 94.6L473.2 95.6Z" fill="#6f6f6f" stroke="#6f6f6f"/><path d="M474.4 94.6L475.6 94.3L477.4 94.0L476.2 94.5Z" fill="#767676" stroke="#767676"/><path d="M483.5 90.3L484.7 91.8L486.6 87.8L485.4 86.0Z" fill="#999999" stroke="#999999"/><path d="M486.6 87.8L487.7 89.7L489.6 87.2L488.4 84.7Z" fill="#8b8b8b" stroke="#8b8b8b"/><path d="M489.6 87.2L490.8 89.2L492.6 88.7L491.4 86.3Z" fill="#707070" stroke="#707070"/><path d="M498.7 92.9L499.9 93.0L501.8 93.2L500.6 93.3Z" fill="#6e6e6e" stroke="#6e6e6e"/><path d="M501.8 93.2L503.0 93.4L504.8 92.9L503.6 92.9Z" fill="#787878" stroke="#787878"/><path d="M504.8 92.9L506.0 93.7L507.8 92.9L506.7 92.1Z" fill="#7b7b7b" stroke="#7b7b7b"/><path d="M460.4 79.5L461.6 81.4L463.4 85.4L462.2 83.1Z" fill="#444444" stroke="#444444"/><path d="M475.6 94.3L476.8 95.2L478.6 94.4L477.4 94.0Z" fill="#787878" stroke="#787878"/><path d="M490.8 89.2L492.0 90.4L493.8 90.3L492.6 88.7Z" fill="#707070" stroke="#707070"/><path d="M439.1 78.7L440.3 78.2L442.1 81.6L440.9 82.3Z" fill="#4e4e4e" stroke="#4e4e4e"/><path d="M442.1 81.6L443.3 82.2L445.2 83.4L444.0 82.9Z" fill="#5f5f5f" stroke="#5f5f5f"/><path d="M445.2 83.4L446.3 85.4L448.2 85.0L447.0 83.3Z" fill="#6e6e6e" stroke="#6e6e6e"/><path d="M448.2 85.0L449.4 87.7L451.2 84.0L450.0 81.9Z" fill="#8d8d8d" stroke="#8d8d8d"/><path d="M463.4 85.4L464.6 86.7L466.4 91.1L465.3 90.1Z" fill="#424242" stroke="#424242"/><path d="M478.6 94.4L479.8 95.9L481.7 93.8L480.5 92.7Z" fill="#898989" stroke="#898989"/><path d="M481.7 93.8L482.9 95.4L484.7 91.8L483.5 90.3Z" fill="#949494" stroke="#949494"/><path d="M493.8 90.3L495.0 91.1L496.9 92.0L495.7 91.2Z" fill="#636363" stroke="#636363"/><path d="M496.9 92.0L498.1 92.4L499.9 93.0L498.7 92.9Z" fill="#676767" stroke="#676767"/><path d="M451.2 84.0L452.4 86.4L454.3 80.1L453.1 77.9Z" fill="#939393" stroke="#939393"/><path d="M454.3 80.1L455.5 82.2L457.3 77.4L456.1 74.7Z" fill="#939393" stroke="#939393"/><path d="M457.3 77.4L458.5 79.4L460.4 79.5L459.2 76.6Z" fill="#6b6b6b" stroke="#6b6b6b"/><path d="M466.4 91.1L467.6 91.4L469.5 93.9L468.3 94.2Z" fill="#515151" stroke="#515151"/><path d="M469.5 93.9L470.7 93.7L472.5 94.4L471.3 95.0Z" fill="#676767" stroke="#676767"/><path d="M472.5 94.4L473.7 94.4L475.6 94.3L474.4 94.6Z" fill="#727272" stroke="#727272"/><path d="M484.7 91.8L485.9 93.4L487.7 89.7L486.6 87.8Z" fill="#949494" stroke="#949494"/><path d="M487.7 89.7L488.9 91.2L490.8 89.2L489.6 87.2Z" fill="#8a8a8a" stroke="#8a8a8a"/><path d="M499.9 93.0L501.1 93.4L503.0 93.4L501.8 93.2Z" fill="#717171" stroke="#717171"/><path d="M503.0 93.4L504.1 94.3L506.0 93.7L504.8 92.9Z" fill="#777777" stroke="#777777"/><path d="M443.3 82.2L444.5 84.2L446.3 85.4L445.2 83.4Z" fill="#585858" stroke="#585858"/><path d="M458.5 79.4L459.7 80.5L461.6 81.4L460.4 79.5Z" fill="#656565" stroke="#656565"/><path d="M461.6 81.4L462.7 82.5L464.6 86.7L463.4 85.4Z" fill="#454545" stroke="#454545"/><path d="M473.7 94.4L474.9 95.6L476.8 95.2L475.6 94.3Z" fill="#737373" stroke="#737373"/><path d="M476.8 95.2L478.0 97.0L479.8 95.9L478.6 94.4Z" fill="#787878" stroke="#787878"/><path d="M488.9 91.2L490.1 92.0L492.0 90.4L490.8 89.2Z" fill="#898989" stroke="#898989"/><path d="M492.0 90.4L493.2 91.0L495.0 91.1L493.8 90.3Z" fill="#707070" stroke="#707070"/><path d="M440.3 78.2L441.5 79.0L443.3 82.2L442.1 81.6Z" fill="#4b4b4b" stroke="#4b4b4b"/><path d="M446.3 85.4L447.5 88.5L449.4 87.7L448.2 85.0Z" fill="#6a6a6a" stroke="#6a6a6a"/><path d="M449.4 87.7L450.6 90.7L452.4 86.4L451.2 84.0Z" fill="#8d8d8d" stroke="#8d8d8d"/><path d="M464.6 86.7L465.8 87.5L467.6 91.4L466.4 91.1Z" fill="#464646" stroke="#464646"/><path d="M479.8 95.9L481.0 97.9L482.9 95.4L481.7 93.8Z" fill="#898989" stroke="#898989"/><path d="M482.9 95.4L484.0 97.1L485.9 93.4L484.7 91.8Z" fill="#959595" stroke="#959595"/><path d="M495.0 91.1L496.2 91.6L498.1 92.4L496.9 92.0Z" fill="#656565" stroke="#656565"/><path d="M498.1 92.4L499.3 93.0L501.1 93.4L499.9 93.0Z" fill="#696969" stroke="#696969"/><path d="M452.4 86.4L453.6 88.4L455.5 82.2L454.3 80.1Z" fill="#9a9a9a" stroke="#9a9a9a"/><path d="M455.5 82.2L456.7 83.4L458.5 79.4L457.3 77.4Z" fill="#9d9d9d" stroke="#9d9d9d"/><path d="M467.6 91.4L468.8 91.9L470.7 93.7L469.5 93.9Z" fill="#565656" stroke="#565656"/><path d="M470.7 93.7L471.9 94.2L473.7 94.4L472.5 94.4Z" fill="#6b6b6b" stroke="#6b6b6b"/><path d="M485.9 93.4L487.1 94.5L488.9 91.2L487.7 89.7Z" fill="#999999" stroke="#999999"/><path d="M501.1 93.4L502.3 94.6L504.1 94.3L503.0 93.4Z" fill="#717171" stroke="#717171"/><path d="M441.5 79.0L442.6 81.2L444.5 84.2L443.3 82.2Z" fill="#484848" stroke="#484848"/><path d="M444.5 84.2L445.7 87.4L447.5 88.5L446.3 85.4Z" fill="#545454" stroke="#545454"/><path d="M447.5 88.5L448.7 91.9L450.6 90.7L449.4 87.7Z" fill="#6d6d6d" stroke="#6d6d6d"/><path d="M450.6 90.7L451.8 93.2L453.6 88.4L452.4 86.4Z" fill="#929292" stroke="#929292"/><path d="M456.7 83.4L457.9 83.6L459.7 80.5L458.5 79.4Z" fill="#a3a3a3" stroke="#a3a3a3"/><path d="M459.7 80.5L460.9 80.9L462.7 82.5L461.6 81.4Z" fill="#5e5e5e" stroke="#5e5e5e"/><path d="M462.7 82.5L463.9 83.4L465.8 87.5L464.6 86.7Z" fill="#454545" stroke="#454545"/><path d="M465.8 87.5L467.0 88.5L468.8 91.9L467.6 91.4Z" fill="#494949" stroke="#494949"/><path d="M471.9 94.2L473.1 95.7L474.9 95.6L473.7 94.4Z" fill="#6d6d6d" stroke="#6d6d6d"/><path d="M474.9 95.6L476.1 97.6L478.0 97.0L476.8 95.2Z" fill="#717171" stroke="#717171"/><path d="M478.0 97.0L479.2 99.2L481.0 97.9L479.8 95.9Z" fill="#787878" stroke="#787878"/><path d="M481.0 97.9L482.2 99.7L484.0 97.1L482.9 95.4Z" fill="#8c8c8c" stroke="#8c8c8c"/><path d="M484.0 97.1L485.2 98.1L487.1 94.5L485.9 93.4Z" fill="#9e9e9e" stroke="#9e9e9e"/><path d="M487.1 94.5L488.3 94.9L490.1 92.0L488.9 91.2Z" fill="#9d9d9d" stroke="#9d9d9d"/><path d="M490.1 92.0L491.3 92.1L493.2 91.0L492.0 90.4Z" fill="#868686" stroke="#868686"/><path d="M493.2 91.0L494.4 91.3L496.2 91.6L495.0 91.1Z" fill="#6e6e6e" stroke="#6e6e6e"/><path d="M496.2 91.6L497.4 92.3L499.3 93.0L498.1 92.4Z" fill="#656565" stroke="#656565"/><path d="M499.3 93.0L500.4 94.3L502.3 94.6L501.1 93.4Z" fill="#696969" stroke="#696969"/><path d="M453.6 88.4L454.8 89.4L456.7 83.4L455.5 82.2Z" fill="#a8a8a8" stroke="#a8a8a8"/><path d="M468.8 91.9L470.0 93.0L471.9 94.2L470.7 93.7Z" fill="#5a5a5a" stroke="#5a5a5a"/><path d="M485.2 98.1L486.4 98.3L488.3 94.9L487.1 94.5Z" fill="#a5a5a5" stroke="#a5a5a5"/><path d="M442.6 81.2L443.8 84.8L445.7 87.4L444.5 84.2Z" fill="#464646" stroke="#464646"/><path d="M445.7 87.4L446.9 91.1L448.7 91.9L447.5 88.5Z" fill="#545454" stroke="#545454"/><path d="M448.7 91.9L449.9 94.9L451.8 93.2L450.6 90.7Z" fill="#777777" stroke="#777777"/><path d="M454.8 89.4L456.0 89.2L457.9 83.6L456.7 83.4Z" fill="#c2c2c2" stroke="#c2c2c2"/><path d="M457.9 83.6L459.0 83.1L460.9 80.9L459.7 80.5Z" fill="#969696" stroke="#969696"/><path d="M460.9 80.9L462.1 81.1L463.9 83.4L462.7 82.5Z" fill="#565656" stroke="#565656"/><path d="M463.9 83.4L465.1 84.5L467.0 88.5L465.8 87.5Z" fill="#454545" stroke="#454545"/><path d="M470.0 93.0L471.2 95.0L473.1 95.7L471.9 94.2Z" fill="#5d5d5d" stroke="#5d5d5d"/><path d="M473.1 95.7L474.3 98.0L476.1 97.6L474.9 95.6Z" fill="#6c6c6c" stroke="#6c6c6c"/><path d="M476.1 97.6L477.3 100.0L479.2 99.2L478.0 97.0Z" fill="#717171" stroke="#717171"/><path d="M479.2 99.2L480.3 101.3L482.2 99.7L481.0 97.9Z" fill="#7d7d7d" stroke="#7d7d7d"/><path d="M488.3 94.9L489.5 94.7L491.3 92.1L490.1 92.0Z" fill="#989898" stroke="#989898"/><path d="M491.3 92.1L492.5 92.1L494.4 91.3L493.2 91.0Z" fill="#818181" stroke="#818181"/><path d="M494.4 91.3L495.6 91.9L497.4 92.3L496.2 91.6Z" fill="#6b6b6b" stroke="#6b6b6b"/><path d="M451.8 93.2L453.0 94.5L454.8 89.4L453.6 88.4Z" fill="#a7a7a7" stroke="#a7a7a7"/><path d="M467.0 88.5L468.2 90.3L470.0 93.0L468.8 91.9Z" fill="#4b4b4b" stroke="#4b4b4b"/><path d="M482.2 99.7L483.4 100.8L485.2 98.1L484.0 97.1Z" fill="#919191" stroke="#919191"/><path d="M497.4 92.3L498.6 93.8L500.4 94.3L499.3 93.0Z" fill="#646464" stroke="#646464"/><path d="M443.8 84.8L445.0 88.8L446.9 91.1L445.7 87.4Z" fill="#474747" stroke="#474747"/><path d="M446.9 91.1L448.1 94.3L449.9 94.9L448.7 91.9Z" fill="#595959" stroke="#595959"/><path d="M449.9 94.9L451.1 96.7L453.0 94.5L451.8 93.2Z" fill="#878787" stroke="#878787"/><path d="M453.0 94.5L454.2 94.5L456.0 89.2L454.8 89.4Z" fill="#c6c6c6" stroke="#c6c6c6"/><path d="M456.0 89.2L457.2 88.1L459.0 83.1L457.9 83.6Z" fill="#cbcbcb" stroke="#cbcbcb"/><path d="M459.0 83.1L460.2 82.4L462.1 81.1L460.9 80.9Z" fill="#8b8b8b" stroke="#8b8b8b"/><path d="M462.1 81.1L463.3 81.9L465.1 84.5L463.9 83.4Z" fill="#505050" stroke="#505050"/><path d="M465.1 84.5L466.3 86.6L468.2 90.3L467.0 88.5Z" fill="#444444" stroke="#444444"/><path d="M468.2 90.3L469.4 92.9L471.2 95.0L470.0 93.0Z" fill="#4c4c4c" stroke="#4c4c4c"/><path d="M471.2 95.0L472.4 97.8L474.3 98.0L473.1 95.7Z" fill="#5f5f5f" stroke="#5f5f5f"/><path d="M474.3 98.0L475.5 100.7L477.3 100.0L476.1 97.6Z" fill="#6d6d6d" stroke="#6d6d6d"/><path d="M477.3 100.0L478.5 102.2L480.3 101.3L479.2 99.2Z" fill="#747474" stroke="#747474"/><path d="M480.3 101.3L481.5 102.6L483.4 100.8L482.2 99.7Z" fill="#868686" stroke="#868686"/><path d="M483.4 100.8L484.6 101.1L486.4 98.3L485.2 98.1Z" fill="#999999" stroke="#999999"/><path d="M486.4 98.3L487.6 97.8L489.5 94.7L488.3 94.9Z" fill="#a3a3a3" stroke="#a3a3a3"/><path d="M489.5 94.7L490.7 94.3L492.5 92.1L491.3 92.1Z" fill="#929292" stroke="#929292"/><path d="M492.5 92.1L493.7 92.5L495.6 91.9L494.4 91.3Z" fill="#7b7b7b" stroke="#7b7b7b"/><path d="M495.6 91.9L496.8 93.3L498.6 93.8L497.4 92.3Z" fill="#676767" stroke="#676767"/><path d="M451.1 96.7L452.3 97.1L454.2 94.5L453.0 94.5Z" fill="#929292" stroke="#929292"/><path d="M454.2 94.5L455.3 93.4L457.2 88.1L456.0 89.2Z" fill="#c5c5c5" stroke="#c5c5c5"/><path d="M466.3 86.6L467.5 89.7L469.4 92.9L468.2 90.3Z" fill="#434343" stroke="#434343"/><path d="M469.4 92.9L470.6 96.3L472.4 97.8L471.2 95.0Z" fill="#4e4e4e" stroke="#4e4e4e"/><path d="M481.5 102.6L482.7 103.0L484.6 101.1L483.4 100.8Z" fill="#8c8c8c" stroke="#8c8c8c"/><path d="M484.6 101.1L485.8 100.7L487.6 97.8L486.4 98.3Z" fill="#9b9b9b" stroke="#9b9b9b"/><path d="M487.6 97.8L488.8 97.2L490.7 94.3L489.5 94.7Z" fill="#9f9f9f" stroke="#9f9f9f"/><path d="M445.0 88.8L446.2 92.3L448.1 94.3L446.9 91.1Z" fill="#4a4a4a" stroke="#4a4a4a"/><path d="M448.1 94.3L449.3 96.4L451.1 96.7L449.9 94.9Z" fill="#636363" stroke="#636363"/><path d="M457.2 88.1L458.4 86.8L460.2 82.4L459.0 83.1Z" fill="#bcbcbc" stroke="#bcbcbc"/><path d="M460.2 82.4L461.4 82.3L463.3 81.9L462.1 81.1Z" fill="#7e7e7e" stroke="#7e7e7e"/><path d="M463.3 81.9L464.5 83.7L466.3 86.6L465.1 84.5Z" fill="#4b4b4b" stroke="#4b4b4b"/><path d="M472.4 97.8L473.6 100.8L475.5 100.7L474.3 98.0Z" fill="#636363" stroke="#636363"/><path d="M475.5 100.7L476.6 103.0L478.5 102.2L477.3 100.0Z" fill="#717171" stroke="#717171"/><path d="M478.5 102.2L479.7 103.7L481.5 102.6L480.3 101.3Z" fill="#7c7c7c" stroke="#7c7c7c"/><path d="M490.7 94.3L491.9 94.3L493.7 92.5L492.5 92.1Z" fill="#8e8e8e" stroke="#8e8e8e"/><path d="M493.7 92.5L494.9 93.7L496.8 93.3L495.6 91.9Z" fill="#747474" stroke="#747474"/><path d="M449.3 96.4L450.5 97.0L452.3 97.1L451.1 96.7Z" fill="#6e6e6e" stroke="#6e6e6e"/><path d="M452.3 97.1L453.5 96.3L455.3 93.4L454.2 94.5Z" fill="#969696" stroke="#969696"/><path d="M464.5 83.7L465.7 86.7L467.5 89.7L466.3 86.6Z" fill="#464646" stroke="#464646"/><path d="M467.5 89.7L468.7 93.6L470.6 96.3L469.4 92.9Z" fill="#444444" stroke="#444444"/><path d="M479.7 103.7L480.9 104.2L482.7 103.0L481.5 102.6Z" fill="#828282" stroke="#828282"/><path d="M482.7 103.0L483.9 102.7L485.8 100.7L484.6 101.1Z" fill="#8e8e8e" stroke="#8e8e8e"/><path d="M446.2 92.3L447.4 94.5L449.3 96.4L448.1 94.3Z" fill="#515151" stroke="#515151"/><path d="M455.3 93.4L456.5 91.9L458.4 86.8L457.2 88.1Z" fill="#bababa" stroke="#bababa"/><path d="M458.4 86.8L459.6 86.0L461.4 82.3L460.2 82.4Z" fill="#aeaeae" stroke="#aeaeae"/><path d="M461.4 82.3L462.6 83.4L464.5 83.7L463.3 81.9Z" fill="#6e6e6e" stroke="#6e6e6e"/><path d="M470.6 96.3L471.8 99.9L473.6 100.8L472.4 97.8Z" fill="#535353" stroke="#535353"/><path d="M473.6 100.8L474.8 103.5L476.6 103.0L475.5 100.7Z" fill="#6a6a6a" stroke="#6a6a6a"/><path d="M476.6 103.0L477.8 104.6L479.7 103.7L478.5 102.2Z" fill="#787878" stroke="#787878"/><path d="M485.8 100.7L487.0 100.0L488.8 97.2L487.6 97.8Z" fill="#999999" stroke="#999999"/><path d="M488.8 97.2L490.0 96.9L491.9 94.3L490.7 94.3Z" fill="#999999" stroke="#999999"/><path d="M491.9 94.3L493.1 95.2L494.9 93.7L493.7 92.5Z" fill="#868686" stroke="#868686"/><path d="M447.4 94.5L448.6 95.2L450.5 97.0L449.3 96.4Z" fill="#575757" stroke="#575757"/><path d="M450.5 97.0L451.6 96.3L453.5 96.3L452.3 97.1Z" fill="#747474" stroke="#747474"/><path d="M453.5 96.3L454.7 95.0L456.5 91.9L455.3 93.4Z" fill="#999999" stroke="#999999"/><path d="M456.5 91.9L457.7 90.8L459.6 86.0L458.4 86.8Z" fill="#c3c3c3" stroke="#c3c3c3"/><path d="M462.6 83.4L463.8 85.9L465.7 86.7L464.5 83.7Z" fill="#5d5d5d" stroke="#5d5d5d"/><path d="M465.7 86.7L466.9 90.7L468.7 93.6L467.5 89.7Z" fill="#444444" stroke="#444444"/><path d="M468.7 93.6L469.9 97.7L471.8 99.9L470.6 96.3Z" fill="#474747" stroke="#474747"/><path d="M471.8 99.9L472.9 103.0L474.8 103.5L473.6 100.8Z" fill="#5a5a5a" stroke="#5a5a5a"/><path d="M477.8 104.6L479.0 105.2L480.9 104.2L479.7 103.7Z" fill="#7e7e7e" stroke="#7e7e7e"/><path d="M480.9 104.2L482.1 104.0L483.9 102.7L482.7 103.0Z" fill="#858585" stroke="#858585"/><path d="M483.9 102.7L485.1 102.1L487.0 100.0L485.8 100.7Z" fill="#8f8f8f" stroke="#8f8f8f"/><path d="M487.0 100.0L488.2 99.6L490.0 96.9L488.8 97.2Z" fill="#999999" stroke="#999999"/><path d="M490.0 96.9L491.2 97.6L493.1 95.2L491.9 94.3Z" fill="#919191" stroke="#919191"/><path d="M459.6 86.0L460.8 86.4L462.6 83.4L461.4 82.3Z" fill="#9f9f9f" stroke="#9f9f9f"/><path d="M474.8 103.5L476.0 105.2L477.8 104.6L476.6 103.0Z" fill="#737373" stroke="#737373"/><path d="M448.6 95.2L449.8 94.6L451.6 96.3L450.5 97.0Z" fill="#5d5d5d" stroke="#5d5d5d"/><path d="M451.6 96.3L452.8 95.3L454.7 95.0L453.5 96.3Z" fill="#767676" stroke="#767676"/><path d="M454.7 95.0L455.9 94.1L457.7 90.8L456.5 91.9Z" fill="#a0a0a0" stroke="#a0a0a0"/><path d="M460.8 86.4L462.0 88.2L463.8 85.9L462.6 83.4Z" fill="#898989" stroke="#898989"/><path d="M463.8 85.9L465.0 89.5L466.9 90.7L465.7 86.7Z" fill="#525252" stroke="#525252"/><path d="M466.9 90.7L468.1 95.1L469.9 97.7L468.7 93.6Z" fill="#444444" stroke="#444444"/><path d="M469.9 97.7L471.1 101.4L472.9 103.0L471.8 99.9Z" fill="#4c4c4c" stroke="#4c4c4c"/><path d="M476.0 105.2L477.2 105.9L479.0 105.2L477.8 104.6Z" fill="#7a7a7a" stroke="#7a7a7a"/><path d="M479.0 105.2L480.2 104.9L482.1 104.0L480.9 104.2Z" fill="#818181" stroke="#818181"/><path d="M482.1 104.0L483.3 103.4L485.1 102.1L483.9 102.7Z" fill="#868686" stroke="#868686"/><path d="M485.1 102.1L486.3 101.8L488.2 99.6L487.0 100.0Z" fill="#909090" stroke="#909090"/><path d="M457.7 90.8L458.9 90.9L460.8 86.4L459.6 86.0Z" fill="#b6b6b6" stroke="#b6b6b6"/><path d="M472.9 103.0L474.1 105.2L476.0 105.2L474.8 103.5Z" fill="#666666" stroke="#666666"/><path d="M488.2 99.6L489.4 100.2L491.2 97.6L490.0 96.9Z" fill="#939393" stroke="#939393"/><path d="M449.8 94.6L451.0 93.6L452.8 95.3L451.6 96.3Z" fill="#5e5e5e" stroke="#5e5e5e"/><path d="M452.8 95.3L454.0 94.7L455.9 94.1L454.7 95.0Z" fill="#797979" stroke="#797979"/><path d="M455.9 94.1L457.1 94.4L458.9 90.9L457.7 90.8Z" fill="#a5a5a5" stroke="#a5a5a5"/><path d="M458.9 90.9L460.1 92.4L462.0 88.2L460.8 86.4Z" fill="#9c9c9c" stroke="#9c9c9c"/><path d="M462.0 88.2L463.2 91.2L465.0 89.5L463.8 85.9Z" fill="#767676" stroke="#767676"/><path d="M465.0 89.5L466.2 93.6L468.1 95.1L466.9 90.7Z" fill="#4e4e4e" stroke="#4e4e4e"/><path d="M468.1 95.1L469.2 99.0L471.1 101.4L469.9 97.7Z" fill="#474747" stroke="#474747"/><path d="M471.1 101.4L472.3 104.0L474.1 105.2L472.9 103.0Z" fill="#555555" stroke="#555555"/><path d="M474.1 105.2L475.3 106.2L477.2 105.9L476.0 105.2Z" fill="#717171" stroke="#717171"/><path d="M477.2 105.9L478.4 105.8L480.2 104.9L479.0 105.2Z" fill="#7e7e7e" stroke="#7e7e7e"/><path d="M480.2 104.9L481.4 104.4L483.3 103.4L482.1 104.0Z" fill="#828282" stroke="#828282"/><path d="M483.3 103.4L484.5 103.3L486.3 101.8L485.1 102.1Z" fill="#878787" stroke="#878787"/><path d="M486.3 101.8L487.5 102.4L489.4 100.2L488.2 99.6Z" fill="#8f8f8f" stroke="#8f8f8f"/><path d="M457.1 94.4L458.3 96.0L460.1 92.4L458.9 90.9Z" fill="#959595" stroke="#959595"/><path d="M460.1 92.4L461.3 95.0L463.2 91.2L462.0 88.2Z" fill="#8b8b8b" stroke="#8b8b8b"/><path d="M472.3 104.0L473.5 105.4L475.3 106.2L474.1 105.2Z" fill="#606060" stroke="#606060"/><path d="M475.3 106.2L476.5 106.2L478.4 105.8L477.2 105.9Z" fill="#777777" stroke="#777777"/><path d="M451.0 93.6L452.2 93.0L454.0 94.7L452.8 95.3Z" fill="#5e5e5e" stroke="#5e5e5e"/><path d="M454.0 94.7L455.2 95.3L457.1 94.4L455.9 94.1Z" fill="#7c7c7c" stroke="#7c7c7c"/><path d="M463.2 91.2L464.4 94.8L466.2 93.6L465.0 89.5Z" fill="#6c6c6c" stroke="#6c6c6c"/><path d="M466.2 93.6L467.4 97.5L469.2 99.0L468.1 95.1Z" fill="#4e4e4e" stroke="#4e4e4e"/><path d="M469.2 99.0L470.4 102.0L472.3 104.0L471.1 101.4Z" fill="#4c4c4c" stroke="#4c4c4c"/><path d="M478.4 105.8L479.6 105.3L481.4 104.4L480.2 104.9Z" fill="#7f7f7f" stroke="#7f7f7f"/><path d="M481.4 104.4L482.6 104.3L484.5 103.3L483.3 103.4Z" fill="#828282" stroke="#828282"/><path d="M484.5 103.3L485.6 104.0L487.5 102.4L486.3 101.8Z" fill="#878787" stroke="#878787"/><path d="M455.2 95.3L456.4 97.3L458.3 96.0L457.1 94.4Z" fill="#797979" stroke="#797979"/><path d="M458.3 96.0L459.5 98.8L461.3 95.0L460.1 92.4Z" fill="#8b8b8b" stroke="#8b8b8b"/><path d="M470.4 102.0L471.6 103.8L473.5 105.4L472.3 104.0Z" fill="#545454" stroke="#545454"/><path d="M473.5 105.4L474.7 105.8L476.5 106.2L475.3 106.2Z" fill="#6a6a6a" stroke="#6a6a6a"/><path d="M452.2 93.0L453.4 93.9L455.2 95.3L454.0 94.7Z" fill="#5b5b5b" stroke="#5b5b5b"/><path d="M461.3 95.0L462.5 98.2L464.4 94.8L463.2 91.2Z" fill="#848484" stroke="#848484"/><path d="M464.4 94.8L465.5 98.1L467.4 97.5L466.2 93.6Z" fill="#686868" stroke="#686868"/><path d="M467.4 97.5L468.6 100.4L470.4 102.0L469.2 99.0Z" fill="#515151" stroke="#515151"/><path d="M476.5 106.2L477.7 105.9L479.6 105.3L478.4 105.8Z" fill="#7a7a7a" stroke="#7a7a7a"/><path d="M479.6 105.3L480.8 105.2L482.6 104.3L481.4 104.4Z" fill="#7f7f7f" stroke="#7f7f7f"/><path d="M482.6 104.3L483.8 105.1L485.6 104.0L484.5 103.3Z" fill="#808080" stroke="#808080"/><path d="M453.4 93.9L454.6 96.3L456.4 97.3L455.2 95.3Z" fill="#575757" stroke="#575757"/><path d="M456.4 97.3L457.6 100.6L459.5 98.8L458.3 96.0Z" fill="#757575" stroke="#757575"/><path d="M459.5 98.8L460.7 102.1L462.5 98.2L461.3 95.0Z" fill="#878787" stroke="#878787"/><path d="M462.5 98.2L463.7 101.1L465.5 98.1L464.4 94.8Z" fill="#848484" stroke="#848484"/><path d="M468.6 100.4L469.8 102.2L471.6 103.8L470.4 102.0Z" fill="#555555" stroke="#555555"/><path d="M471.6 103.8L472.8 104.5L474.7 105.8L473.5 105.4Z" fill="#5c5c5c" stroke="#5c5c5c"/><path d="M474.7 105.8L475.9 105.7L477.7 105.9L476.5 106.2Z" fill="#6f6f6f" stroke="#6f6f6f"/><path d="M477.7 105.9L478.9 105.8L480.8 105.2L479.6 105.3Z" fill="#7b7b7b" stroke="#7b7b7b"/><path d="M465.5 98.1L466.7 100.6L468.6 100.4L467.4 97.5Z" fill="#6a6a6a" stroke="#6a6a6a"/><path d="M480.8 105.2L481.9 106.0L483.8 105.1L482.6 104.3Z" fill="#7d7d7d" stroke="#7d7d7d"/><path d="M454.6 96.3L455.8 100.1L457.6 100.6L456.4 97.3Z" fill="#565656" stroke="#565656"/><path d="M457.6 100.6L458.8 104.3L460.7 102.1L459.5 98.8Z" fill="#767676" stroke="#767676"/><path d="M460.7 102.1L461.8 104.9L463.7 101.1L462.5 98.2Z" fill="#8a8a8a" stroke="#8a8a8a"/><path d="M466.7 100.6L467.9 102.0L469.8 102.2L468.6 100.4Z" fill="#6c6c6c" stroke="#6c6c6c"/><path d="M469.8 102.2L471.0 102.9L472.8 104.5L471.6 103.8Z" fill="#5a5a5a" stroke="#5a5a5a"/><path d="M472.8 104.5L474.0 104.7L475.9 105.7L474.7 105.8Z" fill="#626262" stroke="#626262"/><path d="M475.9 105.7L477.1 105.9L478.9 105.8L477.7 105.9Z" fill="#727272" stroke="#727272"/><path d="M463.7 101.1L464.9 103.2L466.7 100.6L465.5 98.1Z" fill="#898989" stroke="#898989"/><path d="M478.9 105.8L480.1 106.7L481.9 106.0L480.8 105.2Z" fill="#797979" stroke="#797979"/><path d="M455.8 100.1L457.0 104.4L458.8 104.3L457.6 100.6Z" fill="#585858" stroke="#585858"/><path d="M458.8 104.3L460.0 107.6L461.8 104.9L460.7 102.1Z" fill="#7e7e7e" stroke="#7e7e7e"/><path d="M461.8 104.9L463.0 106.8L464.9 103.2L463.7 101.1Z" fill="#929292" stroke="#929292"/><path d="M464.9 103.2L466.1 104.0L467.9 102.0L466.7 100.6Z" fill="#8d8d8d" stroke="#8d8d8d"/><path d="M467.9 102.0L469.1 102.5L471.0 102.9L469.8 102.2Z" fill="#6c6c6c" stroke="#6c6c6c"/><path d="M471.0 102.9L472.2 103.3L474.0 104.7L472.8 104.5Z" fill="#5d5d5d" stroke="#5d5d5d"/><path d="M474.0 104.7L475.2 105.2L477.1 105.9L475.9 105.7Z" fill="#656565" stroke="#656565"/><path d="M477.1 105.9L478.2 107.0L480.1 106.7L478.9 105.8Z" fill="#727272" stroke="#727272"/><path d="M463.0 106.8L464.2 107.3L466.1 104.0L464.9 103.2Z" fill="#a2a2a2" stroke="#a2a2a2"/><path d="M466.1 104.0L467.3 103.9L469.1 102.5L467.9 102.0Z" fill="#8b8b8b" stroke="#8b8b8b"/><path d="M457.0 104.4L458.1 108.2L460.0 107.6L458.8 104.3Z" fill="#626262" stroke="#626262"/><path d="M460.0 107.6L461.2 109.6L463.0 106.8L461.8 104.9Z" fill="#8c8c8c" stroke="#8c8c8c"/><path d="M469.1 102.5L470.3 102.5L472.2 103.3L471.0 102.9Z" fill="#696969" stroke="#696969"/><path d="M472.2 103.3L473.4 103.9L475.2 105.2L474.0 104.7Z" fill="#5e5e5e" stroke="#5e5e5e"/><path d="M475.2 105.2L476.4 106.5L478.2 107.0L477.1 105.9Z" fill="#656565" stroke="#656565"/><path d="M461.2 109.6L462.4 110.2L464.2 107.3L463.0 106.8Z" fill="#989898" stroke="#989898"/><path d="M464.2 107.3L465.4 106.7L467.3 103.9L466.1 104.0Z" fill="#a0a0a0" stroke="#a0a0a0"/><path d="M458.1 108.2L459.3 110.6L461.2 109.6L460.0 107.6Z" fill="#727272" stroke="#727272"/><path d="M467.3 103.9L468.5 103.5L470.3 102.5L469.1 102.5Z" fill="#848484" stroke="#848484"/><path d="M470.3 102.5L471.5 103.0L473.4 103.9L472.2 103.3Z" fill="#656565" stroke="#656565"/><path d="M473.4 103.9L474.6 105.4L476.4 106.5L475.2 105.2Z" fill="#5c5c5c" stroke="#5c5c5c"/><path d="M459.3 110.6L460.5 111.4L462.4 110.2L461.2 109.6Z" fill="#818181" stroke="#818181"/><path d="M462.4 110.2L463.6 109.5L465.4 106.7L464.2 107.3Z" fill="#9a9a9a" stroke="#9a9a9a"/><path d="M465.4 106.7L466.6 105.9L468.5 103.5L467.3 103.9Z" fill="#959595" stroke="#959595"/><path d="M468.5 103.5L469.7 103.5L471.5 103.0L470.3 102.5Z" fill="#7c7c7c" stroke="#7c7c7c"/><path d="M471.5 103.0L472.7 104.4L474.6 105.4L473.4 103.9Z" fill="#5f5f5f" stroke="#5f5f5f"/><path d="M460.5 111.4L461.7 110.9L463.6 109.5L462.4 110.2Z" fill="#868686" stroke="#868686"/><path d="M463.6 109.5L464.8 108.4L466.6 105.9L465.4 106.7Z" fill="#959595" stroke="#959595"/><path d="M466.6 105.9L467.8 105.5L469.7 103.5L468.5 103.5Z" fill="#909090" stroke="#909090"/><path d="M469.7 103.5L470.9 104.6L472.7 104.4L471.5 103.0Z" fill="#727272" stroke="#727272"/><path d="M461.7 110.9L462.9 109.9L464.8 108.4L463.6 109.5Z" fill="#878787" stroke="#878787"/><path d="M464.8 108.4L466.0 107.8L467.8 105.5L466.6 105.9Z" fill="#939393" stroke="#939393"/><path d="M467.8 105.5L469.0 106.2L470.9 104.6L469.7 103.5Z" fill="#898989" stroke="#898989"/><path d="M462.9 109.9L464.1 109.3L466.0 107.8L464.8 108.4Z" fill="#888888" stroke="#888888"/><path d="M466.0 107.8L467.2 108.5L469.0 106.2L467.8 105.5Z" fill="#909090" stroke="#909090"/><path d="M464.1 109.3L465.3 110.1L467.2 108.5L466.0 107.8Z" fill="#878787" stroke="#878787"/></g></g></defs>
<path d="M417.6 83.6 L465.3 142.3 L539.3 104.6" fill="none" stroke="#222" stroke-width="0.7"/><path d="M417.6 83.6 L491.6 45.9 L539.3 104.6" fill="none" stroke="#222" stroke-width="0.7"/><path d="M465.3 142.3 V110.3" stroke="#222" stroke-width="0.7"/><path d="M539.3 104.6 V74.6" stroke="#222" stroke-width="0.7"/><path d="M417.6 83.6 V12.8" stroke="#222" stroke-width="0.7"/><path d="M417.6 11.2 l-1 2.6 h2z" fill="#222"/>
<use href="#surf" x="0.0" y="0.0"/>
<path d="M420.4 235.4 L468.1 294.1 L542.1 256.4" fill="none" stroke="#222" stroke-width="0.7"/><path d="M420.4 235.4 L494.4 197.7 L542.1 256.4" fill="none" stroke="#222" stroke-width="0.7"/><path d="M468.1 294.1 V262.1" stroke="#222" stroke-width="0.7"/><path d="M542.1 256.4 V226.4" stroke="#222" stroke-width="0.7"/><path d="M420.4 235.4 V164.6" stroke="#222" stroke-width="0.7"/><path d="M420.4 163.0 l-1 2.6 h2z" fill="#222"/>
<use href="#surf" x="2.8" y="151.8"/>
<text transform="translate(415.2 45.3) rotate(-90)" font-size="6.9" text-anchor="middle" fill="#111" stroke="#111" stroke-width="0.18" font-family="DejaVu Sans, Liberation Sans, sans-serif">Energy</text>
<text x="414.4" y="89.2" font-size="5.6" text-anchor="middle" fill="#111" stroke="#111" stroke-width="0.18" font-family="DejaVu Sans, Liberation Sans, sans-serif">0</text>
<text x="457.6" y="146.3" font-size="5.6" text-anchor="middle" fill="#111" stroke="#111" stroke-width="0.18" font-family="DejaVu Sans, Liberation Sans, sans-serif">360</text>
<text x="468.4" y="148.8" font-size="5.6" text-anchor="middle" fill="#111" stroke="#111" stroke-width="0.18" font-family="DejaVu Sans, Liberation Sans, sans-serif">0</text>
<text x="538.9" y="113.2" font-size="5.6" text-anchor="middle" fill="#111" stroke="#111" stroke-width="0.18" font-family="DejaVu Sans, Liberation Sans, sans-serif">360</text>
<text x="421.5" y="119.9" font-size="6.9" text-anchor="middle" fill="#111" stroke="#111" stroke-width="0.18" font-family="DejaVu Sans, Liberation Sans, sans-serif">ϕ<tspan font-size="4.5" dy="1">1</tspan><tspan dy="-1"> angle (°)</tspan></text>
<text x="522.0" y="133.3" font-size="6.9" text-anchor="middle" fill="#111" stroke="#111" stroke-width="0.18" font-family="DejaVu Sans, Liberation Sans, sans-serif">ϕ<tspan font-size="4.5" dy="1">2</tspan><tspan dy="-1"> angle (°)</tspan></text>
<text transform="translate(417.7 208.0) rotate(-90)" font-size="6.9" text-anchor="middle" fill="#111" stroke="#111" stroke-width="0.18" font-family="DejaVu Sans, Liberation Sans, sans-serif">Energy</text>
<text x="417.7" y="242.2" font-size="5.6" text-anchor="middle" fill="#111" stroke="#111" stroke-width="0.18" font-family="DejaVu Sans, Liberation Sans, sans-serif">0</text>
<text x="460.9" y="299.3" font-size="5.6" text-anchor="middle" fill="#111" stroke="#111" stroke-width="0.18" font-family="DejaVu Sans, Liberation Sans, sans-serif">360</text>
<text x="471.7" y="301.8" font-size="5.6" text-anchor="middle" fill="#111" stroke="#111" stroke-width="0.18" font-family="DejaVu Sans, Liberation Sans, sans-serif">0</text>
<text x="542.2" y="266.2" font-size="5.6" text-anchor="middle" fill="#111" stroke="#111" stroke-width="0.18" font-family="DejaVu Sans, Liberation Sans, sans-serif">360</text>
<text x="424.8" y="272.9" font-size="6.9" text-anchor="middle" fill="#111" stroke="#111" stroke-width="0.18" font-family="DejaVu Sans, Liberation Sans, sans-serif">ϕ<tspan font-size="4.5" dy="1">1</tspan><tspan dy="-1"> angle (°)</tspan></text>
<text x="525.3" y="286.3" font-size="6.9" text-anchor="middle" fill="#111" stroke="#111" stroke-width="0.18" font-family="DejaVu Sans, Liberation Sans, sans-serif">ϕ<tspan font-size="4.5" dy="1">2</tspan><tspan dy="-1"> angle (°)</tspan></text>
<line x1="456.0" y1="50.0" x2="460.6" y2="65.5" stroke="#e02828" stroke-width="1.2" opacity="0.85"/>
<polygon points="460.6,65.5 458.5,63.0 461.0,62.3" fill="#e02020"/>
<line x1="489.6" y1="58.5" x2="477.4" y2="83.5" stroke="#e02828" stroke-width="1.2" opacity="0.85"/>
<polygon points="477.4,83.5 477.5,80.2 479.9,81.4" fill="#e02020"/>
<line x1="493.4" y1="57.5" x2="503.2" y2="68.6" stroke="#e02828" stroke-width="1.2" opacity="0.85"/>
<polygon points="503.2,68.6 500.2,67.2 502.2,65.5" fill="#e02020"/>
<circle cx="454.7" cy="47.0" r="3.5" fill="url(#bK)"/>
<circle cx="490.9" cy="55.2" r="3.5" fill="url(#bK)"/>
<circle cx="461.9" cy="69.0" r="3.9" fill="url(#bB)"/>
<circle cx="505.8" cy="71.6" r="3.9" fill="url(#bB)"/>
<circle cx="476.1" cy="86.9" r="4.4" fill="url(#bR)"/>
<circle cx="495.7" cy="173.8" r="3.5" fill="url(#bK)"/>
<circle cx="480.2" cy="185.7" r="3.5" fill="url(#bK)"/>
<circle cx="498.0" cy="192.2" r="3.5" fill="url(#bK)"/>
<circle cx="433.2" cy="198.8" r="3.5" fill="url(#bK)"/>
<circle cx="453.6" cy="204.4" r="3.5" fill="url(#bK)"/>
<circle cx="509.8" cy="209.3" r="3.5" fill="url(#bK)"/>
<circle cx="481.5" cy="218.6" r="3.5" fill="url(#bK)"/>
<circle cx="444.7" cy="225.1" r="3.5" fill="url(#bK)"/>
<circle cx="521.3" cy="224.1" r="3.5" fill="url(#bK)"/>
<circle cx="466.0" cy="206.0" r="3.7" fill="url(#bB)"/>
<circle cx="465.4" cy="220.9" r="3.7" fill="url(#bB)"/>
<circle cx="507.2" cy="225.8" r="3.7" fill="url(#bB)"/>
<circle cx="478.6" cy="239.0" r="4.0" fill="url(#bR)"/>
</svg></body></html>
